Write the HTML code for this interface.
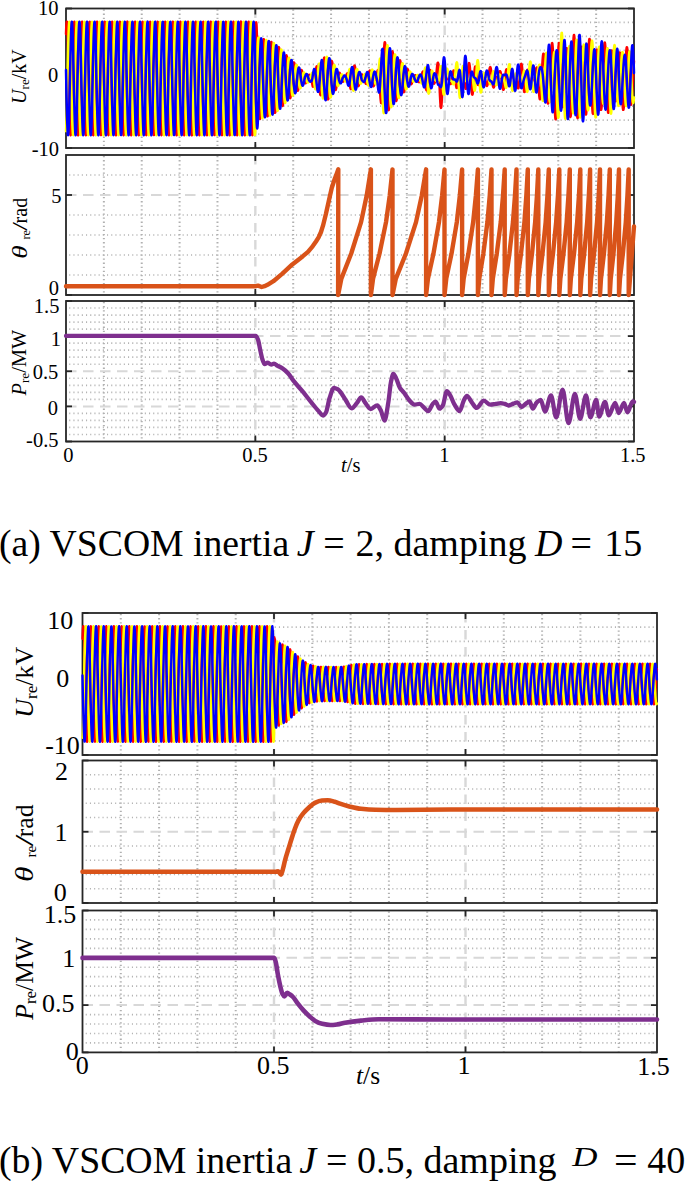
<!DOCTYPE html>
<html><head><meta charset="utf-8"><style>html,body{margin:0;padding:0;background:#fff;width:685px;height:1181px;overflow:hidden}svg{display:block}</style></head>
<body>
<svg width="685" height="1181" viewBox="0 0 685 1181">
<style>
.mn{stroke:#b4b4b4;stroke-width:1.7;stroke-dasharray:1.1 3.1;fill:none}
.mnv{stroke:#b0b0b0;stroke-width:2.0;stroke-dasharray:1.3 2.8;fill:none}
.mj{stroke:#d8d8d8;stroke-width:2;stroke-dasharray:10.5 6.5;fill:none}
.mjv{stroke:#d8d8d8;stroke-width:2.4;stroke-dasharray:9.5 7.5;fill:none}
.bx{fill:none;stroke:#262626;stroke-width:1.8}
.tk{stroke:#262626;stroke-width:1.8}
text{font-family:"Liberation Serif",serif;fill:#000}
</style>
<rect width="685" height="1181" fill="#fff"/>
<line x1="69.20" y1="134.05" x2="633.00" y2="134.05" class="mn"/>
<line x1="69.20" y1="120.10" x2="633.00" y2="120.10" class="mn"/>
<line x1="69.20" y1="106.15" x2="633.00" y2="106.15" class="mn"/>
<line x1="69.20" y1="92.20" x2="633.00" y2="92.20" class="mn"/>
<line x1="69.20" y1="64.30" x2="633.00" y2="64.30" class="mn"/>
<line x1="69.20" y1="50.35" x2="633.00" y2="50.35" class="mn"/>
<line x1="69.20" y1="36.40" x2="633.00" y2="36.40" class="mn"/>
<line x1="69.20" y1="22.45" x2="633.00" y2="22.45" class="mn"/>
<line x1="103.87" y1="9.50" x2="103.87" y2="147.00" class="mnv"/>
<line x1="141.73" y1="9.50" x2="141.73" y2="147.00" class="mnv"/>
<line x1="179.60" y1="9.50" x2="179.60" y2="147.00" class="mnv"/>
<line x1="217.47" y1="9.50" x2="217.47" y2="147.00" class="mnv"/>
<line x1="293.20" y1="9.50" x2="293.20" y2="147.00" class="mnv"/>
<line x1="331.07" y1="9.50" x2="331.07" y2="147.00" class="mnv"/>
<line x1="368.93" y1="9.50" x2="368.93" y2="147.00" class="mnv"/>
<line x1="406.80" y1="9.50" x2="406.80" y2="147.00" class="mnv"/>
<line x1="482.53" y1="9.50" x2="482.53" y2="147.00" class="mnv"/>
<line x1="520.40" y1="9.50" x2="520.40" y2="147.00" class="mnv"/>
<line x1="558.27" y1="9.50" x2="558.27" y2="147.00" class="mnv"/>
<line x1="596.13" y1="9.50" x2="596.13" y2="147.00" class="mnv"/>
<line x1="66.00" y1="78.25" x2="634.00" y2="78.25" class="mj"/>
<line x1="255.33" y1="8.50" x2="255.33" y2="148.00" class="mjv"/>
<line x1="444.67" y1="8.50" x2="444.67" y2="148.00" class="mjv"/>
<line x1="69.20" y1="275.00" x2="633.00" y2="275.00" class="mn"/>
<line x1="69.20" y1="255.00" x2="633.00" y2="255.00" class="mn"/>
<line x1="69.20" y1="235.00" x2="633.00" y2="235.00" class="mn"/>
<line x1="69.20" y1="215.00" x2="633.00" y2="215.00" class="mn"/>
<line x1="69.20" y1="175.00" x2="633.00" y2="175.00" class="mn"/>
<line x1="103.87" y1="156.00" x2="103.87" y2="294.00" class="mnv"/>
<line x1="141.73" y1="156.00" x2="141.73" y2="294.00" class="mnv"/>
<line x1="179.60" y1="156.00" x2="179.60" y2="294.00" class="mnv"/>
<line x1="217.47" y1="156.00" x2="217.47" y2="294.00" class="mnv"/>
<line x1="293.20" y1="156.00" x2="293.20" y2="294.00" class="mnv"/>
<line x1="331.07" y1="156.00" x2="331.07" y2="294.00" class="mnv"/>
<line x1="368.93" y1="156.00" x2="368.93" y2="294.00" class="mnv"/>
<line x1="406.80" y1="156.00" x2="406.80" y2="294.00" class="mnv"/>
<line x1="482.53" y1="156.00" x2="482.53" y2="294.00" class="mnv"/>
<line x1="520.40" y1="156.00" x2="520.40" y2="294.00" class="mnv"/>
<line x1="558.27" y1="156.00" x2="558.27" y2="294.00" class="mnv"/>
<line x1="596.13" y1="156.00" x2="596.13" y2="294.00" class="mnv"/>
<line x1="66.00" y1="195.00" x2="634.00" y2="195.00" class="mj"/>
<line x1="255.33" y1="155.00" x2="255.33" y2="295.00" class="mjv"/>
<line x1="444.67" y1="155.00" x2="444.67" y2="295.00" class="mjv"/>
<line x1="69.20" y1="434.48" x2="633.00" y2="434.48" class="mn"/>
<line x1="69.20" y1="427.45" x2="633.00" y2="427.45" class="mn"/>
<line x1="69.20" y1="420.43" x2="633.00" y2="420.43" class="mn"/>
<line x1="69.20" y1="413.40" x2="633.00" y2="413.40" class="mn"/>
<line x1="69.20" y1="399.35" x2="633.00" y2="399.35" class="mn"/>
<line x1="69.20" y1="392.32" x2="633.00" y2="392.32" class="mn"/>
<line x1="69.20" y1="385.30" x2="633.00" y2="385.30" class="mn"/>
<line x1="69.20" y1="378.27" x2="633.00" y2="378.27" class="mn"/>
<line x1="69.20" y1="364.23" x2="633.00" y2="364.23" class="mn"/>
<line x1="69.20" y1="357.20" x2="633.00" y2="357.20" class="mn"/>
<line x1="69.20" y1="350.18" x2="633.00" y2="350.18" class="mn"/>
<line x1="69.20" y1="343.15" x2="633.00" y2="343.15" class="mn"/>
<line x1="69.20" y1="329.10" x2="633.00" y2="329.10" class="mn"/>
<line x1="69.20" y1="322.07" x2="633.00" y2="322.07" class="mn"/>
<line x1="69.20" y1="315.05" x2="633.00" y2="315.05" class="mn"/>
<line x1="69.20" y1="308.02" x2="633.00" y2="308.02" class="mn"/>
<line x1="103.87" y1="302.00" x2="103.87" y2="440.50" class="mnv"/>
<line x1="141.73" y1="302.00" x2="141.73" y2="440.50" class="mnv"/>
<line x1="179.60" y1="302.00" x2="179.60" y2="440.50" class="mnv"/>
<line x1="217.47" y1="302.00" x2="217.47" y2="440.50" class="mnv"/>
<line x1="293.20" y1="302.00" x2="293.20" y2="440.50" class="mnv"/>
<line x1="331.07" y1="302.00" x2="331.07" y2="440.50" class="mnv"/>
<line x1="368.93" y1="302.00" x2="368.93" y2="440.50" class="mnv"/>
<line x1="406.80" y1="302.00" x2="406.80" y2="440.50" class="mnv"/>
<line x1="482.53" y1="302.00" x2="482.53" y2="440.50" class="mnv"/>
<line x1="520.40" y1="302.00" x2="520.40" y2="440.50" class="mnv"/>
<line x1="558.27" y1="302.00" x2="558.27" y2="440.50" class="mnv"/>
<line x1="596.13" y1="302.00" x2="596.13" y2="440.50" class="mnv"/>
<line x1="66.00" y1="406.38" x2="634.00" y2="406.38" class="mj"/>
<line x1="66.00" y1="371.25" x2="634.00" y2="371.25" class="mj"/>
<line x1="66.00" y1="336.12" x2="634.00" y2="336.12" class="mj"/>
<line x1="255.33" y1="301.00" x2="255.33" y2="441.50" class="mjv"/>
<line x1="444.67" y1="301.00" x2="444.67" y2="441.50" class="mjv"/>
<line x1="85.70" y1="740.80" x2="656.00" y2="740.80" class="mn"/>
<line x1="85.70" y1="726.60" x2="656.00" y2="726.60" class="mn"/>
<line x1="85.70" y1="712.40" x2="656.00" y2="712.40" class="mn"/>
<line x1="85.70" y1="698.20" x2="656.00" y2="698.20" class="mn"/>
<line x1="85.70" y1="669.80" x2="656.00" y2="669.80" class="mn"/>
<line x1="85.70" y1="655.60" x2="656.00" y2="655.60" class="mn"/>
<line x1="85.70" y1="641.40" x2="656.00" y2="641.40" class="mn"/>
<line x1="85.70" y1="627.20" x2="656.00" y2="627.20" class="mn"/>
<line x1="120.80" y1="614.00" x2="120.80" y2="754.00" class="mnv"/>
<line x1="159.10" y1="614.00" x2="159.10" y2="754.00" class="mnv"/>
<line x1="197.40" y1="614.00" x2="197.40" y2="754.00" class="mnv"/>
<line x1="235.70" y1="614.00" x2="235.70" y2="754.00" class="mnv"/>
<line x1="312.30" y1="614.00" x2="312.30" y2="754.00" class="mnv"/>
<line x1="350.60" y1="614.00" x2="350.60" y2="754.00" class="mnv"/>
<line x1="388.90" y1="614.00" x2="388.90" y2="754.00" class="mnv"/>
<line x1="427.20" y1="614.00" x2="427.20" y2="754.00" class="mnv"/>
<line x1="503.80" y1="614.00" x2="503.80" y2="754.00" class="mnv"/>
<line x1="542.10" y1="614.00" x2="542.10" y2="754.00" class="mnv"/>
<line x1="580.40" y1="614.00" x2="580.40" y2="754.00" class="mnv"/>
<line x1="618.70" y1="614.00" x2="618.70" y2="754.00" class="mnv"/>
<line x1="82.50" y1="684.00" x2="657.00" y2="684.00" class="mj"/>
<line x1="274.00" y1="613.00" x2="274.00" y2="755.00" class="mjv"/>
<line x1="465.50" y1="613.00" x2="465.50" y2="755.00" class="mjv"/>
<line x1="85.70" y1="888.75" x2="656.00" y2="888.75" class="mn"/>
<line x1="85.70" y1="874.50" x2="656.00" y2="874.50" class="mn"/>
<line x1="85.70" y1="860.25" x2="656.00" y2="860.25" class="mn"/>
<line x1="85.70" y1="846.00" x2="656.00" y2="846.00" class="mn"/>
<line x1="85.70" y1="817.50" x2="656.00" y2="817.50" class="mn"/>
<line x1="85.70" y1="803.25" x2="656.00" y2="803.25" class="mn"/>
<line x1="85.70" y1="789.00" x2="656.00" y2="789.00" class="mn"/>
<line x1="85.70" y1="774.75" x2="656.00" y2="774.75" class="mn"/>
<line x1="120.80" y1="761.50" x2="120.80" y2="902.00" class="mnv"/>
<line x1="159.10" y1="761.50" x2="159.10" y2="902.00" class="mnv"/>
<line x1="197.40" y1="761.50" x2="197.40" y2="902.00" class="mnv"/>
<line x1="235.70" y1="761.50" x2="235.70" y2="902.00" class="mnv"/>
<line x1="312.30" y1="761.50" x2="312.30" y2="902.00" class="mnv"/>
<line x1="350.60" y1="761.50" x2="350.60" y2="902.00" class="mnv"/>
<line x1="388.90" y1="761.50" x2="388.90" y2="902.00" class="mnv"/>
<line x1="427.20" y1="761.50" x2="427.20" y2="902.00" class="mnv"/>
<line x1="503.80" y1="761.50" x2="503.80" y2="902.00" class="mnv"/>
<line x1="542.10" y1="761.50" x2="542.10" y2="902.00" class="mnv"/>
<line x1="580.40" y1="761.50" x2="580.40" y2="902.00" class="mnv"/>
<line x1="618.70" y1="761.50" x2="618.70" y2="902.00" class="mnv"/>
<line x1="82.50" y1="831.75" x2="657.00" y2="831.75" class="mj"/>
<line x1="274.00" y1="760.50" x2="274.00" y2="903.00" class="mjv"/>
<line x1="465.50" y1="760.50" x2="465.50" y2="903.00" class="mjv"/>
<line x1="85.70" y1="1042.94" x2="656.00" y2="1042.94" class="mn"/>
<line x1="85.70" y1="1033.48" x2="656.00" y2="1033.48" class="mn"/>
<line x1="85.70" y1="1024.02" x2="656.00" y2="1024.02" class="mn"/>
<line x1="85.70" y1="1014.56" x2="656.00" y2="1014.56" class="mn"/>
<line x1="85.70" y1="995.64" x2="656.00" y2="995.64" class="mn"/>
<line x1="85.70" y1="986.18" x2="656.00" y2="986.18" class="mn"/>
<line x1="85.70" y1="976.72" x2="656.00" y2="976.72" class="mn"/>
<line x1="85.70" y1="967.26" x2="656.00" y2="967.26" class="mn"/>
<line x1="85.70" y1="948.34" x2="656.00" y2="948.34" class="mn"/>
<line x1="85.70" y1="938.88" x2="656.00" y2="938.88" class="mn"/>
<line x1="85.70" y1="929.42" x2="656.00" y2="929.42" class="mn"/>
<line x1="85.70" y1="919.96" x2="656.00" y2="919.96" class="mn"/>
<line x1="120.80" y1="911.50" x2="120.80" y2="1051.40" class="mnv"/>
<line x1="159.10" y1="911.50" x2="159.10" y2="1051.40" class="mnv"/>
<line x1="197.40" y1="911.50" x2="197.40" y2="1051.40" class="mnv"/>
<line x1="235.70" y1="911.50" x2="235.70" y2="1051.40" class="mnv"/>
<line x1="312.30" y1="911.50" x2="312.30" y2="1051.40" class="mnv"/>
<line x1="350.60" y1="911.50" x2="350.60" y2="1051.40" class="mnv"/>
<line x1="388.90" y1="911.50" x2="388.90" y2="1051.40" class="mnv"/>
<line x1="427.20" y1="911.50" x2="427.20" y2="1051.40" class="mnv"/>
<line x1="503.80" y1="911.50" x2="503.80" y2="1051.40" class="mnv"/>
<line x1="542.10" y1="911.50" x2="542.10" y2="1051.40" class="mnv"/>
<line x1="580.40" y1="911.50" x2="580.40" y2="1051.40" class="mnv"/>
<line x1="618.70" y1="911.50" x2="618.70" y2="1051.40" class="mnv"/>
<line x1="82.50" y1="1005.10" x2="657.00" y2="1005.10" class="mj"/>
<line x1="82.50" y1="957.80" x2="657.00" y2="957.80" class="mj"/>
<line x1="274.00" y1="910.50" x2="274.00" y2="1052.40" class="mjv"/>
<line x1="465.50" y1="910.50" x2="465.50" y2="1052.40" class="mjv"/>
<rect x="66.00" y="8.50" width="568.00" height="139.50" class="bx"/>
<line x1="66.00" y1="148.00" x2="72.00" y2="148.00" class="tk"/>
<line x1="634.00" y1="148.00" x2="628.00" y2="148.00" class="tk"/>
<line x1="66.00" y1="78.25" x2="72.00" y2="78.25" class="tk"/>
<line x1="634.00" y1="78.25" x2="628.00" y2="78.25" class="tk"/>
<line x1="66.00" y1="8.50" x2="72.00" y2="8.50" class="tk"/>
<line x1="634.00" y1="8.50" x2="628.00" y2="8.50" class="tk"/>
<line x1="255.33" y1="8.50" x2="255.33" y2="14.50" class="tk"/>
<line x1="255.33" y1="148.00" x2="255.33" y2="142.00" class="tk"/>
<line x1="444.67" y1="8.50" x2="444.67" y2="14.50" class="tk"/>
<line x1="444.67" y1="148.00" x2="444.67" y2="142.00" class="tk"/>
<rect x="66.00" y="155.00" width="568.00" height="140.00" class="bx"/>
<line x1="66.00" y1="295.00" x2="72.00" y2="295.00" class="tk"/>
<line x1="634.00" y1="295.00" x2="628.00" y2="295.00" class="tk"/>
<line x1="66.00" y1="195.00" x2="72.00" y2="195.00" class="tk"/>
<line x1="634.00" y1="195.00" x2="628.00" y2="195.00" class="tk"/>
<line x1="255.33" y1="155.00" x2="255.33" y2="161.00" class="tk"/>
<line x1="255.33" y1="295.00" x2="255.33" y2="289.00" class="tk"/>
<line x1="444.67" y1="155.00" x2="444.67" y2="161.00" class="tk"/>
<line x1="444.67" y1="295.00" x2="444.67" y2="289.00" class="tk"/>
<rect x="66.00" y="301.00" width="568.00" height="140.50" class="bx"/>
<line x1="66.00" y1="441.50" x2="72.00" y2="441.50" class="tk"/>
<line x1="634.00" y1="441.50" x2="628.00" y2="441.50" class="tk"/>
<line x1="66.00" y1="406.38" x2="72.00" y2="406.38" class="tk"/>
<line x1="634.00" y1="406.38" x2="628.00" y2="406.38" class="tk"/>
<line x1="66.00" y1="371.25" x2="72.00" y2="371.25" class="tk"/>
<line x1="634.00" y1="371.25" x2="628.00" y2="371.25" class="tk"/>
<line x1="66.00" y1="336.12" x2="72.00" y2="336.12" class="tk"/>
<line x1="634.00" y1="336.12" x2="628.00" y2="336.12" class="tk"/>
<line x1="66.00" y1="301.00" x2="72.00" y2="301.00" class="tk"/>
<line x1="634.00" y1="301.00" x2="628.00" y2="301.00" class="tk"/>
<line x1="255.33" y1="301.00" x2="255.33" y2="307.00" class="tk"/>
<line x1="255.33" y1="441.50" x2="255.33" y2="435.50" class="tk"/>
<line x1="444.67" y1="301.00" x2="444.67" y2="307.00" class="tk"/>
<line x1="444.67" y1="441.50" x2="444.67" y2="435.50" class="tk"/>
<rect x="82.50" y="613.00" width="574.50" height="142.00" class="bx"/>
<line x1="82.50" y1="755.00" x2="88.50" y2="755.00" class="tk"/>
<line x1="657.00" y1="755.00" x2="651.00" y2="755.00" class="tk"/>
<line x1="82.50" y1="684.00" x2="88.50" y2="684.00" class="tk"/>
<line x1="657.00" y1="684.00" x2="651.00" y2="684.00" class="tk"/>
<line x1="82.50" y1="613.00" x2="88.50" y2="613.00" class="tk"/>
<line x1="657.00" y1="613.00" x2="651.00" y2="613.00" class="tk"/>
<line x1="274.00" y1="613.00" x2="274.00" y2="619.00" class="tk"/>
<line x1="274.00" y1="755.00" x2="274.00" y2="749.00" class="tk"/>
<line x1="465.50" y1="613.00" x2="465.50" y2="619.00" class="tk"/>
<line x1="465.50" y1="755.00" x2="465.50" y2="749.00" class="tk"/>
<rect x="82.50" y="760.50" width="574.50" height="142.50" class="bx"/>
<line x1="82.50" y1="903.00" x2="88.50" y2="903.00" class="tk"/>
<line x1="657.00" y1="903.00" x2="651.00" y2="903.00" class="tk"/>
<line x1="82.50" y1="831.75" x2="88.50" y2="831.75" class="tk"/>
<line x1="657.00" y1="831.75" x2="651.00" y2="831.75" class="tk"/>
<line x1="82.50" y1="760.50" x2="88.50" y2="760.50" class="tk"/>
<line x1="657.00" y1="760.50" x2="651.00" y2="760.50" class="tk"/>
<line x1="274.00" y1="760.50" x2="274.00" y2="766.50" class="tk"/>
<line x1="274.00" y1="903.00" x2="274.00" y2="897.00" class="tk"/>
<line x1="465.50" y1="760.50" x2="465.50" y2="766.50" class="tk"/>
<line x1="465.50" y1="903.00" x2="465.50" y2="897.00" class="tk"/>
<rect x="82.50" y="910.50" width="574.50" height="141.90" class="bx"/>
<line x1="82.50" y1="1052.40" x2="88.50" y2="1052.40" class="tk"/>
<line x1="657.00" y1="1052.40" x2="651.00" y2="1052.40" class="tk"/>
<line x1="82.50" y1="1005.10" x2="88.50" y2="1005.10" class="tk"/>
<line x1="657.00" y1="1005.10" x2="651.00" y2="1005.10" class="tk"/>
<line x1="82.50" y1="957.80" x2="88.50" y2="957.80" class="tk"/>
<line x1="657.00" y1="957.80" x2="651.00" y2="957.80" class="tk"/>
<line x1="82.50" y1="910.50" x2="88.50" y2="910.50" class="tk"/>
<line x1="657.00" y1="910.50" x2="651.00" y2="910.50" class="tk"/>
<line x1="274.00" y1="910.50" x2="274.00" y2="916.50" class="tk"/>
<line x1="274.00" y1="1052.40" x2="274.00" y2="1046.40" class="tk"/>
<line x1="465.50" y1="910.50" x2="465.50" y2="916.50" class="tk"/>
<line x1="465.50" y1="1052.40" x2="465.50" y2="1046.40" class="tk"/>
<polyline points="66.00,33.96 66.20,28.74 66.40,24.88 66.60,22.50 66.80,21.65 67.00,22.37 67.20,24.62 67.40,28.35 67.60,33.46 67.80,39.81 68.00,47.21 68.20,55.48 68.40,64.37 68.60,73.66 68.80,83.07 69.00,92.36 69.20,101.26 69.40,109.54 69.60,116.96 69.80,123.33 70.00,128.46 70.20,132.22 70.40,134.51 70.60,135.25 70.80,134.43 71.00,132.08 71.20,128.25 71.40,123.05 71.60,116.63 71.80,109.16 72.00,100.85 72.20,91.92 72.40,82.62 72.60,73.20 72.80,63.94 73.00,55.06 73.20,46.84 73.40,39.48 73.60,33.19 73.80,28.14 74.00,24.48 74.20,22.30 74.40,21.66 74.60,22.58 74.80,25.03 75.00,28.96 75.20,34.24 75.40,40.74 75.60,48.27 75.80,56.63 76.00,65.59 76.20,74.91 76.40,84.32 76.60,93.57 76.80,102.41 77.00,110.58 77.20,117.88 77.40,124.09 77.60,129.05 77.80,132.62 78.00,134.70 78.20,135.23 78.40,134.21 78.60,131.65 78.80,127.63 79.00,122.26 79.20,115.69 79.40,108.10 79.60,99.69 79.80,90.69 80.00,81.36 80.20,71.95 80.40,62.72 80.60,53.93 80.80,45.80 81.00,38.57 81.20,32.44 81.40,27.57 81.60,24.10 81.80,22.12 82.00,21.69 82.20,22.82 82.40,25.47 82.60,29.59 82.80,35.04 83.00,41.69 83.20,49.34 83.40,57.80 83.60,66.82 83.80,76.16 84.00,85.57 84.20,94.78 84.40,103.54 84.60,111.61 84.80,118.77 85.00,124.83 85.20,129.61 85.40,132.98 85.60,134.86 85.80,135.18 86.00,133.95 86.20,131.20 86.40,126.99 86.60,121.45 86.80,114.73 87.00,107.02 87.20,98.52 87.40,89.46 87.60,80.11 87.80,70.71 88.00,61.52 88.20,52.80 88.40,44.78 88.60,37.69 88.80,31.71 89.00,27.02 89.20,23.75 89.40,21.97 89.60,21.75 89.80,23.08 90.00,25.94 90.20,30.24 90.40,35.86 90.60,42.65 90.80,50.43 91.00,58.97 91.20,68.05 91.40,77.42 91.60,86.81 91.80,95.98 92.00,104.66 92.20,112.62 92.40,119.65 92.60,125.54 92.80,130.14 93.00,133.32 93.20,134.99 93.40,135.11 93.60,133.67 93.80,130.72 94.00,126.33 94.20,120.62 94.40,113.76 94.60,105.92 94.80,97.34 95.00,88.23 95.20,78.85 95.40,69.47 95.60,60.33 95.80,51.68 96.00,43.78 96.20,36.82 96.40,31.01 96.60,26.50 96.80,23.42 97.00,21.85 97.20,21.84 97.40,23.38 97.60,26.43 97.80,30.91 98.00,36.70 98.20,43.64 98.40,51.53 98.60,60.16 98.80,69.29 99.00,78.68 99.20,88.05 99.40,97.17 99.60,105.77 99.80,113.62 100.00,120.50 100.20,126.23 100.40,130.65 100.60,133.63 100.80,135.10 101.00,135.01 101.20,133.36 101.40,130.21 101.60,125.64 101.80,119.77 102.00,112.76 102.20,104.82 102.40,96.15 102.60,86.99 102.80,77.60 103.00,68.23 103.20,59.14 103.40,50.58 103.60,42.79 103.80,35.98 104.00,30.33 104.20,26.01 104.40,23.12 104.60,21.76 104.80,21.95 105.00,23.70 105.20,26.95 105.40,31.61 105.60,37.56 105.80,44.64 106.00,52.64 106.20,61.35 106.40,70.53 106.60,79.93 106.80,89.29 107.00,98.35 107.20,106.86 107.40,114.60 107.60,121.34 107.80,126.90 108.00,131.13 108.20,133.91 108.40,135.18 108.60,134.88 108.80,133.03 109.00,129.68 109.20,124.93 109.40,118.90 109.60,111.75 109.80,103.70 110.00,94.95 110.20,85.74 110.40,76.34 110.60,66.99 110.80,57.96 111.00,49.49 111.20,41.82 111.40,35.15 111.60,29.68 111.80,25.54 112.00,22.85 112.20,21.70 112.40,22.10 112.60,24.05 112.80,27.49 113.00,32.34 113.20,38.45 113.40,45.66 113.60,53.77 113.80,62.56 114.00,71.78 114.20,81.19 114.40,90.52 114.60,99.52 114.80,107.95 115.00,115.56 115.20,122.15 115.40,127.54 115.60,131.59 115.80,134.17 116.00,135.23 116.20,134.72 116.40,132.67 116.60,129.13 116.80,124.19 117.00,118.00 117.20,110.73 117.40,102.57 117.60,93.74 117.80,84.50 118.00,75.08 118.20,65.77 118.40,56.79 118.60,48.42 118.80,40.87 119.00,34.35 119.20,29.04 119.40,25.09 119.60,22.61 119.80,21.66 120.00,22.27 120.20,24.42 120.40,28.06 120.60,33.08 120.80,39.35 121.00,46.69 121.20,54.90 121.40,63.77 121.60,73.03 121.80,82.44 122.00,91.75 122.20,100.68 122.40,109.01 122.60,116.50 122.80,122.94 123.00,128.16 123.20,132.02 123.40,134.40 123.60,135.25 123.80,134.53 124.00,132.28 124.20,128.55 124.40,123.44 124.60,117.09 124.80,109.69 125.00,101.42 125.20,92.53 125.40,83.24 125.60,73.83 125.80,64.54 126.00,55.64 126.20,47.36 126.40,39.94 126.60,33.57 126.80,28.44 127.00,24.68 127.20,22.39 127.40,21.65 127.60,22.47 127.80,24.82 128.00,28.65 128.20,33.85 128.40,40.27 128.60,47.74 128.80,56.05 129.00,64.98 129.20,74.28 129.40,83.70 129.60,92.96 129.80,101.84 130.00,110.06 130.20,117.42 130.40,123.71 130.60,128.76 130.80,132.42 131.00,134.60 131.20,135.24 131.40,134.32 131.60,131.87 131.80,127.94 132.00,122.66 132.20,116.16 132.40,108.63 132.60,100.27 132.80,91.31 133.00,81.99 133.20,72.58 133.40,63.33 133.60,54.49 133.80,46.32 134.00,39.02 134.20,32.81 134.40,27.85 134.60,24.28 134.80,22.20 135.00,21.67 135.20,22.69 135.40,25.25 135.60,29.27 135.80,34.64 136.00,41.21 136.20,48.80 136.40,57.21 136.60,66.21 136.80,75.54 137.00,84.95 137.20,94.18 137.40,102.97 137.60,111.10 137.80,118.33 138.00,124.46 138.20,129.33 138.40,132.80 138.60,134.78 138.80,135.21 139.00,134.08 139.20,131.43 139.40,127.31 139.60,121.86 139.80,115.21 140.00,107.56 140.20,99.10 140.40,90.08 140.60,80.74 140.80,71.33 141.00,62.12 141.20,53.36 141.40,45.29 141.60,38.13 141.80,32.07 142.00,27.29 142.20,23.92 142.40,22.04 142.60,21.72 142.80,22.95 143.00,25.70 143.20,29.91 143.40,35.45 143.60,42.17 143.80,49.88 144.00,58.38 144.20,67.44 144.40,76.79 144.60,86.19 144.80,95.38 145.00,104.10 145.20,112.12 145.40,119.21 145.60,125.19 145.80,129.88 146.00,133.15 146.20,134.93 146.40,135.15 146.60,133.82 146.80,130.96 147.00,126.66 147.20,121.04 147.40,114.25 147.60,106.47 147.80,97.93 148.00,88.85 148.20,79.48 148.40,70.09 148.60,60.92 148.80,52.24 149.00,44.28 149.20,37.25 149.40,31.36 149.60,26.76 149.80,23.58 150.00,21.91 150.20,21.79 150.40,23.23 150.60,26.18 150.80,30.57 151.00,36.28 151.20,43.14 151.40,50.98 151.60,59.56 151.80,68.67 152.00,78.05 152.20,87.43 152.40,96.57 152.60,105.22 152.80,113.12 153.00,120.08 153.20,125.89 153.40,130.40 153.60,133.48 153.80,135.05 154.00,135.06 154.20,133.52 154.40,130.47 154.60,125.99 154.80,120.20 155.00,113.26 155.20,105.37 155.40,96.74 155.60,87.61 155.80,78.22 156.00,68.85 156.20,59.73 156.40,51.13 156.60,43.28 156.80,36.40 157.00,30.67 157.20,26.25 157.40,23.27 157.60,21.80 157.80,21.89 158.00,23.54 158.20,26.69 158.40,31.26 158.60,37.13 158.80,44.14 159.00,52.08 159.20,60.75 159.40,69.91 159.60,79.30 159.80,88.67 160.00,97.76 160.20,106.32 160.40,114.11 160.60,120.92 160.80,126.57 161.00,130.89 161.20,133.78 161.40,135.14 161.60,134.95 161.80,133.20 162.00,129.95 162.20,125.29 162.40,119.34 162.60,112.26 162.80,104.26 163.00,95.55 163.20,86.37 163.40,76.97 163.60,67.61 163.80,58.55 164.00,50.04 164.20,42.30 164.40,35.56 164.60,30.00 164.80,25.77 165.00,22.99 165.20,21.72 165.40,22.02 165.60,23.87 165.80,27.22 166.00,31.97 166.20,38.00 166.40,45.15 166.60,53.20 166.80,61.95 167.00,71.16 167.20,80.56 167.40,89.91 167.60,98.94 167.80,107.41 168.00,115.08 168.20,121.75 168.40,127.22 168.60,131.36 168.80,134.05 169.00,135.20 169.20,134.80 169.40,132.85 169.60,129.41 169.80,124.56 170.00,118.45 170.20,111.24 170.40,103.13 170.60,94.34 170.80,85.12 171.00,75.71 171.20,66.38 171.40,57.38 171.60,48.95 171.80,41.34 172.00,34.75 172.20,29.36 172.40,25.31 172.60,22.73 172.80,21.67 173.00,22.18 173.20,24.23 173.40,27.77 173.60,32.71 173.80,38.90 174.00,46.17 174.20,54.33 174.40,63.16 174.60,72.40 174.80,81.82 175.00,91.13 175.20,100.11 175.40,108.48 175.60,116.03 175.80,122.55 176.00,127.86 176.20,131.81 176.40,134.29 176.60,135.24 176.80,134.63 177.00,132.48 177.20,128.84 177.40,123.82 177.60,117.55 177.80,110.21 178.00,102.00 178.20,93.13 178.40,83.87 178.60,74.46 178.80,65.15 179.00,56.22 179.20,47.89 179.40,40.40 179.60,33.96 179.80,28.74 180.00,24.88 180.20,22.50 180.40,21.65 180.60,22.37 180.80,24.62 181.00,28.35 181.20,33.46 181.40,39.81 181.60,47.21 181.80,55.48 182.00,64.37 182.20,73.66 182.40,83.07 182.60,92.36 182.80,101.26 183.00,109.54 183.20,116.96 183.40,123.33 183.60,128.46 183.80,132.22 184.00,134.51 184.20,135.25 184.40,134.43 184.60,132.08 184.80,128.25 185.00,123.05 185.20,116.63 185.40,109.16 185.60,100.85 185.80,91.92 186.00,82.62 186.20,73.20 186.40,63.94 186.60,55.06 186.80,46.84 187.00,39.48 187.20,33.19 187.40,28.14 187.60,24.48 187.80,22.30 188.00,21.66 188.20,22.58 188.40,25.03 188.60,28.96 188.80,34.24 189.00,40.74 189.20,48.27 189.40,56.63 189.60,65.59 189.80,74.91 190.00,84.32 190.20,93.57 190.40,102.41 190.60,110.58 190.80,117.88 191.00,124.09 191.20,129.05 191.40,132.62 191.60,134.70 191.80,135.23 192.00,134.21 192.20,131.65 192.40,127.63 192.60,122.26 192.80,115.69 193.00,108.10 193.20,99.69 193.40,90.69 193.60,81.36 193.80,71.95 194.00,62.72 194.20,53.93 194.40,45.80 194.60,38.57 194.80,32.44 195.00,27.57 195.20,24.10 195.40,22.12 195.60,21.69 195.80,22.82 196.00,25.47 196.20,29.59 196.40,35.04 196.60,41.69 196.80,49.34 197.00,57.80 197.20,66.82 197.40,76.16 197.60,85.57 197.80,94.78 198.00,103.54 198.20,111.61 198.40,118.77 198.60,124.83 198.80,129.61 199.00,132.98 199.20,134.86 199.40,135.18 199.60,133.95 199.80,131.20 200.00,126.99 200.20,121.45 200.40,114.73 200.60,107.02 200.80,98.52 201.00,89.46 201.20,80.11 201.40,70.71 201.60,61.52 201.80,52.80 202.00,44.78 202.20,37.69 202.40,31.71 202.60,27.02 202.80,23.75 203.00,21.97 203.20,21.75 203.40,23.08 203.60,25.94 203.80,30.24 204.00,35.86 204.20,42.65 204.40,50.43 204.60,58.97 204.80,68.05 205.00,77.42 205.20,86.81 205.40,95.98 205.60,104.66 205.80,112.62 206.00,119.65 206.20,125.54 206.40,130.14 206.60,133.32 206.80,134.99 207.00,135.11 207.20,133.67 207.40,130.72 207.60,126.33 207.80,120.62 208.00,113.76 208.20,105.92 208.40,97.34 208.60,88.23 208.80,78.85 209.00,69.47 209.20,60.33 209.40,51.68 209.60,43.78 209.80,36.82 210.00,31.01 210.20,26.50 210.40,23.42 210.60,21.85 210.80,21.84 211.00,23.38 211.20,26.43 211.40,30.91 211.60,36.70 211.80,43.64 212.00,51.53 212.20,60.16 212.40,69.29 212.60,78.68 212.80,88.05 213.00,97.17 213.20,105.77 213.40,113.62 213.60,120.50 213.80,126.23 214.00,130.65 214.20,133.63 214.40,135.10 214.60,135.01 214.80,133.36 215.00,130.21 215.20,125.64 215.40,119.77 215.60,112.76 215.80,104.82 216.00,96.15 216.20,86.99 216.40,77.60 216.60,68.23 216.80,59.14 217.00,50.58 217.20,42.79 217.40,35.98 217.60,30.33 217.80,26.01 218.00,23.12 218.20,21.76 218.40,21.95 218.60,23.70 218.80,26.95 219.00,31.61 219.20,37.56 219.40,44.64 219.60,52.64 219.80,61.35 220.00,70.53 220.20,79.93 220.40,89.29 220.60,98.35 220.80,106.86 221.00,114.60 221.20,121.34 221.40,126.90 221.60,131.13 221.80,133.91 222.00,135.18 222.20,134.88 222.40,133.03 222.60,129.68 222.80,124.93 223.00,118.90 223.20,111.75 223.40,103.70 223.60,94.95 223.80,85.74 224.00,76.34 224.20,66.99 224.40,57.96 224.60,49.49 224.80,41.82 225.00,35.15 225.20,29.68 225.40,25.54 225.60,22.85 225.80,21.70 226.00,22.10 226.20,24.05 226.40,27.49 226.60,32.34 226.80,38.45 227.00,45.66 227.20,53.77 227.40,62.56 227.60,71.78 227.80,81.19 228.00,90.52 228.20,99.52 228.40,107.95 228.60,115.56 228.80,122.15 229.00,127.54 229.20,131.59 229.40,134.17 229.60,135.23 229.80,134.72 230.00,132.67 230.20,129.13 230.40,124.19 230.60,118.00 230.80,110.73 231.00,102.57 231.20,93.74 231.40,84.50 231.60,75.08 231.80,65.77 232.00,56.79 232.20,48.42 232.40,40.87 232.60,34.35 232.80,29.04 233.00,25.09 233.20,22.61 233.40,21.66 233.60,22.27 233.80,24.42 234.00,28.06 234.20,33.08 234.40,39.35 234.60,46.69 234.80,54.90 235.00,63.77 235.20,73.03 235.40,82.44 235.60,91.75 235.80,100.68 236.00,109.01 236.20,116.50 236.40,122.94 236.60,128.16 236.80,132.02 237.00,134.40 237.20,135.25 237.40,134.53 237.60,132.28 237.80,128.55 238.00,123.44 238.20,117.09 238.40,109.69 238.60,101.42 238.80,92.53 239.00,83.24 239.20,73.83 239.40,64.54 239.60,55.64 239.80,47.36 240.00,39.94 240.20,33.57 240.40,28.44 240.60,24.68 240.80,22.39 241.00,21.65 241.20,22.47 241.40,24.82 241.60,28.65 241.80,33.85 242.00,40.27 242.20,47.74 242.40,56.05 242.60,64.98 242.80,74.28 243.00,83.70 243.20,92.96 243.40,101.84 243.60,110.06 243.80,117.42 244.00,123.71 244.20,128.76 244.40,132.42 244.60,134.60 244.80,135.24 245.00,134.32 245.20,131.87 245.40,127.94 245.60,122.66 245.80,116.16 246.00,108.63 246.20,100.27 246.40,91.31 246.60,81.99 246.80,72.58 247.00,63.33 247.20,54.49 247.40,46.32 247.60,39.02 247.80,32.81 248.00,27.85 248.20,24.28 248.40,22.20 248.60,21.67 248.80,22.69 249.00,25.25 249.20,29.27 249.40,34.64 249.60,41.21 249.80,48.80 250.00,57.21 250.20,66.21 250.40,75.54 250.60,84.95 250.80,94.18 251.00,102.97 251.20,111.10 251.40,118.33 251.60,124.46 251.80,129.33 252.00,132.80 252.20,134.78 252.40,135.21 252.60,134.08 252.80,131.43 253.00,127.31 253.20,121.86 253.40,115.21 253.60,107.56 253.80,99.10 254.00,90.08 254.20,80.74 254.40,71.33 254.60,62.12 254.80,53.36 255.00,45.29 255.20,38.13 255.40,32.13 255.60,27.47 255.80,24.24 256.00,22.51 256.20,22.32 256.40,23.66 256.60,27.14 256.80,32.52 257.00,38.89 257.20,46.03 257.40,53.68 257.60,61.58 257.80,69.48 258.00,77.14 258.20,84.34 258.40,90.89 258.60,96.95 258.80,102.69 259.00,107.75 259.20,111.99 259.40,115.30 259.60,117.58 259.80,118.79 260.00,118.88 260.20,117.86 260.40,115.77 260.60,112.66 260.80,108.62 261.00,103.76 261.20,98.23 261.40,92.18 261.60,85.77 261.80,79.17 262.00,72.58 262.20,66.18 262.40,60.13 262.60,54.60 262.80,49.75 263.00,45.70 263.20,42.56 263.40,40.42 263.60,39.33 263.80,39.31 264.00,40.37 264.20,42.47 264.40,45.55 264.60,49.52 264.80,54.27 265.00,59.67 265.20,65.56 265.40,71.79 265.60,78.18 265.80,84.55 266.00,90.74 266.20,96.56 266.40,101.87 266.60,106.51 266.80,110.37 267.00,113.33 267.20,115.33 267.40,116.31 267.60,116.25 267.80,115.15 268.00,113.05 268.20,110.01 268.40,106.12 268.60,101.48 268.80,96.22 269.00,90.50 269.20,84.47 269.40,78.30 269.60,72.16 269.80,66.21 270.00,60.62 270.20,55.54 270.40,51.11 270.60,47.44 270.80,44.64 271.00,42.78 271.20,41.91 271.40,42.03 271.60,43.16 271.80,45.25 272.00,48.24 272.20,52.05 272.40,56.57 272.60,61.67 272.80,67.21 273.00,73.04 273.20,78.99 273.40,84.87 273.60,90.53 273.80,95.80 274.00,100.56 274.20,104.66 274.40,108.02 274.60,110.53 274.80,112.14 275.00,112.81 275.20,112.54 275.40,111.33 275.60,109.24 275.80,106.32 276.00,102.67 276.20,98.38 276.40,93.59 276.60,88.43 276.80,83.05 277.00,77.59 277.20,72.21 277.40,67.05 277.60,62.25 277.80,57.94 278.00,54.23 278.20,51.23 278.40,49.00 278.60,47.59 278.80,47.05 279.00,47.37 279.20,48.54 279.40,50.51 279.60,53.24 279.80,56.62 280.00,60.57 280.20,65.00 280.40,69.73 280.60,74.62 280.80,79.55 281.00,84.37 281.20,88.95 281.40,93.17 281.60,96.92 281.80,100.10 282.00,102.64 282.20,104.47 282.40,105.56 282.60,105.89 282.80,105.47 283.00,104.31 283.20,102.46 283.40,99.99 283.60,96.97 283.80,93.50 284.00,89.68 284.20,85.61 284.40,81.43 284.60,77.24 284.80,73.16 285.00,69.30 285.20,65.76 285.40,62.64 285.60,60.01 285.80,57.94 286.00,56.47 286.20,55.58 286.40,55.33 286.60,55.71 286.80,56.72 287.00,58.30 287.20,60.41 287.40,62.98 287.60,65.93 287.80,69.17 288.00,72.62 288.20,76.16 288.40,79.71 288.60,83.17 288.80,86.43 289.00,89.42 289.20,92.06 289.40,94.28 289.60,96.02 289.80,97.25 290.00,97.95 290.20,98.10 290.40,97.70 290.60,96.79 290.80,95.39 291.00,93.56 291.20,91.35 291.40,88.82 291.60,86.06 291.80,83.15 292.00,80.17 292.20,77.20 292.40,74.33 292.60,71.64 292.80,69.20 293.00,67.06 293.20,65.29 293.40,63.92 293.60,62.98 293.80,62.49 294.00,62.45 294.20,62.85 294.40,63.67 294.60,64.87 294.80,66.41 295.00,68.24 295.20,70.31 295.40,72.55 295.60,74.88 295.80,77.25 296.00,79.59 296.20,81.83 296.40,83.91 296.60,85.78 296.80,87.40 297.00,88.72 297.20,89.72 297.40,90.38 297.60,90.69 297.80,90.65 298.00,90.28 298.20,89.59 298.40,88.62 298.60,87.40 298.80,85.98 299.00,84.40 299.20,82.71 299.40,80.96 299.60,79.21 299.80,77.51 300.00,75.89 300.20,74.42 300.40,73.11 300.60,72.00 300.80,71.12 301.00,70.48 301.20,70.09 301.40,69.95 301.60,70.05 301.80,70.38 302.00,70.93 302.20,71.65 302.40,72.53 302.60,73.54 302.80,74.62 303.00,75.76 303.20,76.91 303.40,78.04 303.60,79.11 303.80,80.10 304.00,80.98 304.20,81.73 304.40,82.34 304.60,82.79 304.80,83.08 305.00,83.22 305.20,83.34 305.40,83.32 305.60,83.16 305.80,82.88 306.00,82.49 306.20,82.00 306.40,81.42 306.60,80.78 306.80,80.10 307.00,79.38 307.20,78.67 307.40,77.97 307.60,77.31 307.80,76.69 308.00,76.15 308.20,75.69 308.40,75.32 308.60,75.05 308.80,74.88 309.00,74.81 309.20,74.85 309.40,74.99 309.60,75.22 309.80,75.53 310.00,75.90 310.20,76.34 310.40,76.81 310.60,77.31 310.80,77.82 311.00,78.33 311.20,78.90 311.40,79.63 311.60,80.51 311.80,81.50 312.00,82.55 312.20,83.62 312.40,84.65 312.60,85.60 312.80,86.39 313.00,86.65 313.20,86.67 313.40,86.46 313.60,85.99 313.80,85.29 314.00,84.35 314.20,83.20 314.40,81.86 314.60,80.36 314.80,78.74 315.00,77.05 315.20,75.33 315.40,73.62 315.60,71.99 315.80,70.48 316.00,69.14 316.20,68.02 316.40,67.16 316.60,66.59 316.80,66.33 317.00,66.42 317.20,66.85 317.40,67.62 317.60,68.73 317.80,70.15 318.00,71.85 318.20,73.79 318.40,75.93 318.60,78.20 318.80,80.55 319.00,82.94 319.20,85.29 319.40,87.53 319.60,89.59 319.80,91.41 320.00,92.93 320.20,94.08 320.40,94.83 320.60,95.14 320.80,94.98 321.00,94.34 321.20,93.24 321.40,91.68 321.60,89.70 321.80,87.33 322.00,84.65 322.20,81.71 322.40,78.59 322.60,75.37 322.80,72.16 323.00,69.02 323.20,66.16 323.40,63.60 323.60,61.41 323.80,59.67 324.00,58.43 324.20,57.72 324.40,57.59 324.60,58.02 324.80,59.03 325.00,60.60 325.20,62.67 325.40,65.21 325.60,68.15 325.80,71.41 326.00,74.90 326.20,78.54 326.40,82.14 326.60,85.60 326.80,88.84 327.00,91.76 327.20,94.29 327.40,96.37 327.60,97.93 327.80,98.95 328.00,99.39 328.20,99.26 328.40,98.56 328.60,97.31 328.80,95.56 329.00,93.36 329.20,90.77 329.40,87.87 329.60,84.74 329.80,81.47 330.00,78.15 330.20,74.90 330.40,71.85 330.60,69.08 330.80,66.64 331.00,64.61 331.20,63.02 331.40,61.91 331.60,61.29 331.80,61.16 332.00,61.52 332.20,62.33 332.40,63.56 332.60,65.15 332.80,67.06 333.00,69.20 333.20,71.53 333.40,73.95 333.60,76.41 333.80,78.82 334.00,81.13 334.20,83.27 334.40,85.18 334.60,86.82 334.80,88.14 335.00,89.12 335.20,89.75 335.40,90.03 335.60,89.97 335.80,89.59 336.00,88.91 336.20,87.97 336.40,86.82 336.60,85.50 336.80,84.07 337.00,82.56 337.20,81.04 337.40,79.55 337.60,78.14 337.80,76.85 338.00,75.70 338.20,74.73 338.40,73.95 338.60,73.38 338.80,73.02 339.00,72.86 339.20,72.71 339.40,72.73 339.60,72.90 339.80,73.23 340.00,73.68 340.20,74.24 340.40,74.90 340.60,75.62 340.80,76.38 341.00,77.15 341.20,77.92 341.40,78.66 341.60,79.35 341.80,79.97 342.00,80.50 342.20,80.94 342.40,81.28 342.60,81.51 342.80,81.64 343.00,81.66 343.20,81.59 343.40,81.42 343.60,81.31 343.80,81.13 344.00,80.87 344.20,80.54 344.40,80.15 344.60,79.72 344.80,79.26 345.00,78.77 345.20,78.27 345.40,77.78 345.60,77.31 345.80,76.86 346.00,76.47 346.20,75.85 346.40,75.23 346.60,74.65 346.80,74.12 347.00,73.70 347.20,73.41 347.40,73.27 347.60,73.30 347.80,73.54 348.00,73.98 348.20,74.62 348.40,75.47 348.60,76.50 348.80,77.70 349.00,79.03 349.20,80.46 349.40,81.95 349.60,83.45 349.80,84.91 350.00,86.28 350.20,87.32 350.40,88.13 350.60,88.69 350.80,88.98 351.00,88.98 351.20,88.69 351.40,88.09 351.60,87.22 351.80,86.07 352.00,84.68 352.20,83.09 352.40,81.32 352.60,79.44 352.80,77.48 353.00,75.51 353.20,73.58 353.40,71.74 353.60,70.04 353.80,68.55 354.00,67.30 354.20,66.33 354.40,65.69 354.60,65.59 354.80,66.06 355.00,66.85 355.20,67.93 355.40,69.25 355.60,70.77 355.80,72.43 356.00,74.17 356.20,75.94 356.40,77.70 356.60,79.37 356.80,80.93 357.00,82.33 357.20,83.54 357.40,84.53 357.60,85.28 357.80,85.79 358.00,86.05 358.20,86.16 358.40,86.05 358.60,85.73 358.80,85.22 359.00,84.55 359.20,83.74 359.40,82.83 359.60,81.85 359.80,80.83 360.00,79.81 360.20,78.81 360.40,77.87 360.60,77.01 360.80,76.26 361.00,75.62 361.20,75.12 361.40,74.75 361.60,74.53 361.80,74.44 362.00,74.49 362.20,74.65 362.40,74.92 362.60,75.27 362.80,75.68 363.00,76.14 363.20,76.38 363.40,76.72 363.60,77.15 363.80,77.67 364.00,78.26 364.20,78.90 364.40,79.59 364.60,80.30 364.80,81.00 365.00,81.68 365.20,82.31 365.40,82.86 365.60,83.31 365.80,83.65 366.00,83.85 366.20,83.90 366.40,83.78 366.60,83.51 366.80,83.07 367.00,82.46 367.20,81.71 367.40,80.82 367.60,79.82 367.80,78.73 368.00,77.57 368.20,76.41 368.40,75.27 368.60,74.19 368.80,73.20 369.00,72.33 369.20,71.61 369.40,71.06 369.60,70.70 369.80,70.56 370.00,70.63 370.20,70.93 370.40,71.44 370.60,72.17 370.80,73.08 371.00,74.18 371.20,75.41 371.40,76.76 371.60,78.19 371.80,79.66 372.00,81.13 372.20,82.44 372.40,83.60 372.60,84.56 372.80,85.33 373.00,85.87 373.20,86.19 373.40,86.29 373.60,86.16 373.80,85.82 374.00,85.29 374.20,84.60 374.40,83.76 374.60,82.81 374.80,81.79 375.00,80.71 375.20,79.63 375.40,78.56 375.60,77.55 375.80,76.61 376.00,75.77 376.20,75.06 376.40,74.48 376.60,74.04 376.80,73.75 377.00,73.62 377.20,72.48 377.40,71.47 377.60,70.67 377.80,70.17 378.00,70.02 378.20,70.28 378.40,70.99 378.60,72.16 378.80,73.80 379.00,75.87 379.20,78.34 379.40,81.14 379.60,84.19 379.80,87.40 380.00,90.66 380.20,93.69 380.40,96.47 380.60,98.91 380.80,100.89 381.00,102.32 381.20,103.11 381.40,103.21 381.60,102.56 381.80,101.14 382.00,98.96 382.20,96.04 382.40,92.43 382.60,88.20 382.80,83.46 383.00,78.32 383.20,72.93 383.40,67.43 383.60,61.98 383.80,56.76 384.00,51.93 384.20,47.66 384.40,44.56 384.60,42.86 384.80,42.16 385.00,42.45 385.20,43.74 385.40,45.95 385.60,49.02 385.80,52.86 386.00,57.35 386.20,62.35 386.40,67.72 386.60,73.31 386.80,78.96 387.00,84.52 387.20,89.83 387.40,94.76 387.60,99.16 387.80,102.94 388.00,105.99 388.20,108.24 388.40,109.64 388.60,110.16 388.80,109.81 389.00,108.61 389.20,106.60 389.40,103.85 389.60,100.45 389.80,96.50 390.00,92.12 390.20,87.43 390.40,82.57 390.60,77.68 390.80,72.90 391.00,68.34 391.20,64.13 391.40,60.39 391.60,57.21 391.80,54.66 392.00,52.81 392.20,51.69 392.40,51.33 392.60,51.71 392.80,52.82 393.00,54.61 393.20,57.02 393.40,59.98 393.60,63.38 393.80,67.13 394.00,71.13 394.20,75.24 394.40,79.37 394.60,83.39 394.80,87.19 395.00,90.69 395.20,93.78 395.40,96.39 395.60,98.46 395.80,99.94 396.00,100.80 396.20,101.03 396.40,100.64 396.60,99.65 396.80,98.10 397.00,96.04 397.20,93.55 397.40,90.69 397.60,87.56 397.80,84.25 398.00,80.86 398.20,77.47 398.40,74.19 398.60,71.10 398.80,68.29 399.00,65.82 399.20,63.75 399.40,62.14 399.60,61.02 399.80,60.40 400.00,60.29 400.20,60.68 400.40,61.55 400.60,62.87 400.80,64.57 401.00,66.61 401.20,68.92 401.40,71.43 401.60,74.06 401.80,76.74 402.00,79.39 402.20,81.93 402.40,84.31 402.60,86.45 402.80,88.31 403.00,89.84 403.20,91.00 403.40,91.79 403.60,92.18 403.80,92.18 404.00,91.80 404.20,91.07 404.40,90.01 404.60,88.67 404.80,87.10 405.00,85.35 405.20,83.47 405.40,81.52 405.60,79.56 405.80,77.65 406.00,75.84 406.20,74.17 406.40,72.69 406.60,71.44 406.80,70.43 407.00,69.70 407.20,69.21 407.40,68.99 407.60,69.05 407.80,69.37 408.00,69.92 408.20,70.69 408.40,71.64 408.60,72.74 408.80,73.94 409.00,75.21 409.20,76.52 409.40,77.81 409.60,79.05 409.80,80.21 410.00,81.26 410.20,82.17 410.40,82.93 410.60,83.51 410.80,83.91 411.00,84.13 411.20,84.17 411.40,84.05 411.60,83.77 411.80,83.36 412.00,82.83 412.20,82.22 412.40,81.54 412.60,80.83 412.80,80.11 413.00,79.40 413.20,78.73 413.40,78.12 413.60,77.58 413.80,77.13 414.00,76.78 414.20,76.37 414.40,76.01 414.60,75.72 414.80,75.49 415.00,75.34 415.20,75.28 415.40,75.30 415.60,75.41 415.80,75.61 416.00,75.89 416.20,76.25 416.40,76.67 416.60,77.15 416.80,77.68 417.00,78.24 417.20,78.81 417.40,79.38 417.60,79.93 417.80,80.45 418.00,80.93 418.20,81.34 418.40,81.68 418.60,81.94 418.80,82.10 419.00,82.16 419.20,82.12 419.40,81.98 419.60,81.74 419.80,81.40 420.00,80.98 420.20,80.48 420.40,79.91 420.60,79.30 420.80,78.65 421.00,77.99 421.20,77.26 421.40,76.45 421.60,75.61 421.80,74.76 422.00,73.94 422.20,73.18 422.40,72.52 422.60,71.99 422.80,71.63 423.00,71.45 423.20,71.49 423.40,71.76 423.60,72.27 423.80,73.01 424.00,73.98 424.20,75.17 424.40,76.54 424.60,78.06 424.80,79.70 425.00,81.41 425.20,83.10 425.40,84.74 425.60,86.27 425.80,87.62 426.00,88.75 426.20,89.60 426.40,90.14 426.60,90.33 426.80,90.16 427.00,89.62 427.20,88.73 427.40,87.50 427.60,85.98 427.80,84.22 428.00,82.26 428.20,80.10 428.40,78.05 428.60,76.16 428.80,74.49 429.00,73.06 429.20,71.90 429.40,71.02 429.60,70.43 429.80,70.11 430.00,70.05 430.20,70.23 430.40,70.62 430.60,71.19 430.80,71.91 431.00,72.75 431.20,73.67 431.40,74.66 431.60,75.68 431.80,76.71 432.00,77.74 432.20,78.73 432.40,79.68 432.60,80.56 432.80,81.36 433.00,82.06 433.20,82.65 433.40,83.11 433.60,83.44 433.80,83.62 434.00,83.65 434.20,83.52 434.40,83.25 434.60,82.83 434.80,82.28 435.00,81.63 435.20,81.28 435.40,80.68 435.60,79.79 435.80,78.62 436.00,77.18 436.20,75.50 436.40,73.63 436.60,71.64 436.80,69.61 437.00,67.65 437.20,65.86 437.40,64.37 437.60,63.28 437.80,62.71 438.00,62.75 438.20,63.48 438.40,64.93 438.60,67.11 438.80,70.01 439.00,73.55 439.20,77.63 439.40,82.11 439.60,86.81 439.80,91.53 440.00,96.07 440.20,100.00 440.40,103.29 440.60,105.79 440.80,107.37 441.00,107.92 441.20,107.40 441.40,105.82 441.60,103.23 441.80,99.72 442.00,95.43 442.20,90.10 442.40,84.79 442.60,79.72 442.80,75.08 443.00,71.03 443.20,67.67 443.40,65.08 443.60,63.29 443.80,62.28 444.00,62.01 444.20,62.39 444.40,63.32 444.60,64.68 444.80,66.35 445.00,68.19 445.20,70.08 445.40,71.92 445.60,73.62 445.80,75.12 446.00,76.36 446.20,77.35 446.40,78.06 446.60,78.53 446.80,78.80 447.00,78.90 447.20,78.91 447.40,78.85 447.60,78.79 447.80,78.76 448.00,78.81 448.20,78.96 448.40,79.23 448.60,79.62 448.80,80.11 449.00,80.70 449.20,81.34 449.40,82.01 449.60,82.64 449.80,83.21 450.00,83.67 450.20,83.97 450.40,84.09 450.60,84.00 450.80,83.71 451.00,83.19 451.20,82.49 451.40,81.60 451.60,80.58 451.80,79.47 452.00,78.31 452.20,77.09 452.40,75.83 452.60,74.57 452.80,73.38 453.00,72.32 453.20,71.45 453.40,70.82 453.60,70.48 453.80,70.45 454.00,70.75 454.20,71.39 454.40,72.35 454.60,73.60 454.80,75.10 455.00,76.78 455.20,78.57 455.40,80.40 455.60,82.19 455.80,83.86 456.00,85.32 456.20,86.53 456.40,87.41 456.60,87.93 456.80,88.06 457.00,87.80 457.20,87.17 457.40,86.18 457.60,84.89 457.80,83.36 458.00,81.67 458.20,79.86 458.40,78.08 458.60,76.39 458.80,74.86 459.00,73.54 459.20,72.50 459.40,71.73 459.60,71.27 459.80,71.11 460.00,71.22 460.20,71.57 460.40,72.12 460.60,72.81 460.80,73.59 461.00,74.42 461.20,75.22 461.40,75.97 461.60,76.63 461.80,77.17 462.00,77.60 462.20,77.90 462.40,78.11 462.60,78.26 462.80,78.37 463.00,78.51 463.20,78.70 463.40,79.00 463.60,79.43 463.80,80.01 464.00,80.75 464.20,81.65 464.40,82.66 464.60,83.77 464.80,84.91 465.00,86.01 465.20,87.02 465.40,87.85 465.60,88.44 465.80,88.72 466.00,88.64 466.20,88.17 466.40,87.29 466.60,86.00 466.80,84.32 467.00,82.31 467.20,80.02 467.40,77.54 467.60,74.96 467.80,72.40 468.00,69.97 468.20,67.76 468.40,65.89 468.60,64.44 468.80,63.47 469.00,63.05 469.20,63.20 469.40,63.91 469.60,65.17 469.80,66.91 470.00,69.07 470.20,71.39 470.40,74.05 470.60,76.95 470.80,79.98 471.00,83.00 471.20,85.90 471.40,88.55 471.60,90.83 471.80,92.65 472.00,93.92 472.20,94.60 472.40,94.64 472.60,94.06 472.80,92.87 473.00,91.13 473.20,88.93 473.40,86.36 473.60,83.54 473.80,80.59 474.00,77.66 474.20,74.87 474.40,72.33 474.60,70.16 474.80,68.43 475.00,67.22 475.20,66.56 475.40,66.46 475.60,66.89 475.80,67.82 476.00,69.18 476.20,70.88 476.40,72.83 476.60,74.92 476.80,77.04 477.00,79.08 477.20,80.91 477.40,82.46 477.60,83.65 477.80,84.47 478.00,84.90 478.20,84.95 478.40,84.65 478.60,84.05 478.80,83.22 479.00,82.21 479.20,81.10 479.40,79.95 479.60,78.83 479.80,77.80 480.00,76.90 480.20,76.16 480.40,75.60 480.60,75.23 480.80,75.04 481.00,75.01 481.20,75.11 481.40,75.32 481.60,75.59 481.80,75.90 482.00,76.21 482.20,76.50 482.40,76.75 482.60,76.94 482.80,77.08 483.00,77.17 483.20,77.22 483.40,77.26 483.60,77.30 483.80,77.38 484.00,77.51 484.20,77.71 484.40,78.02 484.60,78.43 484.80,78.97 485.00,79.62 485.20,80.37 485.40,81.20 485.60,82.08 485.80,82.97 486.00,83.82 486.20,84.58 486.40,85.22 486.60,85.68 486.80,85.92 487.00,85.91 487.20,85.62 487.40,85.05 487.60,84.20 487.80,83.07 488.00,81.71 488.20,80.15 488.40,78.44 488.60,76.64 488.80,74.83 489.00,73.07 489.20,71.43 489.40,69.98 489.60,68.78 489.80,67.88 490.00,67.32 490.20,67.12 490.40,67.29 490.60,67.84 490.80,68.73 491.00,69.93 491.20,71.40 491.40,73.09 491.60,74.91 491.80,76.81 492.00,78.72 492.20,80.56 492.40,82.27 492.60,83.80 492.80,85.10 493.00,86.12 493.20,86.86 493.40,87.31 493.60,87.46 493.80,87.33 494.00,86.95 494.20,86.36 494.40,85.60 494.60,84.72 494.80,83.76 495.00,82.78 495.20,81.81 495.40,80.89 495.60,80.05 495.80,79.31 496.00,78.68 496.20,78.17 496.40,77.76 496.60,77.45 496.80,77.20 497.00,77.00 497.20,76.82 497.40,76.62 497.60,76.39 497.80,76.10 498.00,75.75 498.20,75.32 498.40,74.81 498.60,74.25 498.80,73.65 499.00,73.03 499.20,72.44 499.40,71.92 499.60,71.50 499.80,71.23 500.00,71.14 500.20,71.27 500.40,71.63 500.60,72.25 500.80,73.14 501.00,74.27 501.20,75.63 501.40,77.18 501.60,78.87 501.80,80.64 502.00,82.44 502.20,84.17 502.40,85.79 502.60,87.21 502.80,88.38 503.00,89.23 503.20,89.72 503.40,89.83 503.60,89.55 503.80,88.87 504.00,87.82 504.20,86.44 504.40,84.78 504.60,82.92 504.80,80.92 505.00,78.86 505.20,76.84 505.40,74.93 505.60,73.21 505.80,71.74 506.00,70.59 506.20,69.79 506.40,69.36 506.60,69.31 506.80,69.63 507.00,70.28 507.20,71.22 507.40,72.40 507.60,73.75 507.80,75.20 508.00,76.68 508.20,78.12 508.40,79.45 508.60,80.62 508.80,81.59 509.00,82.32 509.20,82.81 509.40,83.04 509.60,83.02 509.80,82.79 510.00,82.38 510.20,81.82 510.40,81.16 510.60,80.45 510.80,79.74 511.00,79.06 511.20,78.45 511.40,77.94 511.60,77.53 511.80,77.24 512.00,77.06 512.20,76.98 512.40,76.98 512.60,77.03 512.80,77.10 513.00,77.16 513.20,77.20 513.40,77.18 513.60,77.11 513.80,76.96 514.00,76.76 514.20,76.51 514.40,76.23 514.60,75.97 514.80,75.74 515.00,75.59 515.20,75.56 515.40,75.68 515.60,75.97 515.80,76.47 516.00,77.16 516.20,78.05 516.40,79.12 516.60,80.34 516.80,81.65 517.00,83.01 517.20,84.34 517.40,85.58 517.60,86.65 517.80,87.49 518.00,88.03 518.20,88.22 518.40,88.03 518.60,87.42 518.80,86.41 519.00,85.01 519.20,83.26 519.40,81.22 519.60,78.95 519.80,76.55 520.00,74.12 520.20,71.73 520.40,69.51 520.60,67.54 520.80,65.93 521.00,64.74 521.20,64.05 521.40,63.89 521.60,64.29 521.80,65.23 522.00,66.68 522.20,68.59 522.40,70.89 522.60,73.48 522.80,76.25 523.00,79.09 523.20,81.89 523.40,84.53 523.60,86.90 523.80,88.91 524.00,90.47 524.20,91.54 524.40,92.08 524.60,92.08 524.80,91.55 525.00,90.53 525.20,89.08 525.40,87.27 525.60,85.19 525.80,82.95 526.00,80.63 526.20,78.35 526.40,76.21 526.60,74.28 526.80,72.64 527.00,71.35 527.20,70.44 527.40,69.94 527.60,69.83 527.80,70.10 528.00,70.72 528.20,71.62 528.40,72.74 528.60,74.02 528.80,75.38 529.00,76.75 529.20,78.06 529.40,79.26 529.60,80.29 529.80,81.11 530.00,81.71 530.20,82.05 530.40,82.19 530.60,82.15 530.80,81.96 531.00,81.66 531.20,81.29 531.40,80.89 531.60,80.50 531.80,80.16 532.00,79.89 532.20,79.71 532.40,79.63 532.60,79.64 532.80,79.73 533.00,79.87 533.20,80.03 533.40,80.16 533.60,80.23 533.80,80.19 534.00,80.00 534.20,79.63 534.40,79.07 534.60,78.30 534.80,77.34 535.00,76.19 535.20,74.91 535.40,73.54 535.60,72.15 535.80,70.81 536.00,69.60 536.20,68.59 536.40,67.87 536.60,67.51 536.80,67.56 537.00,68.06 537.20,69.04 537.40,70.50 537.60,72.41 537.80,74.73 538.00,77.40 538.20,80.32 538.40,83.39 538.60,86.49 538.80,89.50 539.00,92.30 539.20,94.77 539.40,96.78 539.60,98.25 539.80,99.11 540.00,99.29 540.20,98.86 540.40,97.73 540.60,95.91 540.80,93.45 541.00,90.42 541.20,86.94 541.40,83.10 541.60,79.05 541.80,74.92 542.00,70.85 542.20,66.97 542.40,63.42 542.60,60.30 542.80,57.71 543.00,55.71 543.20,54.35 543.40,53.66 543.60,53.64 543.80,54.25 544.00,55.46 544.20,57.22 544.40,59.44 544.60,62.06 544.80,65.00 545.00,68.16 545.20,71.47 545.40,74.85 545.60,78.25 545.80,81.59 546.00,84.83 546.20,87.92 546.40,90.83 546.60,93.52 546.80,95.96 547.00,98.12 547.20,99.96 547.40,101.46 547.60,102.58 547.80,103.27 548.00,103.52 548.20,103.16 548.40,102.34 548.60,101.03 548.80,99.24 549.00,96.98 549.20,94.24 549.40,91.04 549.60,87.43 549.80,83.45 550.00,79.17 550.20,74.65 550.40,70.01 550.60,65.34 550.80,60.78 551.00,56.46 551.20,52.52 551.40,49.10 551.60,46.34 551.80,44.36 552.00,43.26 552.20,43.13 552.40,44.03 552.60,45.97 552.80,48.95 553.00,52.92 553.20,57.77 553.40,63.39 553.60,69.62 553.80,76.26 554.00,83.11 554.20,89.95 554.40,96.53 554.60,102.64 554.80,108.06 555.00,112.58 555.20,116.04 555.40,118.31 555.60,119.30 555.80,118.97 556.00,117.32 556.20,114.26 556.40,110.07 556.60,104.89 556.80,98.91 557.00,92.35 557.20,85.44 557.40,78.41 557.60,71.51 557.80,64.97 558.00,59.00 558.20,53.79 558.40,49.50 558.60,46.24 558.80,44.09 559.00,43.10 559.20,43.26 559.40,44.53 559.60,46.84 559.80,50.08 560.00,54.11 560.20,58.78 560.40,63.91 560.60,69.35 560.80,74.90 561.00,80.40 561.20,85.69 561.40,90.62 561.60,95.06 561.80,98.91 562.00,102.08 562.20,104.52 562.40,106.17 562.60,107.03 562.80,107.11 563.00,106.41 563.20,104.99 563.40,102.90 563.60,100.19 563.80,96.96 564.00,93.27 564.20,89.23 564.40,84.93 564.60,80.45 564.80,75.92 565.00,71.42 565.20,67.05 565.40,62.93 565.60,59.14 565.80,55.78 566.00,52.93 566.20,50.69 566.40,49.12 566.60,48.28 566.80,48.21 567.00,48.95 567.20,50.55 567.40,52.95 567.60,56.12 567.80,60.00 568.00,64.51 568.20,69.55 568.40,74.99 568.60,80.70 568.80,86.52 569.00,92.28 569.20,97.80 569.40,102.91 569.60,107.45 569.80,111.25 570.00,114.17 570.20,116.09 570.40,116.92 570.60,116.60 570.80,115.11 571.00,112.47 571.20,108.72 571.40,103.97 571.60,98.33 571.80,91.98 572.00,85.10 572.20,77.91 572.40,70.63 572.60,63.49 572.80,56.73 573.00,50.57 573.20,45.22 573.40,40.85 573.60,37.62 573.80,35.64 574.00,34.96 574.20,35.63 574.40,37.60 574.60,40.82 574.80,45.19 575.00,50.54 575.20,56.70 575.40,63.47 575.60,70.63 575.80,77.94 576.00,85.17 576.20,92.11 576.40,98.53 576.60,104.26 576.80,109.13 577.00,113.02 577.20,115.84 577.40,117.54 577.60,118.11 577.80,117.57 578.00,115.98 578.20,113.42 578.40,110.00 578.60,105.87 578.80,101.15 579.00,96.01 579.20,90.59 579.40,85.05 579.60,79.52 579.80,74.15 580.00,69.05 580.20,64.32 580.40,60.06 580.60,56.32 580.80,53.16 581.00,50.62 581.20,48.70 581.40,47.43 581.60,46.81 581.80,46.83 582.00,47.48 582.20,48.75 582.40,50.62 582.60,53.05 582.80,56.02 583.00,59.49 583.20,63.40 583.40,67.71 583.60,72.34 583.80,77.21 584.00,82.22 584.20,87.28 584.40,92.27 584.60,97.06 584.80,101.51 585.00,105.51 585.20,108.92 585.40,111.62 585.60,113.50 585.80,114.46 586.00,114.44 586.20,113.40 586.40,111.33 586.60,108.26 586.80,104.24 587.00,99.36 587.20,93.77 587.40,87.61 587.60,81.08 587.80,74.36 588.00,67.69 588.20,61.27 588.40,55.33 588.60,50.06 588.80,45.66 589.00,42.26 589.20,40.00 589.40,38.95 589.60,39.16 589.80,40.61 590.00,43.26 590.20,47.00 590.40,51.72 590.60,57.25 590.80,63.39 591.00,69.94 591.20,76.67 591.40,83.36 591.60,89.79 591.80,95.76 592.00,101.09 592.20,105.62 592.40,109.23 592.60,111.83 592.80,113.37 593.00,113.83 593.20,113.24 593.40,111.65 593.60,109.14 593.80,105.83 594.00,101.84 594.20,97.32 594.40,92.41 594.60,87.27 594.80,82.04 595.00,76.87 595.20,71.90 595.40,67.23 595.60,62.97 595.80,59.21 596.00,56.02 596.20,53.44 596.40,51.50 596.60,50.23 596.80,49.64 597.00,49.70 597.20,50.42 597.40,51.75 597.60,53.66 597.80,56.11 598.00,59.05 598.20,62.42 598.40,66.15 598.60,70.19 598.80,74.44 599.00,78.84 599.20,83.29 599.40,87.70 599.60,91.97 599.80,95.99 600.00,99.68 600.20,102.93 600.40,105.65 600.60,107.74 600.80,109.13 601.00,109.76 601.20,109.58 601.40,108.57 601.60,106.72 601.80,104.06 602.00,100.62 602.20,96.49 602.40,91.77 602.60,86.56 602.80,81.01 603.00,75.28 603.20,69.54 603.40,63.96 603.60,58.71 603.80,53.96 604.00,49.87 604.20,46.59 604.40,44.22 604.60,42.85 604.80,42.55 605.00,43.34 605.20,45.21 605.40,48.11 605.60,51.95 605.80,56.60 606.00,61.93 606.20,67.77 606.40,73.92 606.60,80.20 606.80,86.39 607.00,92.30 607.20,97.74 607.40,102.54 607.60,106.55 607.80,109.64 608.00,111.73 608.20,112.76 608.40,112.72 608.60,111.62 608.80,109.51 609.00,106.48 609.20,102.65 609.40,98.15 609.60,93.14 609.80,87.79 610.00,82.28 610.20,76.79 610.40,71.49 610.60,66.53 610.80,62.07 611.00,58.22 611.20,55.08 611.40,52.73 611.60,51.20 611.80,50.51 612.00,50.66 612.20,51.60 612.40,53.28 612.60,55.62 612.80,58.53 613.00,61.90 613.20,65.63 613.40,69.60 613.60,73.69 613.80,77.79 614.00,81.80 614.20,85.62 614.40,89.15 614.60,92.33 614.80,95.09 615.00,97.37 615.20,99.14 615.40,100.36 615.60,101.03 615.80,101.13 616.00,100.66 616.20,99.65 616.40,98.11 616.60,96.08 616.80,93.60 617.00,90.72 617.20,87.50 617.40,84.01 617.60,80.32 617.80,76.51 618.00,72.67 618.20,68.90 618.40,65.30 618.60,61.96 618.80,58.99 619.00,56.49 619.20,54.53 619.40,53.20 619.60,52.56 619.80,52.65 620.00,53.50 620.20,55.12 620.40,57.48 620.60,60.53 620.80,64.20 621.00,68.41 621.20,73.04 621.40,77.94 621.60,82.98 621.80,88.00 622.00,92.83 622.20,97.32 622.40,101.31 622.60,104.66 622.80,107.26 623.00,109.01 623.20,109.84 623.40,109.71 623.60,108.61 623.80,106.58 624.00,103.68 624.20,99.99 624.40,95.64 624.60,90.75 624.80,85.49 625.00,80.04 625.20,74.55 625.40,69.21 625.60,64.17 625.80,59.60 626.00,55.62 626.20,52.31 626.40,49.78 626.60,48.09 626.80,47.29 627.00,47.36 627.20,48.30 627.40,50.04 627.60,52.52 627.80,55.64 628.00,59.30 628.20,63.37 628.40,67.74 628.60,72.28 628.80,76.86 629.00,81.37 629.20,85.70 629.40,89.74 629.60,93.42 629.80,96.66 630.00,99.40 630.20,101.61 630.40,103.25 630.60,104.31 630.80,104.78 631.00,104.67 631.20,104.00 631.40,102.80 631.60,101.09 631.80,98.92 632.00,96.32 632.20,93.36 632.40,90.09 632.60,86.57 632.80,82.86 633.00,79.04 633.20,75.17 633.40,71.35 633.60,67.66 633.80,64.16 634.00,60.96" fill="none" stroke="#ff0000" stroke-width="2.5" stroke-linejoin="round" stroke-linecap="round"/>
<polyline points="66.00,131.27 66.20,127.10 66.40,121.59 66.60,114.89 66.80,107.20 67.00,98.71 67.20,89.67 67.40,80.32 67.60,70.92 67.80,61.72 68.00,52.98 68.20,44.95 68.40,37.83 68.60,31.83 68.80,27.11 69.00,23.80 69.20,22.00 69.40,21.74 69.60,23.04 69.80,25.86 70.00,30.13 70.20,35.72 70.40,42.49 70.60,50.25 70.80,58.78 71.00,67.85 71.20,77.21 71.40,86.61 71.60,95.78 71.80,104.48 72.00,112.46 72.20,119.50 72.40,125.42 72.60,130.05 72.80,133.26 73.00,134.97 73.20,135.12 73.40,133.72 73.60,130.80 73.80,126.44 74.00,120.76 74.20,113.92 74.40,106.11 74.60,97.53 74.80,88.43 75.00,79.06 75.20,69.67 75.40,60.52 75.60,51.87 75.80,43.94 76.00,36.96 76.20,31.13 76.40,26.59 76.60,23.47 76.80,21.87 77.00,21.82 77.20,23.33 77.40,26.35 77.60,30.80 77.80,36.56 78.00,43.47 78.20,51.34 78.40,59.96 78.60,69.08 78.80,78.47 79.00,87.85 79.20,96.97 79.40,105.59 79.60,113.45 79.80,120.36 80.00,126.12 80.20,130.57 80.40,133.58 80.60,135.08 80.80,135.03 81.00,133.42 81.20,130.30 81.40,125.76 81.60,119.91 81.80,112.93 82.00,105.00 82.20,96.34 82.40,87.19 82.60,77.80 82.80,68.43 83.00,59.34 83.20,50.76 83.40,42.95 83.60,36.12 83.80,30.44 84.00,26.09 84.20,23.17 84.40,21.77 84.60,21.93 84.80,23.64 85.00,26.86 85.20,31.50 85.40,37.42 85.60,44.47 85.80,52.45 86.00,61.15 86.20,70.33 86.40,79.72 86.60,89.09 86.80,98.15 87.00,106.68 87.20,114.44 87.40,121.20 87.60,126.79 87.80,131.05 88.00,133.87 88.20,135.16 88.40,134.90 88.60,133.09 88.80,129.77 89.00,125.05 89.20,119.04 89.40,111.92 89.60,103.89 89.80,95.15 90.00,85.95 90.20,76.55 90.40,67.20 90.60,58.16 90.80,49.67 91.00,41.98 91.20,35.29 91.40,29.78 91.60,25.61 91.80,22.90 92.00,21.70 92.20,22.07 92.40,23.99 92.60,27.40 92.80,32.21 93.00,38.30 93.20,45.49 93.40,53.58 93.60,62.35 93.80,71.57 94.00,80.98 94.20,90.32 94.40,99.33 94.60,107.77 94.80,115.40 95.00,122.02 95.20,127.44 95.40,131.51 95.60,134.13 95.80,135.22 96.00,134.75 96.20,132.73 96.40,129.22 96.60,124.32 96.80,118.15 97.00,110.90 97.20,102.76 97.40,93.94 97.60,84.70 97.80,75.29 98.00,65.97 98.20,56.99 98.40,48.60 98.60,41.03 98.80,34.48 99.00,29.15 99.20,25.17 99.40,22.65 99.60,21.66 99.80,22.24 100.00,24.36 100.20,27.96 100.40,32.96 100.60,39.20 100.80,46.52 101.00,54.71 101.20,63.56 101.40,72.82 101.60,82.23 101.80,91.54 102.00,100.49 102.20,108.84 102.40,116.34 102.60,122.81 102.80,128.06 103.00,131.95 103.20,134.37 103.40,135.25 103.60,134.57 103.80,132.35 104.00,128.65 104.20,123.57 104.40,117.25 104.60,109.86 104.80,101.61 105.00,92.73 105.20,83.45 105.40,74.04 105.60,64.75 105.80,55.83 106.00,47.54 106.20,40.09 106.40,33.70 106.60,28.54 106.80,24.74 107.00,22.43 107.20,21.65 107.40,22.43 107.60,24.75 107.80,28.55 108.00,33.72 108.20,40.11 108.40,47.56 108.60,55.86 108.80,64.78 109.00,74.07 109.20,83.49 109.40,92.76 109.60,101.64 109.80,109.89 110.00,117.27 110.20,123.59 110.40,128.66 110.60,132.36 110.80,134.57 111.00,135.25 111.20,134.36 111.40,131.94 111.60,128.05 111.80,122.79 112.00,116.32 112.20,108.81 112.40,100.46 112.60,91.51 112.80,82.20 113.00,72.79 113.20,63.53 113.40,54.68 113.60,46.49 113.80,39.17 114.00,32.94 114.20,27.95 114.40,24.35 114.60,22.23 114.80,21.66 115.00,22.65 115.20,25.18 115.40,29.16 115.60,34.50 115.80,41.05 116.00,48.63 116.20,57.02 116.40,66.00 116.60,75.33 116.80,84.74 117.00,93.97 117.20,102.79 117.40,110.93 117.60,118.18 117.80,124.34 118.00,129.24 118.20,132.74 118.40,134.75 118.60,135.22 118.80,134.12 119.00,131.50 119.20,127.42 119.40,122.00 119.60,115.37 119.80,107.74 120.00,99.30 120.20,90.28 120.40,80.95 120.60,71.54 120.80,62.32 121.00,53.55 121.20,45.46 121.40,38.27 121.60,32.19 121.80,27.39 122.00,23.98 122.20,22.07 122.40,21.71 122.60,22.90 122.80,25.63 123.00,29.80 123.20,35.31 123.40,42.01 123.60,49.70 123.80,58.19 124.00,67.23 124.20,76.58 124.40,85.98 124.60,95.18 124.80,103.92 125.00,111.95 125.20,119.07 125.40,125.07 125.60,129.79 125.80,133.10 126.00,134.90 126.20,135.16 126.40,133.86 126.60,131.04 126.80,126.77 127.00,121.18 127.20,114.41 127.40,106.65 127.60,98.12 127.80,89.05 128.00,79.69 128.20,70.29 128.40,61.12 128.60,52.42 128.80,44.44 129.00,37.40 129.20,31.48 129.40,26.85 129.60,23.64 129.80,21.93 130.00,21.78 130.20,23.18 130.40,26.10 130.60,30.46 130.80,36.14 131.00,42.98 131.20,50.79 131.40,59.37 131.60,68.47 131.80,77.84 132.00,87.23 132.20,96.38 132.40,105.03 132.60,112.96 132.80,119.94 133.00,125.77 133.20,130.31 133.40,133.43 133.60,135.03 133.80,135.08 134.00,133.57 134.20,130.55 134.40,126.10 134.60,120.34 134.80,113.43 135.00,105.56 135.20,96.94 135.40,87.82 135.60,78.43 135.80,69.05 136.00,59.93 136.20,51.31 136.40,43.45 136.60,36.54 136.80,30.78 137.00,26.33 137.20,23.32 137.40,21.82 137.60,21.87 137.80,23.48 138.00,26.60 138.20,31.14 138.40,36.99 138.60,43.97 138.80,51.90 139.00,60.56 139.20,69.71 139.40,79.10 139.60,88.47 139.80,97.56 140.00,106.14 140.20,113.95 140.40,120.78 140.60,126.46 140.80,130.81 141.00,133.73 141.20,135.13 141.40,134.97 141.60,133.26 141.80,130.04 142.00,125.40 142.20,119.48 142.40,112.43 142.60,104.45 142.80,95.75 143.00,86.57 143.20,77.18 143.40,67.81 143.60,58.75 143.80,50.22 144.00,42.46 144.20,35.70 144.40,30.11 144.60,25.85 144.80,23.03 145.00,21.74 145.20,22.00 145.40,23.81 145.60,27.13 145.80,31.85 146.00,37.86 146.20,44.98 146.40,53.01 146.60,61.75 146.80,70.95 147.00,80.35 147.20,89.70 147.40,98.74 147.60,107.23 147.80,114.92 148.00,121.61 148.20,127.12 148.40,131.29 148.60,134.00 148.80,135.20 149.00,134.83 149.20,132.91 149.40,129.50 149.60,124.69 149.80,118.60 150.00,111.41 150.20,103.32 150.40,94.55 150.60,85.33 150.80,75.92 151.00,66.58 151.20,57.57 151.40,49.13 151.60,41.50 151.80,34.88 152.00,29.46 152.20,25.39 152.40,22.77 152.60,21.68 152.80,22.15 153.00,24.17 153.20,27.68 153.40,32.58 153.60,38.75 153.80,46.00 154.00,54.14 154.20,62.96 154.40,72.20 154.60,81.61 154.80,90.93 155.00,99.91 155.20,108.30 155.40,115.87 155.60,122.42 155.80,127.75 156.00,131.73 156.20,134.25 156.40,135.24 156.60,134.66 156.80,132.54 157.00,128.94 157.20,123.94 157.40,117.70 157.60,110.38 157.80,102.19 158.00,93.34 158.20,84.08 158.40,74.67 158.60,65.36 158.80,56.41 159.00,48.06 159.20,40.56 159.40,34.09 159.60,28.84 159.80,24.95 160.00,22.53 160.20,21.65 160.40,22.33 160.60,24.55 160.80,28.25 161.00,33.33 161.20,39.65 161.40,47.04 161.60,55.29 161.80,64.17 162.00,73.45 162.20,82.86 162.40,92.15 162.60,101.07 162.80,109.36 163.00,116.81 163.20,123.20 163.40,128.36 163.60,132.16 163.80,134.47 164.00,135.25 164.20,134.47 164.40,132.15 164.60,128.35 164.80,123.18 165.00,116.79 165.20,109.34 165.40,101.04 165.60,92.12 165.80,82.83 166.00,73.41 166.20,64.14 166.40,55.26 166.60,47.01 166.80,39.63 167.00,33.31 167.20,28.24 167.40,24.54 167.60,22.33 167.80,21.65 168.00,22.54 168.20,24.96 168.40,28.85 168.60,34.11 168.80,40.58 169.00,48.09 169.20,56.44 169.40,65.39 169.60,74.70 169.80,84.11 170.00,93.37 170.20,102.22 170.40,110.41 170.60,117.73 170.80,123.96 171.00,128.95 171.20,132.55 171.40,134.67 171.60,135.24 171.80,134.25 172.00,131.72 172.20,127.74 172.40,122.40 172.60,115.85 172.80,108.27 173.00,99.88 173.20,90.90 173.40,81.57 173.60,72.16 173.80,62.93 174.00,54.11 174.20,45.97 174.40,38.72 174.60,32.56 174.80,27.66 175.00,24.16 175.20,22.15 175.40,21.68 175.60,22.78 175.80,25.40 176.00,29.48 176.20,34.90 176.40,41.53 176.60,49.16 176.80,57.60 177.00,66.62 177.20,75.95 177.40,85.36 177.60,94.58 177.80,103.35 178.00,111.44 178.20,118.63 178.40,124.71 178.60,129.51 178.80,132.92 179.00,134.83 179.20,135.19 179.40,134.00 179.60,131.27 179.80,127.10 180.00,121.59 180.20,114.89 180.40,107.20 180.60,98.71 180.80,89.67 181.00,80.32 181.20,70.92 181.40,61.72 181.60,52.98 181.80,44.95 182.00,37.83 182.20,31.83 182.40,27.11 182.60,23.80 182.80,22.00 183.00,21.74 183.20,23.04 183.40,25.86 183.60,30.13 183.80,35.72 184.00,42.49 184.20,50.25 184.40,58.78 184.60,67.85 184.80,77.21 185.00,86.61 185.20,95.78 185.40,104.48 185.60,112.46 185.80,119.50 186.00,125.42 186.20,130.05 186.40,133.26 186.60,134.97 186.80,135.12 187.00,133.72 187.20,130.80 187.40,126.44 187.60,120.76 187.80,113.92 188.00,106.11 188.20,97.53 188.40,88.43 188.60,79.06 188.80,69.67 189.00,60.52 189.20,51.87 189.40,43.94 189.60,36.96 189.80,31.13 190.00,26.59 190.20,23.47 190.40,21.87 190.60,21.82 190.80,23.33 191.00,26.35 191.20,30.80 191.40,36.56 191.60,43.47 191.80,51.34 192.00,59.96 192.20,69.08 192.40,78.47 192.60,87.85 192.80,96.97 193.00,105.59 193.20,113.45 193.40,120.36 193.60,126.12 193.80,130.57 194.00,133.58 194.20,135.08 194.40,135.03 194.60,133.42 194.80,130.30 195.00,125.76 195.20,119.91 195.40,112.93 195.60,105.00 195.80,96.34 196.00,87.19 196.20,77.80 196.40,68.43 196.60,59.34 196.80,50.76 197.00,42.95 197.20,36.12 197.40,30.44 197.60,26.09 197.80,23.17 198.00,21.77 198.20,21.93 198.40,23.64 198.60,26.86 198.80,31.50 199.00,37.42 199.20,44.47 199.40,52.45 199.60,61.15 199.80,70.33 200.00,79.72 200.20,89.09 200.40,98.15 200.60,106.68 200.80,114.44 201.00,121.20 201.20,126.79 201.40,131.05 201.60,133.87 201.80,135.16 202.00,134.90 202.20,133.09 202.40,129.77 202.60,125.05 202.80,119.04 203.00,111.92 203.20,103.89 203.40,95.15 203.60,85.95 203.80,76.55 204.00,67.20 204.20,58.16 204.40,49.67 204.60,41.98 204.80,35.29 205.00,29.78 205.20,25.61 205.40,22.90 205.60,21.70 205.80,22.07 206.00,23.99 206.20,27.40 206.40,32.21 206.60,38.30 206.80,45.49 207.00,53.58 207.20,62.35 207.40,71.57 207.60,80.98 207.80,90.32 208.00,99.33 208.20,107.77 208.40,115.40 208.60,122.02 208.80,127.44 209.00,131.51 209.20,134.13 209.40,135.22 209.60,134.75 209.80,132.73 210.00,129.22 210.20,124.32 210.40,118.15 210.60,110.90 210.80,102.76 211.00,93.94 211.20,84.70 211.40,75.29 211.60,65.97 211.80,56.99 212.00,48.60 212.20,41.03 212.40,34.48 212.60,29.15 212.80,25.17 213.00,22.65 213.20,21.66 213.40,22.24 213.60,24.36 213.80,27.96 214.00,32.96 214.20,39.20 214.40,46.52 214.60,54.71 214.80,63.56 215.00,72.82 215.20,82.23 215.40,91.54 215.60,100.49 215.80,108.84 216.00,116.34 216.20,122.81 216.40,128.06 216.60,131.95 216.80,134.37 217.00,135.25 217.20,134.57 217.40,132.35 217.60,128.65 217.80,123.57 218.00,117.25 218.20,109.86 218.40,101.61 218.60,92.73 218.80,83.45 219.00,74.04 219.20,64.75 219.40,55.83 219.60,47.54 219.80,40.09 220.00,33.70 220.20,28.54 220.40,24.74 220.60,22.43 220.80,21.65 221.00,22.43 221.20,24.75 221.40,28.55 221.60,33.72 221.80,40.11 222.00,47.56 222.20,55.86 222.40,64.78 222.60,74.07 222.80,83.49 223.00,92.76 223.20,101.64 223.40,109.89 223.60,117.27 223.80,123.59 224.00,128.66 224.20,132.36 224.40,134.57 224.60,135.25 224.80,134.36 225.00,131.94 225.20,128.05 225.40,122.79 225.60,116.32 225.80,108.81 226.00,100.46 226.20,91.51 226.40,82.20 226.60,72.79 226.80,63.53 227.00,54.68 227.20,46.49 227.40,39.17 227.60,32.94 227.80,27.95 228.00,24.35 228.20,22.23 228.40,21.66 228.60,22.65 228.80,25.18 229.00,29.16 229.20,34.50 229.40,41.05 229.60,48.63 229.80,57.02 230.00,66.00 230.20,75.33 230.40,84.74 230.60,93.97 230.80,102.79 231.00,110.93 231.20,118.18 231.40,124.34 231.60,129.24 231.80,132.74 232.00,134.75 232.20,135.22 232.40,134.12 232.60,131.50 232.80,127.42 233.00,122.00 233.20,115.37 233.40,107.74 233.60,99.30 233.80,90.28 234.00,80.95 234.20,71.54 234.40,62.32 234.60,53.55 234.80,45.46 235.00,38.27 235.20,32.19 235.40,27.39 235.60,23.98 235.80,22.07 236.00,21.71 236.20,22.90 236.40,25.63 236.60,29.80 236.80,35.31 237.00,42.01 237.20,49.70 237.40,58.19 237.60,67.23 237.80,76.58 238.00,85.98 238.20,95.18 238.40,103.92 238.60,111.95 238.80,119.07 239.00,125.07 239.20,129.79 239.40,133.10 239.60,134.90 239.80,135.16 240.00,133.86 240.20,131.04 240.40,126.77 240.60,121.18 240.80,114.41 241.00,106.65 241.20,98.12 241.40,89.05 241.60,79.69 241.80,70.29 242.00,61.12 242.20,52.42 242.40,44.44 242.60,37.40 242.80,31.48 243.00,26.85 243.20,23.64 243.40,21.93 243.60,21.78 243.80,23.18 244.00,26.10 244.20,30.46 244.40,36.14 244.60,42.98 244.80,50.79 245.00,59.37 245.20,68.47 245.40,77.84 245.60,87.23 245.80,96.38 246.00,105.03 246.20,112.96 246.40,119.94 246.60,125.77 246.80,130.31 247.00,133.43 247.20,135.03 247.40,135.08 247.60,133.57 247.80,130.55 248.00,126.10 248.20,120.34 248.40,113.43 248.60,105.56 248.80,96.94 249.00,87.82 249.20,78.43 249.40,69.05 249.60,59.93 249.80,51.31 250.00,43.45 250.20,36.54 250.40,30.78 250.60,26.33 250.80,23.32 251.00,21.82 251.20,21.87 251.40,23.48 251.60,26.60 251.80,31.14 252.00,36.99 252.20,43.97 252.40,51.90 252.60,60.56 252.80,69.71 253.00,79.10 253.20,88.47 253.40,97.56 253.60,106.14 253.80,113.95 254.00,120.78 254.20,126.46 254.40,130.81 254.60,133.73 254.80,135.13 255.00,134.97 255.20,133.26 255.40,129.98 255.60,125.24 255.80,119.24 256.00,112.15 256.20,104.17 256.40,95.52 256.60,86.35 256.80,77.25 257.00,68.67 257.20,60.84 257.40,53.97 257.60,48.20 257.80,43.64 258.00,40.37 258.20,38.40 258.40,37.71 258.60,37.55 258.80,37.80 259.00,39.17 259.20,41.61 259.40,45.06 259.60,49.41 259.80,54.54 260.00,60.31 260.20,66.56 260.40,73.12 260.60,79.80 260.80,86.42 261.00,92.80 261.20,98.77 261.40,104.15 261.60,108.82 261.80,112.64 262.00,115.50 262.20,117.34 262.40,118.11 262.60,117.79 262.80,116.39 263.00,113.95 263.20,110.55 263.40,106.28 263.60,101.26 263.80,95.63 264.00,89.55 264.20,83.18 264.40,76.71 264.60,70.31 264.80,64.15 265.00,58.41 265.20,53.23 265.40,48.77 265.60,45.13 265.80,42.42 266.00,40.71 266.20,40.04 266.40,40.43 266.60,41.86 266.80,44.29 267.00,47.65 267.20,51.84 267.40,56.74 267.60,62.22 267.80,68.12 268.00,74.29 268.20,80.55 268.40,86.72 268.60,92.65 268.80,98.16 269.00,103.11 269.20,107.37 269.40,110.81 269.60,113.36 269.80,114.94 270.00,115.51 270.20,115.07 270.40,113.62 270.60,111.21 270.80,107.91 271.00,103.82 271.20,99.05 271.40,93.73 271.60,88.02 271.80,82.06 272.00,76.03 272.20,70.09 272.40,64.40 272.60,59.12 272.80,54.38 273.00,50.33 273.20,47.14 273.40,44.84 273.60,43.47 273.80,43.08 274.00,43.66 274.20,45.18 274.40,47.61 274.60,50.85 274.80,54.83 275.00,59.41 275.20,64.47 275.40,69.87 275.60,75.46 275.80,81.07 276.00,86.57 276.20,91.79 276.40,96.59 276.60,100.85 276.80,104.46 277.00,107.32 277.20,109.37 277.40,110.55 277.60,110.84 277.80,110.23 278.00,108.77 278.20,106.49 278.40,103.46 278.60,99.78 278.80,95.55 279.00,90.89 279.20,85.94 279.40,80.84 279.60,75.72 279.80,70.73 280.00,66.00 280.20,61.70 280.40,57.92 280.60,54.77 280.80,52.31 281.00,50.61 281.20,49.70 281.40,49.59 281.60,50.27 281.80,51.71 282.00,53.86 282.20,56.64 282.40,59.98 282.60,63.77 282.80,67.90 283.00,72.24 283.20,76.68 283.40,81.10 283.60,85.36 283.80,89.36 284.00,92.99 284.20,96.15 284.40,98.78 284.60,100.80 284.80,102.17 285.00,102.86 285.20,102.88 285.40,102.22 285.60,100.93 285.80,99.04 286.00,96.63 286.20,93.80 286.40,90.60 286.60,87.11 286.80,83.44 287.00,79.69 287.20,75.97 287.40,72.38 287.60,69.01 287.80,65.96 288.00,63.30 288.20,61.09 288.40,59.40 288.60,58.27 288.80,57.70 289.00,57.71 289.20,58.29 289.40,59.41 289.60,61.03 289.80,63.10 290.00,65.56 290.20,68.32 290.40,71.31 290.60,74.43 290.80,77.61 291.00,80.75 291.20,83.77 291.40,86.58 291.60,89.12 291.80,91.31 292.00,93.11 292.20,94.45 292.40,95.33 292.60,95.72 292.80,95.63 293.00,95.07 293.20,94.07 293.40,92.67 293.60,90.91 293.80,88.84 294.00,86.55 294.20,84.09 294.40,81.53 294.60,78.96 294.80,76.43 295.00,74.03 295.20,71.81 295.40,69.84 295.60,68.15 295.80,66.80 296.00,65.80 296.20,65.17 296.40,64.93 296.60,65.07 296.80,65.57 297.00,66.41 297.20,67.56 297.40,68.97 297.60,70.60 297.80,72.39 298.00,74.29 298.20,76.25 298.40,78.20 298.60,80.09 298.80,81.87 299.00,83.49 299.20,84.92 299.40,86.11 299.60,87.05 299.80,87.72 300.00,88.10 300.20,88.20 300.40,88.03 300.60,87.60 300.80,86.93 301.00,86.05 301.20,85.01 301.40,83.82 301.60,82.54 301.80,81.20 302.00,79.86 302.20,78.53 302.40,77.28 302.60,76.11 302.80,75.08 303.00,74.20 303.20,73.48 303.40,72.95 303.60,72.61 303.80,72.45 304.00,72.47 304.20,72.67 304.40,73.02 304.60,73.50 304.80,74.09 305.00,74.76 305.20,75.41 305.40,76.13 305.60,76.89 305.80,77.67 306.00,78.45 306.20,79.21 306.40,79.93 306.60,80.58 306.80,81.16 307.00,81.65 307.20,82.03 307.40,82.30 307.60,82.46 307.80,82.50 308.00,82.43 308.20,82.26 308.40,81.98 308.60,81.61 308.80,81.18 309.00,80.68 309.20,80.13 309.40,79.56 309.60,78.98 309.80,78.41 310.00,77.86 310.20,77.35 310.40,76.89 310.60,76.49 310.80,76.16 311.00,75.91 311.20,75.17 311.40,74.45 311.60,73.79 311.80,73.25 312.00,72.88 312.20,72.70 312.40,72.76 312.60,73.07 312.80,73.66 313.00,74.69 313.20,75.89 313.40,77.22 313.60,78.65 313.80,80.14 314.00,81.66 314.20,83.15 314.40,84.57 314.60,85.87 314.80,87.02 315.00,87.97 315.20,88.68 315.40,89.12 315.60,89.28 315.80,89.13 316.00,88.67 316.20,87.90 316.40,86.83 316.60,85.48 316.80,83.89 317.00,82.08 317.20,80.11 317.40,78.02 317.60,75.88 317.80,73.74 318.00,71.67 318.20,69.73 318.40,67.97 318.60,66.45 318.80,65.17 319.00,64.22 319.20,63.65 319.40,63.47 319.60,63.72 319.80,64.40 320.00,65.50 320.20,67.01 320.40,68.90 320.60,71.13 320.80,73.63 321.00,76.36 321.20,79.23 321.40,82.17 321.60,85.10 321.80,87.93 322.00,90.57 322.20,92.95 322.40,94.99 322.60,96.62 322.80,97.79 323.00,98.44 323.20,98.41 323.40,97.82 323.60,96.68 323.80,95.03 324.00,92.90 324.20,90.33 324.40,87.41 324.60,84.20 324.80,80.78 325.00,77.26 325.20,73.73 325.40,70.29 325.60,67.03 325.80,64.04 326.00,61.42 326.20,59.44 326.40,58.00 326.60,57.13 326.80,56.86 327.00,57.17 327.20,58.07 327.40,59.52 327.60,61.47 327.80,63.87 328.00,66.64 328.20,69.72 328.40,73.00 328.60,76.40 328.80,79.82 329.00,83.18 329.20,86.37 329.40,89.31 329.60,91.93 329.80,94.15 330.00,95.92 330.20,97.01 330.40,97.55 330.60,97.56 330.80,97.03 331.00,96.01 331.20,94.55 331.40,92.68 331.60,90.48 331.80,88.03 332.00,85.39 332.20,82.65 332.40,79.90 332.60,77.20 332.80,74.63 333.00,72.26 333.20,70.16 333.40,68.36 333.60,66.92 333.80,65.85 334.00,65.17 334.20,64.89 334.40,65.00 334.60,65.48 334.80,66.31 335.00,67.46 335.20,68.85 335.40,70.45 335.60,72.18 335.80,73.99 336.00,75.83 336.20,77.64 336.40,79.36 336.60,80.95 336.80,82.36 337.00,83.57 337.20,84.55 337.40,85.29 337.60,85.77 337.80,86.00 338.00,85.99 338.20,85.75 338.40,85.32 338.60,84.71 338.80,83.97 339.00,83.13 339.20,82.36 339.40,81.51 339.60,80.62 339.80,79.70 340.00,78.80 340.20,77.93 340.40,77.12 340.60,76.40 340.80,75.76 341.00,75.24 341.20,74.84 341.40,74.57 341.60,74.42 341.80,74.40 342.00,74.50 342.20,74.70 342.40,75.00 342.60,75.37 342.80,75.81 343.00,76.30 343.20,76.80 343.40,77.32 343.60,77.79 343.80,78.29 344.00,78.78 344.20,79.27 344.40,79.74 344.60,80.17 344.80,80.55 345.00,80.87 345.20,81.13 345.40,81.32 345.60,81.42 345.80,81.45 346.00,81.39 346.20,81.58 346.40,81.64 346.60,81.55 346.80,81.31 347.00,80.90 347.20,80.32 347.40,79.59 347.60,78.70 347.80,77.70 348.00,76.60 348.20,75.45 348.40,74.27 348.60,73.11 348.80,72.02 349.00,71.03 349.20,70.20 349.40,69.57 349.60,69.16 349.80,69.01 350.00,69.15 350.20,69.77 350.40,70.65 350.60,71.78 350.80,73.12 351.00,74.65 351.20,76.32 351.40,78.09 351.60,79.92 351.80,81.75 352.00,83.53 352.20,85.21 352.40,86.75 352.60,88.08 352.80,89.18 353.00,90.00 353.20,90.51 353.40,90.70 353.60,90.55 353.80,90.05 354.00,89.23 354.20,88.08 354.40,86.64 354.60,84.83 354.80,82.80 355.00,80.74 355.20,78.71 355.40,76.77 355.60,74.96 355.80,73.34 356.00,71.95 356.20,70.81 356.40,69.94 356.60,69.37 356.80,69.08 357.00,69.07 357.20,69.33 357.40,69.83 357.60,70.55 357.80,71.45 358.00,72.49 358.20,73.58 358.40,74.75 358.60,75.96 358.80,77.18 359.00,78.37 359.20,79.50 359.40,80.53 359.60,81.45 359.80,82.22 360.00,82.83 360.20,83.28 360.40,83.56 360.60,83.68 360.80,83.63 361.00,83.43 361.20,83.11 361.40,82.67 361.60,82.14 361.80,81.55 362.00,80.91 362.20,80.26 362.40,79.62 362.60,79.01 362.80,78.45 363.00,77.95 363.20,77.42 363.40,76.86 363.60,76.31 363.80,75.76 364.00,75.26 364.20,74.82 364.40,74.45 364.60,74.18 364.80,74.03 365.00,74.00 365.20,74.10 365.40,74.35 365.60,74.74 365.80,75.27 366.00,75.93 366.20,76.70 366.40,77.57 366.60,78.52 366.80,79.52 367.00,80.54 367.20,81.55 367.40,82.52 367.60,83.43 367.80,84.23 368.00,84.90 368.20,85.36 368.40,85.63 368.60,85.71 368.80,85.59 369.00,85.26 369.20,84.73 369.40,84.01 369.60,83.12 369.80,82.07 370.00,80.89 370.20,79.61 370.40,78.27 370.60,76.90 370.80,75.54 371.00,74.22 371.20,73.00 371.40,71.90 371.60,70.96 371.80,70.21 372.00,69.67 372.20,69.62 372.40,69.82 372.60,70.25 372.80,70.90 373.00,71.72 373.20,72.70 373.40,73.81 373.60,74.99 373.80,76.23 374.00,77.47 374.20,78.69 374.40,79.85 374.60,80.92 374.80,81.87 375.00,82.69 375.20,83.34 375.40,83.83 375.60,84.14 375.80,84.28 376.00,84.24 376.20,84.05 376.40,83.70 376.60,83.23 376.80,82.65 377.00,81.98 377.20,81.93 377.40,81.52 377.60,80.72 377.80,79.54 378.00,78.00 378.20,76.15 378.40,74.04 378.60,71.74 378.80,69.34 379.00,66.94 379.20,64.65 379.40,62.57 379.60,60.80 379.80,59.46 380.00,58.63 380.20,58.58 380.40,59.16 380.60,60.38 380.80,62.26 381.00,64.76 381.20,67.86 381.40,71.49 381.60,75.55 381.80,79.96 382.00,84.58 382.20,89.29 382.40,93.95 382.60,98.40 382.80,102.50 383.00,106.11 383.20,109.08 383.40,111.30 383.60,112.67 383.80,113.11 384.00,112.56 384.20,110.99 384.40,107.99 384.60,103.77 384.80,98.91 385.00,93.56 385.20,87.86 385.40,81.98 385.60,76.09 385.80,70.34 386.00,64.89 386.20,59.89 386.40,55.47 386.60,51.73 386.80,48.79 387.00,46.69 387.20,45.49 387.40,45.22 387.60,45.86 387.80,47.38 388.00,49.72 388.20,52.82 388.40,56.58 388.60,60.88 388.80,65.59 389.00,70.58 389.20,75.72 389.40,80.84 389.60,85.82 389.80,90.52 390.00,94.82 390.20,98.60 390.40,101.76 390.60,104.24 390.80,105.97 391.00,106.91 391.20,107.07 391.40,106.43 391.60,105.04 391.80,102.95 392.00,100.22 392.20,96.94 392.40,93.22 392.60,89.15 392.80,84.87 393.00,80.49 393.20,76.13 393.40,71.91 393.60,67.95 393.80,64.36 394.00,61.22 394.20,58.61 394.40,56.59 394.60,55.21 394.80,54.50 395.00,54.45 395.20,55.06 395.40,56.29 395.60,58.11 395.80,60.44 396.00,63.23 396.20,66.37 396.40,69.78 396.60,73.36 396.80,77.00 397.00,80.61 397.20,84.08 397.40,87.32 397.60,90.25 397.80,92.79 398.00,94.88 398.20,96.47 398.40,97.53 398.60,98.05 398.80,98.01 399.00,97.44 399.20,96.36 399.40,94.82 399.60,92.87 399.80,90.57 400.00,87.99 400.20,85.22 400.40,82.33 400.60,79.41 400.80,76.54 401.00,73.80 401.20,71.27 401.40,69.00 401.60,67.05 401.80,65.47 402.00,64.29 402.20,63.54 402.40,63.22 402.60,63.33 402.80,63.85 403.00,64.75 403.20,66.01 403.40,67.56 403.60,69.37 403.80,71.37 404.00,73.50 404.20,75.69 404.40,77.88 404.60,80.01 404.80,82.02 405.00,83.86 405.20,85.48 405.40,86.84 405.60,87.92 405.80,88.70 406.00,89.16 406.20,89.30 406.40,89.14 406.60,88.69 406.80,87.97 407.00,87.02 407.20,85.89 407.40,84.61 407.60,83.21 407.80,81.73 408.00,80.23 408.20,78.74 408.40,77.31 408.60,75.98 408.80,74.77 409.00,73.73 409.20,72.87 409.40,72.21 409.60,71.76 409.80,71.52 410.00,71.49 410.20,71.66 410.40,72.01 410.60,72.52 410.80,73.18 411.00,73.94 411.20,74.78 411.40,75.67 411.60,76.58 411.80,77.48 412.00,78.34 412.20,79.14 412.40,79.85 412.60,80.47 412.80,80.96 413.00,81.34 413.20,81.59 413.40,81.72 413.60,81.73 413.80,81.63 414.00,81.44 414.20,81.40 414.40,81.27 414.60,81.06 414.80,80.77 415.00,80.41 415.20,79.99 415.40,79.53 415.60,79.02 415.80,78.49 416.00,77.94 416.20,77.40 416.40,76.89 416.60,76.40 416.80,75.97 417.00,75.59 417.20,75.29 417.40,75.08 417.60,74.95 417.80,74.92 418.00,74.98 418.20,75.15 418.40,75.41 418.60,75.75 418.80,76.18 419.00,76.68 419.20,77.23 419.40,77.83 419.60,78.45 419.80,79.08 420.00,79.71 420.20,80.31 420.40,80.86 420.60,81.36 420.80,81.78 421.00,82.12 421.20,82.64 421.40,83.06 421.60,83.37 421.80,83.54 422.00,83.54 422.20,83.35 422.40,82.98 422.60,82.40 422.80,81.64 423.00,80.70 423.20,79.60 423.40,78.36 423.60,77.02 423.80,75.62 424.00,74.20 424.20,72.81 424.40,71.49 424.60,70.29 424.80,69.26 425.00,68.44 425.20,67.80 425.40,67.46 425.60,67.44 425.80,67.77 426.00,68.48 426.20,69.57 426.40,71.04 426.60,72.86 426.80,75.00 427.00,77.39 427.20,79.98 427.40,82.68 427.60,85.39 427.80,88.01 428.00,90.43 428.20,92.01 428.40,93.09 428.60,93.64 428.80,93.65 429.00,93.15 429.20,92.17 429.40,90.78 429.60,89.03 429.80,87.03 430.00,84.85 430.20,82.60 430.40,80.36 430.60,78.22 430.80,76.26 431.00,74.55 431.20,73.12 431.40,72.02 431.60,71.26 431.80,70.84 432.00,70.74 432.20,70.93 432.40,71.36 432.60,72.00 432.80,72.78 433.00,73.66 433.20,74.58 433.40,75.50 433.60,76.37 433.80,77.16 434.00,77.85 434.20,78.43 434.40,78.89 434.60,79.24 434.80,79.48 435.00,79.62 435.20,79.89 435.40,80.13 435.60,80.34 435.80,80.52 436.00,80.69 436.20,80.85 436.40,81.01 436.60,81.18 436.80,81.36 437.00,81.55 437.20,81.73 437.40,81.89 437.60,82.00 437.80,82.03 438.00,81.94 438.20,81.71 438.40,81.30 438.60,80.68 438.80,79.84 439.00,78.78 439.20,77.50 439.40,76.04 439.60,74.44 439.80,72.78 440.00,71.12 440.20,69.47 440.40,68.04 440.60,66.94 440.80,66.27 441.00,66.11 441.20,66.53 441.40,67.56 441.60,69.21 441.80,71.45 442.00,74.23 442.20,77.49 442.40,80.80 442.60,84.03 442.80,87.01 443.00,89.64 443.20,91.79 443.40,93.38 443.60,94.36 443.80,94.70 444.00,94.39 444.20,93.49 444.40,92.04 444.60,90.13 444.80,87.87 445.00,85.36 445.20,82.72 445.40,80.08 445.60,77.54 445.80,75.20 446.00,73.14 446.20,71.44 446.40,70.14 446.60,69.25 446.80,68.77 447.00,68.70 447.20,68.81 447.40,69.25 447.60,69.95 447.80,70.87 448.00,71.95 448.20,73.12 448.40,74.33 448.60,75.51 448.80,76.62 449.00,77.63 449.20,78.50 449.40,79.22 449.60,79.78 449.80,80.20 450.00,80.49 450.20,80.66 450.40,80.76 450.60,80.80 450.80,80.81 451.00,80.83 451.20,80.87 451.40,80.96 451.60,81.09 451.80,81.28 452.00,81.51 452.20,81.92 452.40,82.38 452.60,82.85 452.80,83.31 453.00,83.72 453.20,84.02 453.40,84.19 453.60,84.17 453.80,83.93 454.00,83.42 454.20,82.63 454.40,81.55 454.60,80.19 454.80,78.55 455.00,76.69 455.20,74.66 455.40,72.53 455.60,70.37 455.80,68.29 456.00,66.38 456.20,64.74 456.40,63.46 456.60,62.62 456.80,62.30 457.00,62.55 457.20,63.39 457.40,64.83 457.60,66.85 457.80,69.39 458.00,72.38 458.20,75.73 458.40,79.26 458.60,82.81 458.80,86.26 459.00,89.47 459.20,92.30 459.40,94.65 459.60,96.43 459.80,97.56 460.00,97.99 460.20,97.73 460.40,96.79 460.60,95.22 460.80,93.09 461.00,90.50 461.20,87.56 461.40,84.41 461.60,81.17 461.80,77.99 462.00,74.98 462.20,72.27 462.40,69.96 462.60,68.11 462.80,66.78 463.00,65.98 463.20,65.93 463.40,66.37 463.60,67.24 463.80,68.45 464.00,69.91 464.20,71.51 464.40,73.17 464.60,74.80 464.80,76.31 465.00,77.66 465.20,78.79 465.40,79.69 465.60,80.34 465.80,80.75 466.00,80.95 466.20,80.96 466.40,80.84 466.60,80.62 466.80,80.34 467.00,80.05 467.20,79.79 467.40,79.57 467.60,79.41 467.80,79.32 468.00,79.30 468.20,79.32 468.40,79.37 468.60,79.43 468.80,79.47 469.00,79.45 469.20,79.37 469.40,79.19 469.60,78.92 469.80,78.55 470.00,78.10 470.20,77.55 470.40,76.94 470.60,76.29 470.80,75.64 471.00,75.05 471.20,74.55 471.40,74.20 471.60,74.05 471.80,74.14 472.00,74.49 472.20,75.12 472.40,76.04 472.60,77.23 472.80,78.65 473.00,80.27 473.20,82.01 473.40,83.81 473.60,85.56 473.80,87.19 474.00,88.60 474.20,89.70 474.40,90.41 474.60,90.66 474.80,90.41 475.00,89.64 475.20,88.33 475.40,86.52 475.60,84.26 475.80,81.61 476.00,78.68 476.20,75.57 476.40,72.41 476.60,69.33 476.80,66.47 477.00,63.95 477.20,62.09 477.40,60.82 477.60,60.20 477.80,60.25 478.00,60.97 478.20,62.31 478.40,64.23 478.60,66.64 478.80,69.42 479.00,72.47 479.20,75.66 479.40,78.85 479.60,81.92 479.80,84.75 480.00,87.25 480.20,89.32 480.40,90.90 480.60,91.96 480.80,92.48 481.00,92.48 481.20,91.98 481.40,91.04 481.60,89.72 481.80,88.11 482.00,86.30 482.20,84.37 482.40,82.41 482.60,80.51 482.80,78.74 483.00,77.15 483.20,75.80 483.40,74.72 483.60,73.90 483.80,73.37 484.00,73.09 484.20,72.99 484.40,73.08 484.60,73.34 484.80,73.71 485.00,74.16 485.20,74.64 485.40,75.11 485.60,75.55 485.80,75.92 486.00,76.22 486.20,76.44 486.40,76.59 486.60,76.67 486.80,76.70 487.00,76.72 487.20,76.75 487.40,76.82 487.60,76.95 487.80,77.16 488.00,77.48 488.20,77.91 488.40,78.44 488.60,79.08 488.80,79.80 489.00,80.58 489.20,81.37 489.40,82.15 489.60,82.87 489.80,83.49 490.00,83.96 490.20,84.26 490.40,84.35 490.60,84.21 490.80,83.84 491.00,83.24 491.20,82.42 491.40,81.40 491.60,80.23 491.80,78.95 492.00,77.61 492.20,76.26 492.40,74.97 492.60,73.80 492.80,72.80 493.00,72.01 493.20,71.47 493.40,71.21 493.60,71.25 493.80,71.58 494.00,72.19 494.20,73.06 494.40,74.15 494.60,75.41 494.80,76.79 495.00,78.22 495.20,79.64 495.40,81.00 495.60,82.24 495.80,83.29 496.00,84.13 496.20,84.73 496.40,85.06 496.60,85.11 496.80,84.90 497.00,84.44 497.20,83.77 497.40,82.92 497.60,81.94 497.80,80.87 498.00,79.78 498.20,78.70 498.40,77.69 498.60,76.78 498.80,76.02 499.00,75.41 499.20,74.97 499.40,74.71 499.60,74.61 499.80,74.67 500.00,74.84 500.20,75.11 500.40,75.44 500.60,75.79 500.80,76.14 501.00,76.45 501.20,76.71 501.40,76.89 501.60,76.99 501.80,77.01 502.00,76.96 502.20,76.86 502.40,76.73 502.60,76.61 502.80,76.53 503.00,76.53 503.20,76.64 503.40,76.89 503.60,77.29 503.80,77.85 504.00,78.59 504.20,79.49 504.40,80.52 504.60,81.64 504.80,82.83 505.00,84.01 505.20,85.13 505.40,86.13 505.60,86.94 505.80,87.51 506.00,87.79 506.20,87.73 506.40,87.31 506.60,86.52 506.80,85.37 507.00,83.87 507.20,82.08 507.40,80.04 507.60,77.83 507.80,75.52 508.00,73.22 508.20,71.01 508.40,68.99 508.60,67.24 508.80,65.85 509.00,64.87 509.20,64.35 509.40,64.32 509.60,64.80 509.80,65.75 510.00,67.17 510.20,68.98 510.40,71.11 510.60,73.49 510.80,76.02 511.00,78.60 511.20,81.13 511.40,83.51 511.60,85.66 511.80,87.50 512.00,88.97 512.20,90.02 512.40,90.63 512.60,90.81 512.80,90.56 513.00,89.91 513.20,88.92 513.40,87.64 513.60,86.15 513.80,84.52 514.00,82.82 514.20,81.13 514.40,79.51 514.60,78.01 514.80,76.70 515.00,75.59 515.20,74.71 515.40,74.05 515.60,73.63 515.80,73.40 516.00,73.35 516.20,73.45 516.40,73.66 516.60,73.94 516.80,74.26 517.00,74.58 517.20,74.89 517.40,75.17 517.60,75.41 517.80,75.61 518.00,75.79 518.20,75.96 518.40,76.13 518.60,76.33 518.80,76.58 519.00,76.90 519.20,77.30 519.40,77.79 519.60,78.37 519.80,79.02 520.00,79.72 520.20,80.46 520.40,81.20 520.60,81.90 520.80,82.51 521.00,82.99 521.20,83.30 521.40,83.40 521.60,83.27 521.80,82.89 522.00,82.26 522.20,81.39 522.40,80.31 522.60,79.06 522.80,77.68 523.00,76.26 523.20,74.86 523.40,73.55 523.60,72.42 523.80,71.53 524.00,70.95 524.20,70.73 524.40,70.90 524.60,71.49 524.80,72.48 525.00,73.86 525.20,75.57 525.40,77.55 525.60,79.73 525.80,81.99 526.00,84.24 526.20,86.37 526.40,88.27 526.60,89.85 526.80,91.01 527.00,91.68 527.20,91.82 527.40,91.40 527.60,90.42 527.80,88.90 528.00,86.89 528.20,84.47 528.40,81.73 528.60,78.78 528.80,75.75 529.00,72.75 529.20,69.91 529.40,67.36 529.60,65.19 529.80,63.50 530.00,62.35 530.20,61.70 530.40,61.63 530.60,62.15 530.80,63.23 531.00,64.83 531.20,66.87 531.40,69.28 531.60,71.94 531.80,74.76 532.00,77.63 532.20,80.43 532.40,83.06 532.60,85.45 532.80,87.52 533.00,89.22 533.20,90.51 533.40,91.38 533.60,91.84 533.80,91.90 534.00,91.61 534.20,91.01 534.40,90.16 534.60,89.12 534.80,87.95 535.00,86.71 535.20,85.44 535.40,84.18 535.60,82.96 535.80,81.80 536.00,80.70 536.20,79.67 536.40,78.68 536.60,77.72 536.80,76.76 537.00,75.79 537.20,74.79 537.40,73.73 537.60,72.63 537.80,71.48 538.00,70.30 538.20,69.12 538.40,67.99 538.60,66.94 538.80,66.04 539.00,65.35 539.20,64.91 539.40,64.80 539.60,65.06 539.80,65.73 540.00,66.83 540.20,68.32 540.40,70.26 540.60,72.60 540.80,75.31 541.00,78.31 541.20,81.51 541.40,84.82 541.60,88.11 541.80,91.26 542.00,94.15 542.20,96.66 542.40,98.68 542.60,100.10 542.80,100.87 543.00,100.91 543.20,100.21 543.40,98.77 543.60,96.61 543.80,93.81 544.00,90.43 544.20,86.60 544.40,82.43 544.60,78.07 544.80,73.66 545.00,69.37 545.20,65.32 545.40,61.67 545.60,58.54 545.80,56.02 546.00,54.20 546.20,53.13 546.40,52.85 546.60,53.35 546.80,54.61 547.00,56.58 547.20,59.18 547.40,62.34 547.60,65.94 547.80,69.87 548.00,74.02 548.20,78.33 548.40,82.57 548.60,86.62 548.80,90.36 549.00,93.70 549.20,96.55 549.40,98.85 549.60,100.55 549.80,101.65 550.00,102.12 550.20,101.99 550.40,101.28 550.60,100.03 550.80,98.30 551.00,96.13 551.20,93.60 551.40,90.76 551.60,87.68 551.80,84.43 552.00,81.06 552.20,77.63 552.40,74.21 552.60,70.83 552.80,67.57 553.00,64.47 553.20,61.58 553.40,58.96 553.60,56.67 553.80,54.76 554.00,53.30 554.20,52.34 554.40,51.94 554.60,52.15 554.80,53.00 555.00,54.53 555.20,56.75 555.40,59.66 555.60,63.23 555.80,67.43 556.00,72.16 556.20,77.35 556.40,82.81 556.60,88.42 556.80,94.00 557.00,99.38 557.20,104.38 557.40,108.83 557.60,112.54 557.80,115.38 558.00,117.20 558.20,117.89 558.40,117.39 558.60,115.68 558.80,112.75 559.00,108.66 559.20,103.52 559.40,97.46 559.60,90.67 559.80,83.35 560.00,75.73 560.20,68.06 560.40,60.60 560.60,53.61 560.80,47.32 561.00,41.94 561.20,37.67 561.40,34.64 561.60,32.98 561.80,32.72 562.00,33.88 562.20,36.42 562.40,40.24 562.60,45.20 562.80,51.13 563.00,57.83 563.20,65.08 563.40,72.62 563.60,80.22 563.80,87.64 564.00,94.65 564.20,101.03 564.40,106.63 564.60,111.28 564.80,114.88 565.00,117.36 565.20,118.68 565.40,118.86 565.60,117.93 565.80,115.96 566.00,113.05 566.20,109.32 566.40,104.90 566.60,99.94 566.80,94.59 567.00,88.99 567.20,83.30 567.40,77.66 567.60,72.22 567.80,67.07 568.00,62.32 568.20,58.07 568.40,54.38 568.60,51.31 568.80,48.91 569.00,47.22 569.20,46.26 569.40,46.05 569.60,46.58 569.80,47.85 570.00,49.83 570.20,52.50 570.40,55.81 570.60,59.71 570.80,64.10 571.00,68.92 571.20,74.05 571.40,79.37 571.60,84.77 571.80,90.09 572.00,95.19 572.20,99.93 572.40,104.15 572.60,107.71 572.80,110.49 573.00,112.37 573.20,113.27 573.40,113.12 573.60,111.90 573.80,109.60 574.00,106.28 574.20,102.01 574.40,96.91 574.60,91.11 574.80,84.81 575.00,78.20 575.20,71.49 575.40,64.92 575.60,58.70 575.80,53.07 576.00,48.22 576.20,44.33 576.40,41.55 576.60,39.99 576.80,39.71 577.00,40.73 577.20,43.03 577.40,46.54 577.60,51.13 577.80,56.66 578.00,62.94 578.20,69.74 578.40,76.83 578.60,83.98 578.80,90.93 579.00,97.44 579.20,103.32 579.40,108.35 579.60,112.38 579.80,115.29 580.00,117.00 580.20,117.42 580.40,116.60 580.60,114.60 580.80,111.50 581.00,107.43 581.20,102.55 581.40,97.01 581.60,91.03 581.80,84.78 582.00,78.47 582.20,72.30 582.40,66.43 582.60,61.04 582.80,56.26 583.00,52.20 583.20,48.96 583.40,46.59 583.60,45.12 583.80,44.56 584.00,44.89 584.20,46.06 584.40,48.01 584.60,50.67 584.80,53.94 585.00,57.73 585.20,61.94 585.40,66.45 585.60,71.17 585.80,75.98 586.00,80.79 586.20,85.49 586.40,90.01 586.60,94.24 586.80,98.12 587.00,101.57 587.20,104.53 587.40,106.93 587.60,108.73 587.80,109.87 588.00,110.34 588.20,110.09 588.40,109.13 588.60,107.44 588.80,105.05 589.00,101.99 589.20,98.30 589.40,94.04 589.60,89.30 589.80,84.18 590.00,78.79 590.20,73.26 590.40,67.73 590.60,62.33 590.80,57.24 591.00,52.59 591.20,48.53 591.40,45.19 591.60,42.70 591.80,41.14 592.00,40.60 592.20,41.10 592.40,42.68 592.60,45.29 592.80,48.89 593.00,53.39 593.20,58.67 593.40,64.57 593.60,70.93 593.80,77.55 594.00,84.24 594.20,90.77 594.40,96.96 594.60,102.61 594.80,107.53 595.00,111.58 595.20,114.63 595.40,116.58 595.60,117.39 595.80,117.04 596.00,115.55 596.20,112.97 596.40,109.42 596.60,105.00 596.80,99.88 597.00,94.23 597.20,88.23 597.40,82.08 597.60,75.97 597.80,70.08 598.00,64.59 598.20,59.65 598.40,55.38 598.60,51.89 598.80,49.26 599.00,47.51 599.20,46.67 599.40,46.73 599.60,47.63 599.80,49.31 600.00,51.70 600.20,54.69 600.40,58.18 600.60,62.05 600.80,66.19 601.00,70.49 601.20,74.83 601.40,79.11 601.60,83.25 601.80,87.16 602.00,90.77 602.20,94.02 602.40,96.87 602.60,99.26 602.80,101.17 603.00,102.56 603.20,103.44 603.40,103.77 603.60,103.55 603.80,102.79 604.00,101.48 604.20,99.64 604.40,97.30 604.60,94.47 604.80,91.21 605.00,87.57 605.20,83.61 605.40,79.42 605.60,75.09 605.80,70.71 606.00,66.41 606.20,62.30 606.40,58.50 606.60,55.14 606.80,52.33 607.00,50.17 607.20,48.77 607.40,48.19 607.60,48.50 607.80,49.71 608.00,51.81 608.20,54.79 608.40,58.56 608.60,63.05 608.80,68.11 609.00,73.60 609.20,79.36 609.40,85.21 609.60,90.94 609.80,96.38 610.00,101.33 610.20,105.62 610.40,109.11 610.60,111.66 610.80,113.19 611.00,113.62 611.20,112.96 611.40,111.20 611.60,108.41 611.80,104.68 612.00,100.13 612.20,94.91 612.40,89.21 612.60,83.20 612.80,77.08 613.00,71.06 613.20,65.33 613.40,60.06 613.60,55.40 613.80,51.51 614.00,48.48 614.20,46.38 614.40,45.26 614.60,45.13 614.80,45.97 615.00,47.71 615.20,50.29 615.40,53.60 615.60,57.52 615.80,61.92 616.00,66.66 616.20,71.59 616.40,76.58 616.60,81.48 616.80,86.17 617.00,90.53 617.20,94.49 617.40,97.93 617.60,100.81 617.80,103.07 618.00,104.68 618.20,105.61 618.40,105.87 618.60,105.47 618.80,104.43 619.00,102.80 619.20,100.61 619.40,97.93 619.60,94.81 619.80,91.34 620.00,87.58 620.20,83.63 620.40,79.56 620.60,75.46 620.80,71.43 621.00,67.56 621.20,63.94 621.40,60.67 621.60,57.81 621.80,55.46 622.00,53.69 622.20,52.54 622.40,52.07 622.60,52.30 622.80,53.24 623.00,54.88 623.20,57.19 623.40,60.13 623.60,63.61 623.80,67.56 624.00,71.87 624.20,76.41 624.40,81.06 624.60,85.67 624.80,90.10 625.00,94.21 625.20,97.88 625.40,100.97 625.60,103.39 625.80,105.05 626.00,105.89 626.20,105.91 626.40,105.07 626.60,103.39 626.80,100.91 627.00,97.71 627.20,93.89 627.40,89.57 627.60,84.90 627.80,80.01 628.00,75.09 628.20,70.28 628.40,65.74 628.60,61.63 628.80,58.07 629.00,55.19 629.20,53.06 629.40,51.76 629.60,51.32 629.80,51.75 630.00,53.01 630.20,55.07 630.40,57.85 630.60,61.24 630.80,65.13 631.00,69.39 631.20,73.87 631.40,78.43 631.60,82.94 631.80,87.24 632.00,91.21 632.20,94.74 632.40,97.73 632.60,100.10 632.80,101.81 633.00,102.80 633.20,103.08 633.40,102.66 633.60,101.56 633.80,99.84 634.00,97.55" fill="none" stroke="#ffff00" stroke-width="2.5" stroke-linejoin="round" stroke-linecap="round"/>
<polyline points="66.00,70.12 66.20,79.51 66.40,88.88 66.60,97.96 66.80,106.50 67.00,114.27 67.20,121.06 67.40,126.68 67.60,130.97 67.80,133.82 68.00,135.15 68.20,134.92 68.40,133.14 68.60,129.86 68.80,125.17 69.00,119.19 69.20,112.09 69.40,104.07 69.60,95.35 69.80,86.16 70.00,76.76 70.20,67.40 70.40,58.35 70.60,49.85 70.80,42.14 71.00,35.43 71.20,29.89 71.40,25.69 71.60,22.94 71.80,21.71 72.00,22.05 72.20,23.93 72.40,27.31 72.60,32.09 72.80,38.15 73.00,45.32 73.20,53.39 73.40,62.15 73.60,71.36 73.80,80.77 74.00,90.11 74.20,99.13 74.40,107.59 74.60,115.24 74.80,121.88 75.00,127.33 75.20,131.44 75.40,134.09 75.60,135.21 75.80,134.78 76.00,132.79 76.20,129.32 76.40,124.44 76.60,118.30 76.80,111.07 77.00,102.94 77.20,94.14 77.40,84.91 77.60,75.50 77.80,66.17 78.00,57.18 78.20,48.78 78.40,41.18 78.60,34.62 78.80,29.25 79.00,25.24 79.20,22.69 79.40,21.67 79.60,22.21 79.80,24.29 80.00,27.87 80.20,32.83 80.40,39.05 80.60,46.34 80.80,54.52 81.00,63.36 81.20,72.61 81.40,82.02 81.60,91.34 81.80,100.30 82.00,108.66 82.20,116.19 82.40,122.68 82.60,127.96 82.80,131.88 83.00,134.33 83.20,135.24 83.40,134.60 83.60,132.41 83.80,128.74 84.00,123.69 84.20,117.40 84.40,110.04 84.60,101.80 84.80,92.93 85.00,83.66 85.20,74.25 85.40,64.95 85.60,56.02 85.80,47.71 86.00,40.24 86.20,33.83 86.40,28.64 86.60,24.81 86.80,22.46 87.00,21.65 87.20,22.40 87.40,24.69 87.60,28.45 87.80,33.59 88.00,39.96 88.20,47.39 88.40,55.67 88.60,64.58 88.80,73.86 89.00,83.28 89.20,92.56 89.40,101.45 89.60,109.71 89.80,117.12 90.00,123.46 90.20,128.56 90.40,132.29 90.60,134.54 90.80,135.25 91.00,134.40 91.20,132.01 91.40,128.15 91.60,122.92 91.80,116.48 92.00,108.98 92.20,100.65 92.40,91.71 92.60,82.41 92.80,73.00 93.00,63.73 93.20,54.87 93.40,46.66 93.60,39.32 93.80,33.06 94.00,28.04 94.20,24.41 94.40,22.26 94.60,21.66 94.80,22.62 95.00,25.11 95.20,29.06 95.40,34.37 95.60,40.89 95.80,48.45 96.00,56.83 96.20,65.80 96.40,75.12 96.60,84.53 96.80,93.77 97.00,102.60 97.20,110.76 97.40,118.03 97.60,124.21 97.80,129.14 98.00,132.68 98.20,134.72 98.40,135.22 98.60,134.17 98.80,131.58 99.00,127.53 99.20,122.13 99.40,115.53 99.60,107.92 99.80,99.49 100.00,90.49 100.20,81.15 100.40,71.75 100.60,62.52 100.80,53.74 101.00,45.63 101.20,38.42 101.40,32.32 101.60,27.48 101.80,24.04 102.00,22.09 102.20,21.70 102.40,22.86 102.60,25.55 102.80,29.69 103.00,35.17 103.20,41.85 103.40,49.52 103.60,57.99 103.80,67.03 104.00,76.37 104.20,85.78 104.40,94.98 104.60,103.73 104.80,111.78 105.00,118.92 105.20,124.95 105.40,129.70 105.60,133.04 105.80,134.88 106.00,135.17 106.20,133.91 106.40,131.12 106.60,126.88 106.80,121.32 107.00,114.57 107.20,106.84 107.40,98.32 107.60,89.26 107.80,79.90 108.00,70.50 108.20,61.32 108.40,52.61 108.60,44.61 108.80,37.54 109.00,31.59 109.20,26.94 109.40,23.69 109.60,21.95 109.80,21.76 110.00,23.13 110.20,26.02 110.40,30.35 110.60,36.00 110.80,42.82 111.00,50.61 111.20,59.17 111.40,68.26 111.60,77.63 111.80,87.02 112.00,96.18 112.20,104.85 112.40,112.79 112.60,119.79 112.80,125.66 113.00,130.23 113.20,133.37 113.40,135.01 113.60,135.09 113.80,133.62 114.00,130.63 114.20,126.21 114.40,120.48 114.60,113.59 114.80,105.74 115.00,97.14 115.20,88.02 115.40,78.64 115.60,69.26 115.80,60.13 116.00,51.50 116.20,43.61 116.40,36.68 116.60,30.90 116.80,26.42 117.00,23.37 117.20,21.84 117.40,21.86 117.60,23.43 117.80,26.52 118.00,31.03 118.20,36.84 118.40,43.80 118.60,51.71 118.80,60.36 119.00,69.50 119.20,78.89 119.40,88.26 119.60,97.37 119.80,105.95 120.00,113.78 120.20,120.64 120.40,126.34 120.60,130.73 120.80,133.68 121.00,135.11 121.20,134.99 121.40,133.31 121.60,130.13 121.80,125.52 122.00,119.63 122.20,112.60 122.40,104.63 122.60,95.95 122.80,86.78 123.00,77.39 123.20,68.02 123.40,58.94 123.60,50.40 123.80,42.63 124.00,35.84 124.20,30.22 124.40,25.93 124.60,23.08 124.80,21.75 125.00,21.98 125.20,23.76 125.40,27.04 125.60,31.73 125.80,37.71 126.00,44.81 126.20,52.83 126.40,61.55 126.60,70.74 126.80,80.14 127.00,89.50 127.20,98.55 127.40,107.05 127.60,114.76 127.80,121.47 128.00,127.01 128.20,131.21 128.40,133.96 128.60,135.19 128.80,134.85 129.00,132.97 129.20,129.59 129.40,124.81 129.60,118.75 129.80,111.58 130.00,103.51 130.20,94.75 130.40,85.54 130.60,76.13 130.80,66.79 131.00,57.77 131.20,49.31 131.40,41.66 131.60,35.02 131.80,29.57 132.00,25.46 132.20,22.81 132.40,21.69 132.60,22.12 132.80,24.11 133.00,27.58 133.20,32.46 133.40,38.60 133.60,45.83 133.80,53.96 134.00,62.76 134.20,71.99 134.40,81.40 134.60,90.73 134.80,99.72 135.00,108.12 135.20,115.72 135.40,122.28 135.60,127.65 135.80,131.66 136.00,134.21 136.20,135.23 136.40,134.69 136.60,132.61 136.80,129.03 137.00,124.07 137.20,117.85 137.40,110.56 137.60,102.38 137.80,93.54 138.00,84.29 138.20,74.88 138.40,65.56 138.60,56.60 138.80,48.24 139.00,40.71 139.20,34.22 139.40,28.94 139.60,25.02 139.80,22.57 140.00,21.66 140.20,22.30 140.40,24.49 140.60,28.16 140.80,33.21 141.00,39.50 141.20,46.86 141.40,55.10 141.60,63.97 141.80,73.24 142.00,82.65 142.20,91.95 142.40,100.88 142.60,109.19 142.80,116.66 143.00,123.07 143.20,128.26 143.40,132.09 143.60,134.44 143.80,135.25 144.00,134.50 144.20,132.21 144.40,128.45 144.60,123.31 144.80,116.94 145.00,109.51 145.20,101.23 145.40,92.32 145.60,83.04 145.80,73.62 146.00,64.34 146.20,55.45 146.40,47.19 146.60,39.78 146.80,33.44 147.00,28.34 147.20,24.61 147.40,22.36 147.60,21.65 147.80,22.50 148.00,24.89 148.20,28.75 148.40,33.98 148.60,40.42 148.80,47.92 149.00,56.25 149.20,65.19 149.40,74.49 149.60,83.90 149.80,93.17 150.00,102.03 150.20,110.24 150.40,117.58 150.60,123.84 150.80,128.86 151.00,132.49 151.20,134.64 151.40,135.24 151.60,134.28 151.80,131.79 152.00,127.84 152.20,122.53 152.40,116.01 152.60,108.45 152.80,100.07 153.00,91.10 153.20,81.78 153.40,72.37 153.60,63.13 153.80,54.30 154.00,46.14 154.20,38.87 154.40,32.69 154.60,27.76 154.80,24.22 155.00,22.18 155.20,21.68 155.40,22.73 155.60,25.32 155.80,29.37 156.00,34.77 156.20,41.37 156.40,48.98 156.60,57.41 156.80,66.41 157.00,75.75 157.20,85.15 157.40,94.38 157.60,103.16 157.80,111.27 158.00,118.48 158.20,124.58 158.40,129.42 158.60,132.86 158.80,134.81 159.00,135.20 159.20,134.04 159.40,131.35 159.60,127.21 159.80,121.73 160.00,115.05 160.20,107.38 160.40,98.91 160.60,89.87 160.80,80.53 161.00,71.12 161.20,61.92 161.40,53.17 161.60,45.12 161.80,37.98 162.00,31.95 162.20,27.20 162.40,23.86 162.60,22.02 162.80,21.73 163.00,22.99 163.20,25.78 163.40,30.02 163.60,35.58 163.80,42.33 164.00,50.06 164.20,58.58 164.40,67.64 164.60,77.00 164.80,86.40 165.00,95.58 165.20,104.29 165.40,112.29 165.60,119.36 165.80,125.31 166.00,129.96 166.20,133.21 166.40,134.95 166.60,135.14 166.80,133.77 167.00,130.88 167.20,126.55 167.40,120.90 167.60,114.08 167.80,106.29 168.00,97.73 168.20,88.64 168.40,79.27 168.60,69.88 168.80,60.72 169.00,52.05 169.20,44.11 169.40,37.11 169.60,31.24 169.80,26.67 170.00,23.53 170.20,21.89 170.40,21.81 170.60,23.28 170.80,26.27 171.00,30.69 171.20,36.42 171.40,43.31 171.60,51.16 171.80,59.76 172.00,68.88 172.20,78.26 172.40,87.64 172.60,96.77 172.80,105.40 173.00,113.29 173.20,120.22 173.40,126.00 173.60,130.48 173.80,133.53 174.00,135.06 174.20,135.04 174.40,133.47 174.60,130.38 174.80,125.87 175.00,120.06 175.20,113.10 175.40,105.19 175.60,96.54 175.80,87.40 176.00,78.01 176.20,68.64 176.40,59.53 176.60,50.95 176.80,43.12 177.00,36.26 177.20,30.56 177.40,26.17 177.60,23.22 177.80,21.79 178.00,21.91 178.20,23.59 178.40,26.77 178.60,31.38 178.80,37.27 179.00,44.30 179.20,52.27 179.40,60.95 179.60,70.12 179.80,79.51 180.00,88.88 180.20,97.96 180.40,106.50 180.60,114.27 180.80,121.06 181.00,126.68 181.20,130.97 181.40,133.82 181.60,135.15 181.80,134.92 182.00,133.14 182.20,129.86 182.40,125.17 182.60,119.19 182.80,112.09 183.00,104.07 183.20,95.35 183.40,86.16 183.60,76.76 183.80,67.40 184.00,58.35 184.20,49.85 184.40,42.14 184.60,35.43 184.80,29.89 185.00,25.69 185.20,22.94 185.40,21.71 185.60,22.05 185.80,23.93 186.00,27.31 186.20,32.09 186.40,38.15 186.60,45.32 186.80,53.39 187.00,62.15 187.20,71.36 187.40,80.77 187.60,90.11 187.80,99.13 188.00,107.59 188.20,115.24 188.40,121.88 188.60,127.33 188.80,131.44 189.00,134.09 189.20,135.21 189.40,134.78 189.60,132.79 189.80,129.32 190.00,124.44 190.20,118.30 190.40,111.07 190.60,102.94 190.80,94.14 191.00,84.91 191.20,75.50 191.40,66.17 191.60,57.18 191.80,48.78 192.00,41.18 192.20,34.62 192.40,29.25 192.60,25.24 192.80,22.69 193.00,21.67 193.20,22.21 193.40,24.29 193.60,27.87 193.80,32.83 194.00,39.05 194.20,46.34 194.40,54.52 194.60,63.36 194.80,72.61 195.00,82.02 195.20,91.34 195.40,100.30 195.60,108.66 195.80,116.19 196.00,122.68 196.20,127.96 196.40,131.88 196.60,134.33 196.80,135.24 197.00,134.60 197.20,132.41 197.40,128.74 197.60,123.69 197.80,117.40 198.00,110.04 198.20,101.80 198.40,92.93 198.60,83.66 198.80,74.25 199.00,64.95 199.20,56.02 199.40,47.71 199.60,40.24 199.80,33.83 200.00,28.64 200.20,24.81 200.40,22.46 200.60,21.65 200.80,22.40 201.00,24.69 201.20,28.45 201.40,33.59 201.60,39.96 201.80,47.39 202.00,55.67 202.20,64.58 202.40,73.86 202.60,83.28 202.80,92.56 203.00,101.45 203.20,109.71 203.40,117.12 203.60,123.46 203.80,128.56 204.00,132.29 204.20,134.54 204.40,135.25 204.60,134.40 204.80,132.01 205.00,128.15 205.20,122.92 205.40,116.48 205.60,108.98 205.80,100.65 206.00,91.71 206.20,82.41 206.40,73.00 206.60,63.73 206.80,54.87 207.00,46.66 207.20,39.32 207.40,33.06 207.60,28.04 207.80,24.41 208.00,22.26 208.20,21.66 208.40,22.62 208.60,25.11 208.80,29.06 209.00,34.37 209.20,40.89 209.40,48.45 209.60,56.83 209.80,65.80 210.00,75.12 210.20,84.53 210.40,93.77 210.60,102.60 210.80,110.76 211.00,118.03 211.20,124.21 211.40,129.14 211.60,132.68 211.80,134.72 212.00,135.22 212.20,134.17 212.40,131.58 212.60,127.53 212.80,122.13 213.00,115.53 213.20,107.92 213.40,99.49 213.60,90.49 213.80,81.15 214.00,71.75 214.20,62.52 214.40,53.74 214.60,45.63 214.80,38.42 215.00,32.32 215.20,27.48 215.40,24.04 215.60,22.09 215.80,21.70 216.00,22.86 216.20,25.55 216.40,29.69 216.60,35.17 216.80,41.85 217.00,49.52 217.20,57.99 217.40,67.03 217.60,76.37 217.80,85.78 218.00,94.98 218.20,103.73 218.40,111.78 218.60,118.92 218.80,124.95 219.00,129.70 219.20,133.04 219.40,134.88 219.60,135.17 219.80,133.91 220.00,131.12 220.20,126.88 220.40,121.32 220.60,114.57 220.80,106.84 221.00,98.32 221.20,89.26 221.40,79.90 221.60,70.50 221.80,61.32 222.00,52.61 222.20,44.61 222.40,37.54 222.60,31.59 222.80,26.94 223.00,23.69 223.20,21.95 223.40,21.76 223.60,23.13 223.80,26.02 224.00,30.35 224.20,36.00 224.40,42.82 224.60,50.61 224.80,59.17 225.00,68.26 225.20,77.63 225.40,87.02 225.60,96.18 225.80,104.85 226.00,112.79 226.20,119.79 226.40,125.66 226.60,130.23 226.80,133.37 227.00,135.01 227.20,135.09 227.40,133.62 227.60,130.63 227.80,126.21 228.00,120.48 228.20,113.59 228.40,105.74 228.60,97.14 228.80,88.02 229.00,78.64 229.20,69.26 229.40,60.13 229.60,51.50 229.80,43.61 230.00,36.68 230.20,30.90 230.40,26.42 230.60,23.37 230.80,21.84 231.00,21.86 231.20,23.43 231.40,26.52 231.60,31.03 231.80,36.84 232.00,43.80 232.20,51.71 232.40,60.36 232.60,69.50 232.80,78.89 233.00,88.26 233.20,97.37 233.40,105.95 233.60,113.78 233.80,120.64 234.00,126.34 234.20,130.73 234.40,133.68 234.60,135.11 234.80,134.99 235.00,133.31 235.20,130.13 235.40,125.52 235.60,119.63 235.80,112.60 236.00,104.63 236.20,95.95 236.40,86.78 236.60,77.39 236.80,68.02 237.00,58.94 237.20,50.40 237.40,42.63 237.60,35.84 237.80,30.22 238.00,25.93 238.20,23.08 238.40,21.75 238.60,21.98 238.80,23.76 239.00,27.04 239.20,31.73 239.40,37.71 239.60,44.81 239.80,52.83 240.00,61.55 240.20,70.74 240.40,80.14 240.60,89.50 240.80,98.55 241.00,107.05 241.20,114.76 241.40,121.47 241.60,127.01 241.80,131.21 242.00,133.96 242.20,135.19 242.40,134.85 242.60,132.97 242.80,129.59 243.00,124.81 243.20,118.75 243.40,111.58 243.60,103.51 243.80,94.75 244.00,85.54 244.20,76.13 244.40,66.79 244.60,57.77 244.80,49.31 245.00,41.66 245.20,35.02 245.40,29.57 245.60,25.46 245.80,22.81 246.00,21.69 246.20,22.12 246.40,24.11 246.60,27.58 246.80,32.46 247.00,38.60 247.20,45.83 247.40,53.96 247.60,62.76 247.80,71.99 248.00,81.40 248.20,90.73 248.40,99.72 248.60,108.12 248.80,115.72 249.00,122.28 249.20,127.65 249.40,131.66 249.60,134.21 249.80,135.23 250.00,134.69 250.20,132.61 250.40,129.03 250.60,124.07 250.80,117.85 251.00,110.56 251.20,102.38 251.40,93.54 251.60,84.29 251.80,74.88 252.00,65.56 252.20,56.60 252.40,48.24 252.60,40.71 252.80,34.22 253.00,28.94 253.20,25.02 253.40,22.57 253.60,21.66 253.80,22.30 254.00,24.49 254.20,28.16 254.40,33.21 254.60,39.50 254.80,46.86 255.00,55.10 255.20,63.97 255.40,73.24 255.60,82.64 255.80,91.87 256.00,100.69 256.20,108.86 256.40,116.16 256.60,121.86 256.80,125.59 257.00,127.79 257.20,128.47 257.40,127.70 257.60,125.57 257.80,122.23 258.00,117.84 258.20,112.61 258.40,106.74 258.60,100.85 258.80,94.85 259.00,88.42 259.20,81.74 259.40,74.99 259.60,68.36 259.80,62.02 260.00,56.16 260.20,50.92 260.40,46.46 260.60,42.89 260.80,40.31 261.00,38.79 261.20,38.35 261.40,39.02 261.60,40.76 261.80,43.54 262.00,47.26 262.20,51.83 262.40,57.11 262.60,62.96 262.80,69.21 263.00,75.70 263.20,82.24 263.40,88.65 263.60,94.76 263.80,100.41 264.00,105.43 264.20,109.70 264.40,113.09 264.60,115.52 264.80,116.93 265.00,117.28 265.20,116.56 265.40,114.80 265.60,112.04 265.80,108.38 266.00,103.91 266.20,98.75 266.40,93.05 266.60,86.98 266.80,80.69 267.00,74.37 267.20,68.18 267.40,62.30 267.60,56.88 267.80,52.07 268.00,48.01 268.20,44.79 268.40,42.51 268.60,41.23 268.80,40.97 269.00,41.74 269.20,43.51 269.40,46.23 269.60,49.83 269.80,54.20 270.00,59.22 270.20,64.74 270.40,70.62 270.60,76.69 270.80,82.79 271.00,88.74 271.20,94.39 271.40,99.58 271.60,104.17 271.80,108.04 272.00,111.08 272.20,113.21 272.40,114.38 272.60,114.56 272.80,113.75 273.00,111.98 273.20,109.22 273.40,105.64 273.60,101.35 273.80,96.46 274.00,91.13 274.20,85.50 274.40,79.73 274.60,73.97 274.80,68.39 275.00,63.13 275.20,58.34 275.40,54.14 275.60,50.65 275.80,47.95 276.00,46.12 276.20,45.18 276.40,45.17 276.60,46.06 276.80,47.84 277.00,50.43 277.20,53.77 277.40,57.75 277.60,62.27 277.80,67.18 278.00,72.35 278.20,77.64 278.40,82.89 278.60,87.98 278.80,92.75 279.00,97.09 279.20,100.87 279.40,104.00 279.60,106.40 279.80,108.01 280.00,108.79 280.20,108.66 280.40,107.70 280.60,105.96 280.80,103.49 281.00,100.37 281.20,96.71 281.40,92.60 281.60,88.17 281.80,83.55 282.00,78.86 282.20,74.23 282.40,69.80 282.60,65.69 282.80,61.98 283.00,58.80 283.20,56.20 283.40,54.26 283.60,53.02 283.80,52.49 284.00,52.69 284.20,53.58 284.40,55.14 284.60,57.32 284.80,60.02 285.00,63.19 285.20,66.71 285.40,70.49 285.60,74.41 285.80,78.37 286.00,82.25 286.20,85.97 286.40,89.43 286.60,92.53 286.80,95.19 287.00,97.36 287.20,98.97 287.40,99.99 287.60,100.41 287.80,100.22 288.00,99.44 288.20,98.09 288.40,96.23 288.60,93.92 288.80,91.22 289.00,88.22 289.20,85.00 289.40,81.66 289.60,78.30 289.80,74.99 290.00,71.84 290.20,68.94 290.40,66.34 290.60,64.13 290.80,62.34 291.00,61.04 291.20,60.23 291.40,59.95 291.60,60.17 291.80,60.89 292.00,62.07 292.20,63.70 292.40,65.69 292.60,67.99 292.80,70.52 293.00,73.21 293.20,75.99 293.40,78.76 293.60,81.46 293.80,84.01 294.00,86.35 294.20,88.41 294.40,90.15 294.60,91.53 294.80,92.51 295.00,93.07 295.20,93.22 295.40,92.97 295.60,92.32 295.80,91.30 296.00,89.96 296.20,88.35 296.40,86.51 296.60,84.49 296.80,82.38 297.00,80.21 297.20,78.07 297.40,76.00 297.60,74.06 297.80,72.31 298.00,70.78 298.20,69.51 298.40,68.53 298.60,67.86 298.80,67.50 299.00,67.46 299.20,67.73 299.40,68.28 299.60,69.09 299.80,70.13 300.00,71.35 300.20,72.73 300.40,74.21 300.60,75.75 300.80,77.30 301.00,78.82 301.20,80.26 301.40,81.58 301.60,82.76 301.80,83.76 302.00,84.57 302.20,85.16 302.40,85.54 302.60,85.70 302.80,85.65 303.00,85.39 303.20,84.96 303.40,84.36 303.60,83.63 303.80,82.80 304.00,81.90 304.20,80.95 304.40,80.00 304.60,79.06 304.80,78.18 305.00,77.37 305.20,76.60 305.40,75.91 305.60,75.30 305.80,74.80 306.00,74.41 306.20,74.14 306.40,74.00 306.60,73.98 306.80,74.09 307.00,74.32 307.20,74.65 307.40,75.08 307.60,75.58 307.80,76.15 308.00,76.77 308.20,77.41 308.40,78.05 308.60,78.69 308.80,79.30 309.00,79.86 309.20,80.36 309.40,80.80 309.60,81.15 309.80,81.41 310.00,81.59 310.20,81.66 310.40,81.65 310.60,81.55 310.80,81.36 311.00,81.11 311.20,81.28 311.40,81.27 311.60,81.05 311.80,80.60 312.00,79.92 312.20,79.03 312.40,77.94 312.60,76.68 312.80,75.29 313.00,74.01 313.20,72.79 313.40,71.68 313.60,70.71 313.80,69.92 314.00,69.34 314.20,69.00 314.40,68.92 314.60,69.12 314.80,69.59 315.00,70.33 315.20,71.35 315.40,72.60 315.60,74.08 315.80,75.74 316.00,77.54 316.20,79.43 316.40,81.36 316.60,83.28 316.80,85.13 317.00,86.85 317.20,88.40 317.40,89.71 317.60,90.74 317.80,91.46 318.00,91.83 318.20,91.83 318.40,91.46 318.60,90.70 318.80,89.62 319.00,88.19 319.20,86.42 319.40,84.35 319.60,82.04 319.80,79.54 320.00,76.92 320.20,74.26 320.40,71.62 320.60,69.09 320.80,66.74 321.00,64.65 321.20,62.88 321.40,61.50 321.60,60.55 321.80,60.09 322.00,60.13 322.20,60.69 322.40,61.77 322.60,63.35 322.80,65.41 323.00,67.89 323.20,70.79 323.40,73.94 323.60,77.25 323.80,80.65 324.00,84.03 324.20,87.29 324.40,90.36 324.60,93.13 324.80,95.53 325.00,97.49 325.20,98.94 325.40,99.85 325.60,100.17 325.80,99.90 326.00,99.03 326.20,97.37 326.40,95.21 326.60,92.62 326.80,89.66 327.00,86.41 327.20,82.99 327.40,79.46 327.60,75.95 327.80,72.53 328.00,69.31 328.20,66.37 328.40,63.79 328.60,61.64 328.80,59.96 329.00,58.81 329.20,58.21 329.40,58.17 329.60,58.68 329.80,59.73 330.00,61.28 330.20,63.44 330.40,65.95 330.60,68.72 330.80,71.68 331.00,74.73 331.20,77.78 331.40,80.76 331.60,83.58 331.80,86.16 332.00,88.44 332.20,90.37 332.40,91.90 332.60,93.00 332.80,93.66 333.00,93.88 333.20,93.66 333.40,93.03 333.60,92.02 333.80,90.68 334.00,89.05 334.20,87.19 334.40,85.17 334.60,83.05 334.80,80.89 335.00,78.77 335.20,76.74 335.40,74.87 335.60,73.20 335.80,71.77 336.00,70.61 336.20,69.74 336.40,69.17 336.60,68.90 336.80,68.92 337.00,69.21 337.20,69.75 337.40,70.51 337.60,71.44 337.80,72.51 338.00,73.66 338.20,74.87 338.40,76.08 338.60,77.26 338.80,78.36 339.00,79.36 339.20,80.28 339.40,81.11 339.60,81.83 339.80,82.42 340.00,82.87 340.20,83.17 340.40,83.33 340.60,83.34 340.80,83.21 341.00,82.95 341.20,82.58 341.40,82.12 341.60,81.58 341.80,80.98 342.00,80.35 342.20,79.71 342.40,79.07 342.60,78.46 342.80,77.90 343.00,77.39 343.20,76.96 343.40,76.61 343.60,76.24 343.80,75.94 344.00,75.70 344.20,75.54 344.40,75.46 344.60,75.46 344.80,75.54 345.00,75.71 345.20,75.95 345.40,76.25 345.60,76.62 345.80,77.04 346.00,77.49 346.20,77.92 346.40,78.48 346.60,79.15 346.80,79.92 347.00,80.75 347.20,81.62 347.40,82.50 347.60,83.34 347.80,84.11 348.00,84.77 348.20,85.28 348.40,85.62 348.60,85.74 348.80,85.64 349.00,85.29 349.20,84.68 349.40,83.83 349.60,82.74 349.80,81.42 350.00,79.92 350.20,78.26 350.40,76.56 350.60,74.88 350.80,73.25 351.00,71.72 351.20,70.35 351.40,69.17 351.60,68.22 351.80,67.53 352.00,67.14 352.20,67.05 352.40,67.28 352.60,67.83 352.80,68.69 353.00,69.84 353.20,71.26 353.40,72.92 353.60,74.76 353.80,76.75 354.00,78.83 354.20,80.94 354.40,83.03 354.60,84.92 354.80,86.49 355.00,87.76 355.20,88.71 355.40,89.33 355.60,89.62 355.80,89.58 356.00,89.23 356.20,88.60 356.40,87.71 356.60,86.61 356.80,85.34 357.00,83.95 357.20,82.48 357.40,80.99 357.60,79.52 357.80,78.11 358.00,76.81 358.20,75.61 358.40,74.55 358.60,73.66 358.80,72.94 359.00,72.43 359.20,72.11 359.40,71.98 359.60,72.05 359.80,72.30 360.00,72.71 360.20,73.26 360.40,73.92 360.60,74.66 360.80,75.46 361.00,76.29 361.20,77.12 361.40,77.93 361.60,78.68 361.80,79.36 362.00,79.95 362.20,80.44 362.40,80.81 362.60,81.07 362.80,81.22 363.00,81.26 363.20,81.55 363.40,81.77 363.60,81.90 363.80,81.92 364.00,81.83 364.20,81.63 364.40,81.31 364.60,80.87 364.80,80.32 365.00,79.67 365.20,78.94 365.40,78.14 365.60,77.30 365.80,76.43 366.00,75.58 366.20,74.76 366.40,74.00 366.60,73.32 366.80,72.77 367.00,72.35 367.20,72.09 367.40,72.00 367.60,72.10 367.80,72.39 368.00,72.87 368.20,73.58 368.40,74.45 368.60,75.45 368.80,76.56 369.00,77.76 369.20,79.01 369.40,80.28 369.60,81.53 369.80,82.73 370.00,83.83 370.20,84.81 370.40,85.64 370.60,86.29 370.80,86.73 371.00,86.95 371.20,86.94 371.40,86.68 371.60,86.20 371.80,85.48 372.00,84.55 372.20,83.28 372.40,81.93 372.60,80.53 372.80,79.12 373.00,77.75 373.20,76.45 373.40,75.26 373.60,74.20 373.80,73.30 374.00,72.59 374.20,72.06 374.40,71.74 374.60,71.62 374.80,71.69 375.00,71.95 375.20,72.38 375.40,72.96 375.60,73.66 375.80,74.46 376.00,75.33 376.20,76.25 376.40,77.17 376.60,78.08 376.80,78.95 377.00,79.75 377.20,80.94 377.40,82.37 377.60,83.96 377.80,85.64 378.00,87.32 378.20,88.92 378.40,90.32 378.60,91.45 378.80,92.21 379.00,92.54 379.20,92.36 379.40,91.64 379.60,90.35 379.80,88.49 380.00,86.06 380.20,83.08 380.40,79.72 380.60,76.06 380.80,72.20 381.00,68.27 381.20,64.38 381.40,60.66 381.60,57.24 381.80,54.25 382.00,51.81 382.20,50.02 382.40,48.97 382.60,48.75 382.80,49.39 383.00,50.92 383.20,53.34 383.40,56.62 383.60,60.69 383.80,65.48 384.00,70.86 384.20,76.71 384.40,82.80 384.60,88.72 384.80,94.28 385.00,99.34 385.20,103.75 385.40,107.42 385.60,110.24 385.80,112.15 386.00,113.11 386.20,113.11 386.40,112.16 386.60,110.31 386.80,107.60 387.00,104.14 387.20,100.02 387.40,95.38 387.60,90.33 387.80,85.04 388.00,79.64 388.20,74.29 388.40,69.13 388.60,64.31 388.80,59.95 389.00,56.16 389.20,53.03 389.40,50.66 389.60,49.08 389.80,48.33 390.00,48.42 390.20,49.32 390.40,51.01 390.60,53.43 390.80,56.49 391.00,60.10 391.20,64.15 391.40,68.52 391.60,73.10 391.80,77.74 392.00,82.32 392.20,86.71 392.40,90.80 392.60,94.49 392.80,97.66 393.00,100.25 393.20,102.20 393.40,103.46 393.60,104.01 393.80,103.86 394.00,103.01 394.20,101.50 394.40,99.39 394.60,96.75 394.80,93.66 395.00,90.21 395.20,86.52 395.40,82.67 395.60,78.79 395.80,74.97 396.00,71.32 396.20,67.95 396.40,64.93 396.60,62.34 396.80,60.25 397.00,58.70 397.20,57.73 397.40,57.34 397.60,57.54 397.80,58.31 398.00,59.62 398.20,61.41 398.40,63.63 398.60,66.20 398.80,69.05 399.00,72.09 399.20,75.23 399.40,78.39 399.60,81.47 399.80,84.39 400.00,87.07 400.20,89.45 400.40,91.47 400.60,93.07 400.80,94.24 401.00,94.94 401.20,95.16 401.40,94.92 401.60,94.24 401.80,93.14 402.00,91.67 402.20,89.88 402.40,87.82 402.60,85.57 402.80,83.20 403.00,80.76 403.20,78.34 403.40,76.00 403.60,73.80 403.80,71.80 404.00,70.05 404.20,68.59 404.40,67.46 404.60,66.67 404.80,66.23 405.00,66.15 405.20,66.41 405.40,66.99 405.60,67.87 405.80,69.00 406.00,70.36 406.20,71.88 406.40,73.52 406.60,75.23 406.80,76.95 407.00,78.64 407.20,80.25 407.40,81.75 407.60,83.09 407.80,84.25 408.00,85.20 408.20,85.92 408.40,86.40 408.60,86.64 408.80,86.64 409.00,86.40 409.20,85.96 409.40,85.33 409.60,84.54 409.80,83.61 410.00,82.60 410.20,81.52 410.40,80.41 410.60,79.32 410.80,78.27 411.00,77.28 411.20,76.40 411.40,75.63 411.60,75.00 411.80,74.51 412.00,74.18 412.20,73.99 412.40,73.95 412.60,74.05 412.80,74.28 413.00,74.61 413.20,75.03 413.40,75.51 413.60,76.04 413.80,76.58 414.00,77.13 414.20,77.58 414.40,78.07 414.60,78.58 414.80,79.09 415.00,79.59 415.20,80.08 415.40,80.52 415.60,80.92 415.80,81.25 416.00,81.52 416.20,81.70 416.40,81.79 416.60,81.79 416.80,81.70 417.00,81.52 417.20,81.25 417.40,80.90 417.60,80.47 417.80,79.98 418.00,79.44 418.20,78.86 418.40,78.26 418.60,77.66 418.80,77.07 419.00,76.51 419.20,75.99 419.40,75.54 419.60,75.16 419.80,74.86 420.00,74.66 420.20,74.57 420.40,74.57 420.60,74.69 420.80,74.91 421.00,75.24 421.20,75.46 421.40,75.83 421.60,76.37 421.80,77.05 422.00,77.88 422.20,78.82 422.40,79.86 422.60,80.96 422.80,82.08 423.00,83.20 423.20,84.26 423.40,85.22 423.60,86.06 423.80,86.71 424.00,87.16 424.20,87.38 424.40,87.33 424.60,87.00 424.80,86.39 425.00,85.50 425.20,84.28 425.40,82.84 425.60,81.24 425.80,79.51 426.00,77.69 426.20,75.82 426.40,73.97 426.60,72.18 426.80,70.49 427.00,68.95 427.20,67.62 427.40,66.54 427.60,65.74 427.80,65.26 428.00,65.14 428.20,65.91 428.40,67.01 428.60,68.39 428.80,70.01 429.00,71.83 429.20,73.78 429.40,75.82 429.60,77.87 429.80,79.88 430.00,81.78 430.20,83.52 430.40,85.04 430.60,86.29 430.80,87.25 431.00,87.88 431.20,88.17 431.40,88.12 431.60,87.76 431.80,87.09 432.00,86.16 432.20,85.01 432.40,83.70 432.60,82.28 432.80,80.81 433.00,79.36 433.20,77.99 433.40,76.73 433.60,75.63 433.80,74.73 434.00,74.05 434.20,73.60 434.40,73.37 434.60,73.36 434.80,73.54 435.00,73.89 435.20,73.72 435.40,73.75 435.60,73.99 435.80,74.45 436.00,75.10 436.20,75.92 436.40,76.88 436.60,77.94 436.80,79.04 437.00,80.14 437.20,81.19 437.40,82.15 437.60,82.99 437.80,83.69 438.00,84.24 438.20,84.63 438.40,84.89 438.60,85.05 438.80,85.12 439.00,85.17 439.20,85.22 439.40,85.30 439.60,85.45 439.80,85.69 440.00,86.00 440.20,86.42 440.40,86.81 440.60,87.09 440.80,87.19 441.00,87.05 441.20,86.57 441.40,85.70 441.60,84.37 441.80,82.55 442.00,80.22 442.20,77.45 442.40,74.48 442.60,71.41 442.80,68.37 443.00,65.49 443.20,62.88 443.40,60.66 443.60,58.95 443.80,57.82 444.00,57.34 444.20,57.55 444.40,58.44 444.60,59.99 444.80,62.14 445.00,64.81 445.20,67.88 445.40,71.24 445.60,74.75 445.80,78.26 446.00,81.64 446.20,84.77 446.40,87.52 446.60,89.81 446.80,91.56 447.00,92.74 447.20,93.59 447.40,93.88 447.60,93.62 447.80,92.84 448.00,91.61 448.20,90.00 448.40,88.08 448.60,85.95 448.80,83.72 449.00,81.48 449.20,79.31 449.40,77.31 449.60,75.54 449.80,74.05 450.00,72.89 450.20,72.06 450.40,71.57 450.60,71.40 450.80,71.53 451.00,71.90 451.20,72.48 451.40,73.21 451.60,74.03 451.80,74.90 452.00,75.75 452.20,76.46 452.40,77.16 452.60,77.80 452.80,78.35 453.00,78.81 453.20,79.15 453.40,79.38 453.60,79.51 453.80,79.54 454.00,79.52 454.20,79.47 454.40,79.40 454.60,79.37 454.80,79.38 455.00,79.46 455.20,79.62 455.40,79.86 455.60,80.16 455.80,80.50 456.00,80.86 456.20,81.19 456.40,81.46 456.60,81.60 456.80,81.60 457.00,81.39 457.20,80.97 457.40,80.32 457.60,79.43 457.80,78.33 458.00,77.06 458.20,75.69 458.40,74.29 458.60,72.96 458.80,71.77 459.00,70.82 459.20,70.18 459.40,69.94 459.60,70.14 459.80,70.83 460.00,72.02 460.20,73.69 460.40,75.80 460.60,78.28 460.80,81.03 461.00,83.95 461.20,86.88 461.40,89.70 461.60,92.25 461.80,94.38 462.00,95.96 462.20,96.89 462.40,97.06 462.60,96.43 462.80,94.98 463.00,92.73 463.20,89.55 463.40,85.84 463.60,81.76 463.80,77.46 464.00,73.15 464.20,68.99 464.40,65.18 464.60,61.86 464.80,59.18 465.00,57.25 465.20,56.14 465.40,55.89 465.60,56.49 465.80,57.90 466.00,60.04 466.20,62.82 466.40,66.09 466.60,69.71 466.80,73.52 467.00,77.35 467.20,81.05 467.40,84.48 467.60,87.51 467.80,90.03 468.00,91.98 468.20,93.30 468.40,93.99 468.60,94.06 468.80,93.55 469.00,92.52 469.20,91.06 469.40,89.27 469.60,87.25 469.80,85.10 470.00,82.94 470.20,80.89 470.40,78.92 470.60,77.08 470.80,75.46 471.00,74.09 471.20,73.01 471.40,72.24 471.60,71.78 471.80,71.62 472.00,71.72 472.20,72.05 472.40,72.55 472.60,73.18 472.80,73.87 473.00,74.59 473.20,75.29 473.40,75.92 473.60,76.46 473.80,76.91 474.00,77.24 474.20,77.48 474.40,77.64 474.60,77.74 474.80,77.81 475.00,77.89 475.20,78.00 475.40,78.18 475.60,78.45 475.80,78.81 476.00,79.28 476.20,79.84 476.40,80.48 476.60,81.16 476.80,81.85 477.00,82.50 477.20,83.02 477.40,83.39 477.60,83.58 477.80,83.57 478.00,83.32 478.20,82.83 478.40,82.11 478.60,81.18 478.80,80.06 479.00,78.81 479.20,77.47 479.40,76.12 479.60,74.81 479.80,73.61 480.00,72.58 480.20,71.78 480.40,71.26 480.60,71.05 480.80,71.16 481.00,71.61 481.20,72.38 481.40,73.44 481.60,74.74 481.80,76.24 482.00,77.87 482.20,79.56 482.40,81.22 482.60,82.80 482.80,84.22 483.00,85.41 483.20,86.33 483.40,86.94 483.60,87.21 483.80,87.15 484.00,86.74 484.20,86.09 484.40,85.15 484.60,83.95 484.80,82.55 485.00,81.00 485.20,79.37 485.40,77.72 485.60,76.13 485.80,74.65 486.00,73.34 486.20,72.24 486.40,71.39 486.60,70.81 486.80,70.51 487.00,70.49 487.20,70.73 487.40,71.20 487.60,71.87 487.80,72.69 488.00,73.62 488.20,74.62 488.40,75.63 488.60,76.61 488.80,77.53 489.00,78.36 489.20,79.08 489.40,79.67 489.60,80.14 489.80,80.50 490.00,80.75 490.20,80.92 490.40,81.04 490.60,81.13 490.80,81.22 491.00,81.32 491.20,81.48 491.40,81.68 491.60,81.95 491.80,82.27 492.00,82.64 492.20,83.04 492.40,83.44 492.60,83.81 492.80,84.11 493.00,84.30 493.20,84.36 493.40,84.24 493.60,83.93 493.80,83.40 494.00,82.64 494.20,81.66 494.40,80.48 494.60,79.11 494.80,77.60 495.00,76.00 495.20,74.37 495.40,72.76 495.60,71.23 495.80,69.86 496.00,68.71 496.20,67.82 496.40,67.25 496.60,67.03 496.80,67.18 497.00,67.69 497.20,68.57 497.40,69.78 497.60,71.29 497.80,73.04 498.00,74.96 498.20,76.99 498.40,79.05 498.60,81.07 498.80,82.97 499.00,84.68 499.20,86.14 499.40,87.32 499.60,88.16 499.80,88.66 500.00,88.82 500.20,88.64 500.40,88.16 500.60,87.40 500.80,86.40 501.00,85.23 501.20,83.94 501.40,82.59 501.60,81.24 501.80,79.94 502.00,78.74 502.20,77.67 502.40,76.76 502.60,76.02 502.80,75.46 503.00,75.07 503.20,74.83 503.40,74.72 503.60,74.71 503.80,74.76 504.00,74.84 504.20,74.93 504.40,75.00 504.60,75.03 504.80,75.02 505.00,74.95 505.20,74.84 505.40,74.71 505.60,74.57 505.80,74.46 506.00,74.40 506.20,74.44 506.40,74.60 506.60,74.90 506.80,75.36 507.00,76.00 507.20,76.80 507.40,77.76 507.60,78.85 507.80,80.03 508.00,81.25 508.20,82.45 508.40,83.59 508.60,84.60 508.80,85.41 509.00,85.97 509.20,86.25 509.40,86.20 509.60,85.81 509.80,85.08 510.00,84.03 510.20,82.68 510.40,81.09 510.60,79.33 510.80,77.47 511.00,75.60 511.20,73.80 511.40,72.18 511.60,70.82 511.80,69.78 512.00,69.14 512.20,68.93 512.40,69.18 512.60,69.90 512.80,71.06 513.00,72.62 513.20,74.52 513.40,76.67 513.60,78.98 513.80,81.35 514.00,83.65 514.20,85.79 514.40,87.66 514.60,89.16 514.80,90.22 515.00,90.79 515.20,90.82 515.40,90.31 515.60,89.27 515.80,87.75 516.00,85.80 516.20,83.52 516.40,80.98 516.60,78.32 516.80,75.63 517.00,73.04 517.20,70.64 517.40,68.55 517.60,66.85 517.80,65.59 518.00,64.84 518.20,64.60 518.40,64.87 518.60,65.64 518.80,66.85 519.00,68.45 519.20,70.35 519.40,72.47 519.60,74.72 519.80,77.00 520.00,79.22 520.20,81.32 520.40,83.21 520.60,84.85 520.80,86.19 521.00,87.19 521.20,87.86 521.40,88.20 521.60,88.22 521.80,87.96 522.00,87.46 522.20,86.77 522.40,85.95 522.60,85.03 522.80,84.07 523.00,83.11 523.20,82.17 523.40,81.29 523.60,80.48 523.80,79.73 524.00,79.05 524.20,78.42 524.40,77.83 524.60,77.26 524.80,76.68 525.00,76.09 525.20,75.46 525.40,74.81 525.60,74.12 525.80,73.42 526.00,72.72 526.20,72.06 526.40,71.47 526.60,70.99 526.80,70.66 527.00,70.52 527.20,70.60 527.40,70.94 527.60,71.55 527.80,72.44 528.00,73.59 528.20,74.98 528.40,76.58 528.60,78.32 528.80,80.16 529.00,82.00 529.20,83.78 529.40,85.41 529.60,86.82 529.80,87.93 530.00,88.67 530.20,89.13 530.40,89.14 530.60,88.69 530.80,87.77 531.00,86.42 531.20,84.67 531.40,82.60 531.60,80.29 531.80,77.83 532.00,75.34 532.20,72.92 532.40,70.69 532.60,68.75 532.80,67.20 533.00,66.10 533.20,65.52 533.40,65.48 533.60,66.00 533.80,67.05 534.00,68.59 534.20,70.56 534.40,72.88 534.60,75.44 534.80,78.14 535.00,80.87 535.20,83.51 535.40,85.96 535.60,88.12 535.80,89.91 536.00,91.26 536.20,92.15 536.40,92.54 536.60,92.44 536.80,91.86 537.00,90.86 537.20,89.48 537.40,87.79 537.60,85.87 537.80,83.80 538.00,81.66 538.20,79.52 538.40,77.46 538.60,75.52 538.80,73.75 539.00,72.19 539.20,70.85 539.40,69.74 539.60,68.86 539.80,68.20 540.00,67.73 540.20,67.38 540.40,67.18 540.60,67.11 540.80,67.16 541.00,67.31 541.20,67.57 541.40,67.93 541.60,68.42 541.80,69.05 542.00,69.85 542.20,70.83 542.40,72.03 542.60,73.46 542.80,75.15 543.00,77.08 543.20,79.26 543.40,81.66 543.60,84.24 543.80,86.94 544.00,89.69 544.20,92.41 544.40,95.00 544.60,97.36 544.80,99.39 545.00,100.99 545.20,102.05 545.40,102.50 545.60,102.27 545.80,101.33 546.00,99.64 546.20,97.21 546.40,94.09 546.60,90.34 546.80,86.06 547.00,81.35 547.20,76.36 547.40,71.24 547.60,66.16 547.80,61.29 548.00,56.78 548.20,52.82 548.40,49.51 548.60,46.99 548.80,45.35 549.00,44.66 549.20,44.96 549.40,46.25 549.60,48.52 549.80,51.69 550.00,55.67 550.20,60.35 550.40,65.58 550.60,71.20 550.80,77.04 551.00,82.90 551.20,88.62 551.40,94.02 551.60,98.94 551.80,103.24 552.00,106.79 552.20,109.51 552.40,111.33 552.60,112.22 552.80,112.18 553.00,111.24 553.20,109.44 553.40,106.87 553.60,103.62 553.80,99.81 554.00,95.55 554.20,90.97 554.40,86.21 554.60,81.39 554.80,76.63 555.00,72.03 555.20,67.70 555.40,63.71 555.60,60.15 555.80,57.05 556.00,54.47 556.20,52.54 556.40,51.19 556.60,50.41 556.80,50.22 557.00,50.59 557.20,51.52 557.40,52.99 557.60,54.97 557.80,57.43 558.00,60.35 558.20,63.69 558.40,67.39 558.60,71.40 558.80,75.65 559.00,80.08 559.20,84.58 559.40,89.06 559.60,93.41 559.80,97.52 560.00,101.27 560.20,104.54 560.40,107.21 560.60,109.18 560.80,110.34 561.00,110.63 561.20,109.98 561.40,108.37 561.60,105.82 561.80,102.34 562.00,98.02 562.20,92.96 562.40,87.29 562.60,81.19 562.80,74.83 563.00,68.44 563.20,62.22 563.40,56.40 563.60,51.18 563.80,46.76 564.00,43.33 564.20,41.02 564.40,39.93 564.60,40.14 564.80,41.65 565.00,44.44 565.20,48.42 565.40,53.48 565.60,59.43 565.80,66.10 566.00,73.23 566.20,80.60 566.40,87.93 566.60,94.97 566.80,101.49 567.00,107.24 567.20,112.00 567.40,115.62 567.60,118.01 567.80,119.09 568.00,118.85 568.20,117.30 568.40,114.51 568.60,110.62 568.80,105.75 569.00,100.09 569.20,93.85 569.40,87.22 569.60,80.43 569.80,73.70 570.00,67.23 570.20,61.20 570.40,55.78 570.60,51.11 570.80,47.29 571.00,44.41 571.20,42.50 571.40,41.59 571.60,41.66 571.80,42.67 572.00,44.57 572.20,47.26 572.40,50.67 572.60,54.69 572.80,59.21 573.00,64.12 573.20,69.30 573.40,74.64 573.60,80.03 573.80,85.37 574.00,90.54 574.20,95.44 574.40,100.00 574.60,104.10 574.80,107.67 575.00,110.63 575.20,112.90 575.40,114.43 575.60,115.14 575.80,115.01 576.00,114.00 576.20,112.11 576.40,109.34 576.60,105.72 576.80,101.32 577.00,96.20 577.20,90.49 577.40,84.30 577.60,77.79 577.80,71.12 578.00,64.49 578.20,58.09 578.40,52.12 578.60,46.76 578.80,42.21 579.00,38.63 579.20,36.16 579.40,34.90 579.60,34.93 579.80,36.29 580.00,38.94 580.20,42.88 580.40,47.95 580.60,54.00 580.80,60.84 581.00,68.26 581.20,76.00 581.40,83.83 581.60,91.48 581.80,98.69 582.00,105.22 582.20,110.85 582.40,115.40 582.60,118.73 582.80,120.72 583.00,121.33 583.20,120.54 583.40,118.41 583.60,115.02 583.80,110.51 584.00,105.05 584.20,98.84 584.40,92.11 584.60,85.09 584.80,78.03 585.00,71.16 585.20,64.70 585.40,58.85 585.60,53.78 585.80,49.65 586.00,46.54 586.20,44.52 586.40,43.61 586.60,43.81 586.80,45.06 587.00,47.27 587.20,50.35 587.40,54.15 587.60,58.54 587.80,63.35 588.00,68.43 588.20,73.61 588.40,78.75 588.60,83.70 588.80,88.34 589.00,92.56 589.20,96.28 589.40,99.42 589.60,101.92 589.80,103.77 590.00,104.93 590.20,105.43 590.40,105.25 590.60,104.45 590.80,103.04 591.00,101.08 591.20,98.61 591.40,95.69 591.60,92.39 591.80,88.78 592.00,84.91 592.20,80.88 592.40,76.75 592.60,72.61 592.80,68.54 593.00,64.64 593.20,61.00 593.40,57.70 593.60,54.82 593.80,52.47 594.00,50.70 594.20,49.60 594.40,49.21 594.60,49.57 594.80,50.71 595.00,52.63 595.20,55.31 595.40,58.70 595.60,62.74 595.80,67.34 596.00,72.38 596.20,77.74 596.40,83.26 596.60,88.79 596.80,94.16 597.00,99.21 597.20,103.76 597.40,107.68 597.60,110.82 597.80,113.07 598.00,114.35 598.20,114.58 598.40,113.75 598.60,111.86 598.80,108.96 599.00,105.13 599.20,100.47 599.40,95.12 599.60,89.25 599.80,83.03 600.00,76.66 600.20,70.33 600.40,64.24 600.60,58.57 600.80,53.49 601.00,49.16 601.20,45.71 601.40,43.22 601.60,41.77 601.80,41.38 602.00,42.04 602.20,43.73 602.40,46.36 602.60,49.85 602.80,54.07 603.00,58.88 603.20,64.13 603.40,69.66 603.60,75.31 603.80,80.91 604.00,86.32 604.20,91.38 604.40,95.99 604.60,100.04 604.80,103.44 605.00,106.12 605.20,108.04 605.40,109.19 605.60,109.57 605.80,109.21 606.00,108.13 606.20,106.40 606.40,104.07 606.60,101.22 606.80,97.93 607.00,94.27 607.20,90.33 607.40,86.20 607.60,81.96 607.80,77.70 608.00,73.50 608.20,69.43 608.40,65.58 608.60,62.02 608.80,58.82 609.00,56.04 609.20,53.75 609.40,51.99 609.60,50.82 609.80,50.28 610.00,50.39 610.20,51.16 610.40,52.60 610.60,54.69 610.80,57.41 611.00,60.70 611.20,64.50 611.40,68.72 611.60,73.27 611.80,78.04 612.00,82.89 612.20,87.69 612.40,92.31 612.60,96.61 612.80,100.44 613.00,103.69 613.20,106.25 613.40,108.01 613.60,108.92 613.80,108.93 614.00,108.01 614.20,106.19 614.40,103.52 614.60,100.06 614.80,95.92 615.00,91.23 615.20,86.14 615.40,80.80 615.60,75.40 615.80,70.11 616.00,65.10 616.20,60.54 616.40,56.57 616.60,53.33 616.80,50.92 617.00,49.40 617.20,48.80 617.40,49.15 617.60,50.43 617.80,52.58 618.00,55.52 618.20,59.13 618.40,63.30 618.60,67.88 618.80,72.70 619.00,77.62 619.20,82.47 619.40,87.10 619.60,91.37 619.80,95.17 620.00,98.38 620.20,100.94 620.40,102.78 620.60,103.88 620.80,104.22 621.00,103.83 621.20,102.74 621.40,101.00 621.60,98.70 621.80,95.91 622.00,92.72 622.20,89.22 622.40,85.52 622.60,81.72 622.80,77.90 623.00,74.15 623.20,70.57 623.40,67.21 623.60,64.16 623.80,61.47 624.00,59.18 624.20,57.34 624.40,55.99 624.60,55.15 624.80,54.84 625.00,55.06 625.20,55.83 625.40,57.14 625.60,58.96 625.80,61.28 626.00,64.06 626.20,67.23 626.40,70.75 626.60,74.58 626.80,78.61 627.00,82.76 627.20,86.93 627.40,91.00 627.60,94.88 627.80,98.43 628.00,101.56 628.20,104.14 628.40,106.10 628.60,107.33 628.80,107.77 629.00,107.40 629.20,106.17 629.40,104.10 629.60,101.23 629.80,97.62 630.00,93.36 630.20,88.56 630.40,83.36 630.60,77.92 630.80,72.41 631.00,66.99 631.20,61.86 631.40,57.17 631.60,53.08 631.80,49.74 632.00,47.26 632.20,45.74 632.40,45.22 632.60,45.73 632.80,47.25 633.00,49.74 633.20,53.12 633.40,57.28 633.60,62.06 633.80,67.32 634.00,72.89" fill="none" stroke="#0000ff" stroke-width="2.5" stroke-linejoin="round" stroke-linecap="round"/>
<polyline points="66.00,286.30 255.00,286.30 258.00,285.60 261.70,287.00 264.50,286.20 267.50,284.80 273.40,281.20 282.10,273.90 292.30,264.40 302.60,256.40 308.00,251.80 312.80,246.10 316.00,241.50 318.60,237.40 321.00,232.00 323.00,225.70 325.90,214.00 328.80,200.90 331.80,187.70 334.70,179.00 336.80,173.50 338.30,169.34 338.11,295.00 341.39,278.66 351.23,253.53 361.06,222.12 366.64,195.73 370.90,169.34 370.91,295.00 373.07,278.66 379.55,253.53 386.02,222.12 389.69,195.73 392.50,169.34 392.51,295.00 395.87,278.66 405.95,253.53 416.02,222.12 421.73,195.73 426.10,169.34 426.11,295.00 427.95,278.66 433.47,253.53 438.98,222.12 442.11,195.73 444.50,169.34 444.51,295.00 446.27,278.66 451.55,253.53 456.82,222.12 459.81,195.73 462.10,169.34 462.11,295.00 463.69,278.66 468.43,253.53 473.16,222.12 475.85,195.73 477.90,169.34 477.91,295.00 479.27,278.66 483.35,253.53 487.42,222.12 489.73,195.73 491.50,169.34 491.51,295.00 492.83,278.66 496.79,253.53 500.74,222.12 502.99,195.73 504.70,169.34 504.71,295.00 505.89,278.66 509.43,253.53 512.96,222.12 514.97,195.73 516.50,169.34 516.51,295.00 517.64,278.66 521.03,253.53 524.41,222.12 526.33,195.73 527.80,169.34 527.81,295.00 528.86,278.66 532.01,253.53 535.15,222.12 536.94,195.73 538.30,169.34 538.31,295.00 539.36,278.66 542.51,253.53 545.65,222.12 547.44,195.73 548.80,169.34 548.81,295.00 549.86,278.66 553.01,253.53 556.15,222.12 557.94,195.73 559.30,169.34 559.31,295.00 560.36,278.66 563.51,253.53 566.65,222.12 568.44,195.73 569.80,169.34 569.81,295.00 570.86,278.66 574.01,253.53 577.15,222.12 578.94,195.73 580.30,169.34 580.31,295.00 581.29,278.66 584.23,253.53 587.16,222.12 588.83,195.73 590.10,169.34 590.11,295.00 591.10,278.66 594.07,253.53 597.03,222.12 598.71,195.73 600.00,169.34 600.01,295.00 600.99,278.66 603.93,253.53 606.86,222.12 608.53,195.73 609.80,169.34 609.81,295.00 610.73,278.66 613.49,253.53 616.24,222.12 617.81,195.73 619.00,169.34 619.01,295.00 619.98,278.66 622.89,253.53 625.79,222.12 627.44,195.73 628.70,169.34 628.71,295.00 634.00,226.34" fill="none" stroke="#d95319" stroke-width="4.4" stroke-linejoin="round" stroke-linecap="round"/>
<path d="M66.00,335.95 C127.33,335.95 188.67,335.95 250.00,335.95 C251.93,335.95 253.87,335.95 255.80,335.95 C256.53,335.95 257.27,337.81 258.00,339.60 C258.73,341.39 259.47,346.52 260.20,349.80 C260.93,353.08 261.67,357.17 262.40,359.30 C263.13,361.43 263.87,364.10 264.60,364.10 C265.57,364.10 266.53,362.70 267.50,362.70 C268.73,362.70 269.97,364.70 271.20,364.70 C272.13,364.70 273.07,363.70 274.00,363.70 C275.23,363.70 276.47,365.23 277.70,365.90 C279.17,366.70 280.63,367.18 282.10,368.10 C284.07,369.33 286.03,371.11 288.00,373.20 C289.93,375.26 291.87,378.75 293.80,381.20 C296.73,384.92 299.67,387.85 302.60,391.40 C305.50,394.91 308.40,398.84 311.30,402.40 C313.73,405.38 316.17,408.47 318.60,411.10 C320.07,412.68 321.53,415.50 323.00,415.50 C323.97,415.50 324.93,414.11 325.90,412.60 C327.13,410.68 328.37,401.63 329.60,398.00 C331.07,393.68 332.53,387.80 334.00,387.80 C335.20,387.80 336.40,388.52 337.60,389.20 C338.40,389.66 339.20,390.59 340.00,391.50 C341.93,393.70 343.87,397.53 345.80,400.30 C347.77,403.12 349.73,408.30 351.70,408.30 C353.40,408.30 355.10,405.15 356.80,403.20 C358.27,401.51 359.73,397.30 361.20,397.30 C362.63,397.30 364.07,401.43 365.50,403.20 C367.23,405.34 368.97,409.00 370.70,409.00 C372.87,409.00 375.03,405.40 377.20,405.40 C378.43,405.40 379.67,408.21 380.90,410.50 C382.10,412.73 383.30,420.70 384.50,420.70 C385.73,420.70 386.97,410.44 388.20,403.20 C389.17,397.52 390.13,385.68 391.10,381.30 C391.83,377.98 392.57,374.00 393.30,374.00 C394.27,374.00 395.23,376.58 396.20,378.40 C397.43,380.72 398.67,385.76 399.90,387.80 C401.33,390.17 402.77,391.13 404.20,393.00 C405.90,395.22 407.60,398.52 409.30,400.30 C411.03,402.12 412.77,404.60 414.50,404.60 C416.20,404.60 417.90,403.90 419.60,403.90 C421.07,403.90 422.53,406.37 424.00,407.60 C425.43,408.80 426.87,411.20 428.30,411.20 C429.77,411.20 431.23,405.39 432.70,403.90 C433.67,402.92 434.63,401.70 435.60,401.70 C436.93,401.70 438.27,408.70 439.60,408.70 C440.67,408.70 441.73,407.12 442.80,405.50 C444.17,403.42 445.53,391.10 446.90,391.10 C447.97,391.10 449.03,393.42 450.10,395.10 C451.43,397.20 452.77,401.70 454.10,403.90 C455.97,406.97 457.83,411.10 459.70,411.10 C461.03,411.10 462.37,403.21 463.70,400.70 C464.77,398.69 465.83,395.90 466.90,395.90 C468.53,395.90 470.17,400.29 471.80,402.30 C473.40,404.27 475.00,407.90 476.60,407.90 C479.00,407.90 481.40,400.70 483.80,400.70 C485.93,400.70 488.07,404.70 490.20,404.70 C492.07,404.70 493.93,404.18 495.80,403.90 C497.43,403.65 499.07,403.10 500.70,403.10 C502.03,403.10 503.37,403.54 504.70,403.90 C506.03,404.26 507.37,405.50 508.70,405.50 C510.30,405.50 511.90,404.17 513.50,403.60 C514.83,403.13 516.17,402.30 517.50,402.30 C518.83,402.30 520.17,407.10 521.50,407.10 C522.87,407.10 524.23,404.83 525.60,403.90 C526.93,403.00 528.27,401.50 529.60,401.50 C530.67,401.50 531.73,408.70 532.80,408.70 C534.13,408.70 535.47,403.48 536.80,402.30 C538.10,401.15 539.40,399.90 540.70,399.90 C542.13,399.90 543.57,411.50 545.00,411.50 C547.00,411.50 549.00,395.50 551.00,395.50 C552.73,395.50 554.47,417.40 556.20,417.40 C558.33,417.40 560.47,389.60 562.60,389.60 C564.57,389.60 566.53,423.20 568.50,423.20 C570.63,423.20 572.77,394.00 574.90,394.00 C576.63,394.00 578.37,418.80 580.10,418.80 C582.07,418.80 584.03,395.50 586.00,395.50 C587.47,395.50 588.93,417.40 590.40,417.40 C592.33,417.40 594.27,399.90 596.20,399.90 C597.17,399.90 598.13,416.50 599.10,416.50 C601.07,416.50 603.03,402.00 605.00,402.00 C606.27,402.00 607.53,415.30 608.80,415.30 C610.93,415.30 613.07,402.80 615.20,402.80 C616.37,402.80 617.53,413.00 618.70,413.00 C620.47,413.00 622.23,402.80 624.00,402.80 C625.13,402.80 626.27,412.40 627.40,412.40 C629.17,412.40 630.93,401.30 632.70,401.30 C633.13,401.30 633.57,401.77 634.00,402.00" fill="none" stroke="#7e2f8e" stroke-width="4.3" stroke-linejoin="round" stroke-linecap="round"/>
<polyline points="82.50,638.72 82.70,633.46 82.90,629.56 83.10,627.12 83.30,626.21 83.50,626.84 83.70,629.02 83.90,632.67 84.10,637.69 84.30,643.97 84.50,651.31 84.70,659.54 84.90,668.42 85.10,677.72 85.30,687.19 85.50,696.57 85.70,705.61 85.90,714.08 86.10,721.73 86.30,728.38 86.50,733.83 86.70,737.94 86.90,740.61 87.10,741.76 87.30,741.35 87.50,739.40 87.70,735.97 87.90,731.14 88.10,725.05 88.30,717.85 88.50,709.74 88.70,700.95 88.90,691.69 89.10,682.24 89.30,672.82 89.50,663.71 89.70,655.15 89.90,647.35 90.10,640.55 90.30,634.91 90.50,630.58 90.70,627.69 90.90,626.32 91.10,626.49 91.30,628.21 91.50,631.42 91.70,636.05 91.90,641.96 92.10,649.01 92.30,656.99 92.50,665.70 92.70,674.90 92.90,684.34 93.10,693.78 93.30,702.95 93.50,711.61 93.70,719.54 93.90,726.50 94.10,732.33 94.30,736.86 94.50,739.97 94.70,741.57 94.90,741.63 95.10,740.15 95.30,737.15 95.50,732.73 95.70,727.00 95.90,720.11 96.10,712.26 96.30,703.65 96.50,694.50 96.70,685.08 96.90,675.63 97.10,666.40 97.30,657.64 97.50,649.60 97.70,642.47 97.90,636.47 98.10,631.73 98.30,628.40 98.50,626.57 98.70,626.28 98.90,627.53 99.10,630.30 99.30,634.52 99.50,640.06 99.70,646.79 99.90,654.51 100.10,663.02 100.30,672.10 100.50,681.50 100.70,690.96 100.90,700.24 101.10,709.08 101.30,717.25 101.50,724.52 101.70,730.71 101.90,735.64 102.10,739.19 102.30,741.25 102.50,741.78 102.70,740.75 102.90,738.21 103.10,734.20 103.30,728.85 103.50,722.29 103.70,714.71 103.90,706.30 104.10,697.29 104.30,687.92 104.50,678.45 104.70,669.13 104.90,660.21 105.10,651.92 105.30,644.50 105.50,638.14 105.70,633.01 105.90,629.25 106.10,626.96 106.30,626.20 106.50,626.99 106.70,629.32 106.90,633.11 107.10,638.27 107.30,644.66 107.50,652.10 107.70,660.40 107.90,669.33 108.10,678.66 108.30,688.13 108.50,697.49 108.70,706.49 108.90,714.88 109.10,722.45 109.30,728.98 109.50,734.30 109.70,738.28 109.90,740.79 110.10,741.78 110.30,741.22 110.50,739.13 110.70,735.55 110.90,730.59 111.10,724.37 111.30,717.08 111.50,708.89 111.70,700.04 111.90,690.75 112.10,681.29 112.30,671.90 112.50,662.83 112.70,654.33 112.90,646.63 113.10,639.93 113.30,634.41 113.50,630.23 113.70,627.49 113.90,626.26 114.10,626.59 114.30,628.46 114.50,631.82 114.70,636.58 114.90,642.62 115.10,649.77 115.30,657.83 115.50,666.60 115.70,675.84 115.90,685.29 116.10,694.71 116.30,703.84 116.50,712.44 116.70,720.28 116.90,727.14 117.10,732.84 117.30,737.23 117.50,740.20 117.70,741.65 117.90,741.56 118.10,739.91 118.30,736.77 118.50,732.21 118.70,726.36 118.90,719.37 119.10,711.43 119.30,702.75 119.50,693.57 119.70,684.13 119.90,674.69 120.10,665.50 120.30,656.80 120.50,648.84 120.70,641.82 120.90,635.93 121.10,631.34 121.30,628.15 121.50,626.47 121.70,626.33 121.90,627.74 122.10,630.66 122.30,635.02 122.50,640.68 122.70,647.52 122.90,655.33 123.10,663.91 123.30,673.03 123.50,682.45 123.70,691.90 123.90,701.15 124.10,709.93 124.30,718.02 124.50,725.20 124.70,731.26 124.90,736.06 125.10,739.46 125.30,741.38 125.50,741.75 125.70,740.57 125.90,737.87 126.10,733.72 126.30,728.24 126.50,721.58 126.70,713.90 126.90,705.42 127.10,696.36 127.30,686.98 127.50,677.51 127.70,668.22 127.90,659.35 128.10,651.14 128.30,643.81 128.50,637.57 128.70,632.57 128.90,628.95 129.10,626.81 129.30,626.21 129.50,627.16 129.70,629.63 129.90,633.57 130.10,638.85 130.30,645.36 130.50,652.89 130.70,661.27 130.90,670.25 131.10,679.61 131.30,689.08 131.50,698.41 131.70,707.36 131.90,715.68 132.10,723.15 132.30,729.57 132.50,734.76 132.70,738.60 132.90,740.96 133.10,741.80 133.30,741.08 133.50,738.83 133.70,735.11 133.90,730.02 134.10,723.69 134.30,716.30 134.50,708.03 134.70,699.13 134.90,689.81 135.10,680.34 135.30,670.97 135.50,661.95 135.70,653.52 135.90,645.91 136.10,639.32 136.30,633.93 136.50,629.89 136.70,627.30 136.90,626.23 137.10,626.71 137.30,628.73 137.50,632.24 137.70,637.13 137.90,643.29 138.10,650.53 138.30,658.68 138.50,667.51 138.70,676.78 138.90,686.24 139.10,695.64 139.30,704.73 139.50,713.26 139.70,721.01 139.90,727.77 140.10,733.34 140.30,737.60 140.50,740.41 140.70,741.71 140.90,741.46 141.10,739.67 141.30,736.38 141.50,731.68 141.70,725.71 141.90,718.61 142.10,710.59 142.30,701.85 142.50,692.63 142.70,683.18 142.90,673.76 143.10,664.60 143.30,655.97 143.50,648.09 143.70,641.18 143.90,635.41 144.10,630.95 144.30,627.92 144.50,626.39 144.70,626.40 144.90,627.97 145.10,631.04 145.30,635.53 145.50,641.32 145.70,648.26 145.90,656.16 146.10,664.80 146.30,673.96 146.50,683.39 146.70,692.84 146.90,702.05 147.10,710.78 147.30,718.78 147.50,725.85 147.70,731.80 147.90,736.47 148.10,739.72 148.30,741.48 148.50,741.70 148.70,740.37 148.90,737.52 149.10,733.23 149.30,727.63 149.50,720.85 149.70,713.08 149.90,704.53 150.10,695.43 150.30,686.03 150.50,676.57 150.70,667.31 150.90,658.49 151.10,650.36 151.30,643.14 151.50,637.01 151.70,632.14 151.90,628.67 152.10,626.68 152.30,626.23 152.50,627.34 152.70,629.96 152.90,634.04 153.10,639.45 153.30,646.07 153.50,653.70 153.70,662.14 153.90,671.17 154.10,680.55 154.30,690.02 154.50,699.33 154.70,708.22 154.90,716.47 155.10,723.84 155.30,730.15 155.50,735.21 155.70,738.90 155.90,741.12 156.10,741.80 156.30,740.93 156.50,738.53 156.70,734.66 156.90,729.44 157.10,723.00 157.30,715.50 157.50,707.17 157.70,698.21 157.90,688.87 158.10,679.40 158.30,670.05 158.50,661.07 158.70,652.72 158.90,645.20 159.10,638.72 159.30,633.46 159.50,629.56 159.70,627.12 159.90,626.21 160.10,626.84 160.30,629.02 160.50,632.67 160.70,637.69 160.90,643.97 161.10,651.31 161.30,659.54 161.50,668.42 161.70,677.72 161.90,687.19 162.10,696.57 162.30,705.61 162.50,714.08 162.70,721.73 162.90,728.38 163.10,733.83 163.30,737.94 163.50,740.61 163.70,741.76 163.90,741.35 164.10,739.40 164.30,735.97 164.50,731.14 164.70,725.05 164.90,717.85 165.10,709.74 165.30,700.95 165.50,691.69 165.70,682.24 165.90,672.82 166.10,663.71 166.30,655.15 166.50,647.35 166.70,640.55 166.90,634.91 167.10,630.58 167.30,627.69 167.50,626.32 167.70,626.49 167.90,628.21 168.10,631.42 168.30,636.05 168.50,641.96 168.70,649.01 168.90,656.99 169.10,665.70 169.30,674.90 169.50,684.34 169.70,693.78 169.90,702.95 170.10,711.61 170.30,719.54 170.50,726.50 170.70,732.33 170.90,736.86 171.10,739.97 171.30,741.57 171.50,741.63 171.70,740.15 171.90,737.15 172.10,732.73 172.30,727.00 172.50,720.11 172.70,712.26 172.90,703.65 173.10,694.50 173.30,685.08 173.50,675.63 173.70,666.40 173.90,657.64 174.10,649.60 174.30,642.47 174.50,636.47 174.70,631.73 174.90,628.40 175.10,626.57 175.30,626.28 175.50,627.53 175.70,630.30 175.90,634.52 176.10,640.06 176.30,646.79 176.50,654.51 176.70,663.02 176.90,672.10 177.10,681.50 177.30,690.96 177.50,700.24 177.70,709.08 177.90,717.25 178.10,724.52 178.30,730.71 178.50,735.64 178.70,739.19 178.90,741.25 179.10,741.78 179.30,740.75 179.50,738.21 179.70,734.20 179.90,728.85 180.10,722.29 180.30,714.71 180.50,706.30 180.70,697.29 180.90,687.92 181.10,678.45 181.30,669.13 181.50,660.21 181.70,651.92 181.90,644.50 182.10,638.14 182.30,633.01 182.50,629.25 182.70,626.96 182.90,626.20 183.10,626.99 183.30,629.32 183.50,633.11 183.70,638.27 183.90,644.66 184.10,652.10 184.30,660.40 184.50,669.33 184.70,678.66 184.90,688.13 185.10,697.49 185.30,706.49 185.50,714.88 185.70,722.45 185.90,728.98 186.10,734.30 186.30,738.28 186.50,740.79 186.70,741.78 186.90,741.22 187.10,739.13 187.30,735.55 187.50,730.59 187.70,724.37 187.90,717.08 188.10,708.89 188.30,700.04 188.50,690.75 188.70,681.29 188.90,671.90 189.10,662.83 189.30,654.33 189.50,646.63 189.70,639.93 189.90,634.41 190.10,630.23 190.30,627.49 190.50,626.26 190.70,626.59 190.90,628.46 191.10,631.82 191.30,636.58 191.50,642.62 191.70,649.77 191.90,657.83 192.10,666.60 192.30,675.84 192.50,685.29 192.70,694.71 192.90,703.84 193.10,712.44 193.30,720.28 193.50,727.14 193.70,732.84 193.90,737.23 194.10,740.20 194.30,741.65 194.50,741.56 194.70,739.91 194.90,736.77 195.10,732.21 195.30,726.36 195.50,719.37 195.70,711.43 195.90,702.75 196.10,693.57 196.30,684.13 196.50,674.69 196.70,665.50 196.90,656.80 197.10,648.84 197.30,641.82 197.50,635.93 197.70,631.34 197.90,628.15 198.10,626.47 198.30,626.33 198.50,627.74 198.70,630.66 198.90,635.02 199.10,640.68 199.30,647.52 199.50,655.33 199.70,663.91 199.90,673.03 200.10,682.45 200.30,691.90 200.50,701.15 200.70,709.93 200.90,718.02 201.10,725.20 201.30,731.26 201.50,736.06 201.70,739.46 201.90,741.38 202.10,741.75 202.30,740.57 202.50,737.87 202.70,733.72 202.90,728.24 203.10,721.58 203.30,713.90 203.50,705.42 203.70,696.36 203.90,686.98 204.10,677.51 204.30,668.22 204.50,659.35 204.70,651.14 204.90,643.81 205.10,637.57 205.30,632.57 205.50,628.95 205.70,626.81 205.90,626.21 206.10,627.16 206.30,629.63 206.50,633.57 206.70,638.85 206.90,645.36 207.10,652.89 207.30,661.27 207.50,670.25 207.70,679.61 207.90,689.08 208.10,698.41 208.30,707.36 208.50,715.68 208.70,723.15 208.90,729.57 209.10,734.76 209.30,738.60 209.50,740.96 209.70,741.80 209.90,741.08 210.10,738.83 210.30,735.11 210.50,730.02 210.70,723.69 210.90,716.30 211.10,708.03 211.30,699.13 211.50,689.81 211.70,680.34 211.90,670.97 212.10,661.95 212.30,653.52 212.50,645.91 212.70,639.32 212.90,633.93 213.10,629.89 213.30,627.30 213.50,626.23 213.70,626.71 213.90,628.73 214.10,632.24 214.30,637.13 214.50,643.29 214.70,650.53 214.90,658.68 215.10,667.51 215.30,676.78 215.50,686.24 215.70,695.64 215.90,704.73 216.10,713.26 216.30,721.01 216.50,727.77 216.70,733.34 216.90,737.60 217.10,740.41 217.30,741.71 217.50,741.46 217.70,739.67 217.90,736.38 218.10,731.68 218.30,725.71 218.50,718.61 218.70,710.59 218.90,701.85 219.10,692.63 219.30,683.18 219.50,673.76 219.70,664.60 219.90,655.97 220.10,648.09 220.30,641.18 220.50,635.41 220.70,630.95 220.90,627.92 221.10,626.39 221.30,626.40 221.50,627.97 221.70,631.04 221.90,635.53 222.10,641.32 222.30,648.26 222.50,656.16 222.70,664.80 222.90,673.96 223.10,683.39 223.30,692.84 223.50,702.05 223.70,710.78 223.90,718.78 224.10,725.85 224.30,731.80 224.50,736.47 224.70,739.72 224.90,741.48 225.10,741.70 225.30,740.37 225.50,737.52 225.70,733.23 225.90,727.63 226.10,720.85 226.30,713.08 226.50,704.53 226.70,695.43 226.90,686.03 227.10,676.57 227.30,667.31 227.50,658.49 227.70,650.36 227.90,643.14 228.10,637.01 228.30,632.14 228.50,628.67 228.70,626.68 228.90,626.23 229.10,627.34 229.30,629.96 229.50,634.04 229.70,639.45 229.90,646.07 230.10,653.70 230.30,662.14 230.50,671.17 230.70,680.55 230.90,690.02 231.10,699.33 231.30,708.22 231.50,716.47 231.70,723.84 231.90,730.15 232.10,735.21 232.30,738.90 232.50,741.12 232.70,741.80 232.90,740.93 233.10,738.53 233.30,734.66 233.50,729.44 233.70,723.00 233.90,715.50 234.10,707.17 234.30,698.21 234.50,688.87 234.70,679.40 234.90,670.05 235.10,661.07 235.30,652.72 235.50,645.20 235.70,638.72 235.90,633.46 236.10,629.56 236.30,627.12 236.50,626.21 236.70,626.84 236.90,629.02 237.10,632.67 237.30,637.69 237.50,643.97 237.70,651.31 237.90,659.54 238.10,668.42 238.30,677.72 238.50,687.19 238.70,696.57 238.90,705.61 239.10,714.08 239.30,721.73 239.50,728.38 239.70,733.83 239.90,737.94 240.10,740.61 240.30,741.76 240.50,741.35 240.70,739.40 240.90,735.97 241.10,731.14 241.30,725.05 241.50,717.85 241.70,709.74 241.90,700.95 242.10,691.69 242.30,682.24 242.50,672.82 242.70,663.71 242.90,655.15 243.10,647.35 243.30,640.55 243.50,634.91 243.70,630.58 243.90,627.69 244.10,626.32 244.30,626.49 244.50,628.21 244.70,631.42 244.90,636.05 245.10,641.96 245.30,649.01 245.50,656.99 245.70,665.70 245.90,674.90 246.10,684.34 246.30,693.78 246.50,702.95 246.70,711.61 246.90,719.54 247.10,726.50 247.30,732.33 247.50,736.86 247.70,739.97 247.90,741.57 248.10,741.63 248.30,740.15 248.50,737.15 248.70,732.73 248.90,727.00 249.10,720.11 249.30,712.26 249.50,703.65 249.70,694.50 249.90,685.08 250.10,675.63 250.30,666.40 250.50,657.64 250.70,649.60 250.90,642.47 251.10,636.47 251.30,631.73 251.50,628.40 251.70,626.57 251.90,626.28 252.10,627.53 252.30,630.30 252.50,634.52 252.70,640.06 252.90,646.79 253.10,654.51 253.30,663.02 253.50,672.10 253.70,681.50 253.90,690.96 254.10,700.24 254.30,709.08 254.50,717.25 254.70,724.52 254.90,730.71 255.10,735.64 255.30,739.19 255.50,741.25 255.70,741.78 255.90,740.75 256.10,738.21 256.30,734.20 256.50,728.85 256.70,722.29 256.90,714.71 257.10,706.30 257.30,697.29 257.50,687.92 257.70,678.45 257.90,669.13 258.10,660.21 258.30,651.92 258.50,644.50 258.70,638.14 258.90,633.01 259.10,629.25 259.30,626.96 259.50,626.20 259.70,626.99 259.90,629.32 260.10,633.11 260.30,638.27 260.50,644.66 260.70,652.10 260.90,660.40 261.10,669.33 261.30,678.66 261.50,688.13 261.70,697.49 261.90,706.49 262.10,714.88 262.30,722.45 262.50,728.98 262.70,734.30 262.90,738.28 263.10,740.79 263.30,741.78 263.50,741.22 263.70,739.13 263.90,735.55 264.10,730.59 264.30,724.37 264.50,717.08 264.70,708.89 264.90,700.04 265.10,690.75 265.30,681.29 265.50,671.90 265.70,662.83 265.90,654.33 266.10,646.63 266.30,639.93 266.50,634.41 266.70,630.23 266.90,627.49 267.10,626.26 267.30,626.59 267.50,628.46 267.70,631.82 267.90,636.58 268.10,642.62 268.30,649.77 268.50,657.83 268.70,666.60 268.90,675.84 269.10,685.29 269.30,694.71 269.50,703.84 269.70,712.44 269.90,720.28 270.10,727.14 270.30,732.84 270.50,737.23 270.70,740.20 270.90,741.65 271.10,741.56 271.30,739.91 271.50,736.77 271.70,732.21 271.90,726.36 272.10,719.37 272.30,711.43 272.50,702.75 272.70,693.57 272.90,684.13 273.10,674.69 273.30,665.50 273.50,656.80 273.70,648.84 273.90,641.82 274.10,637.73 274.30,637.26 274.50,638.62 274.70,639.49 274.90,639.54 275.10,640.78 275.30,643.18 275.50,646.64 275.70,651.09 275.90,656.38 276.10,662.37 276.30,668.90 276.50,675.79 276.70,682.84 276.90,689.87 277.10,696.70 277.30,703.13 277.50,709.00 277.70,714.16 277.90,718.47 278.10,721.83 278.30,724.15 278.50,725.37 278.70,725.48 278.90,724.48 279.10,722.40 279.30,719.31 279.50,715.29 279.70,710.50 279.90,705.04 280.10,699.04 280.30,692.66 280.50,686.08 280.70,679.47 280.90,673.01 281.10,666.88 281.30,661.22 281.50,656.21 281.70,651.96 281.90,648.59 282.10,646.18 282.30,644.79 282.50,644.47 282.70,645.20 282.90,646.97 283.10,649.73 283.30,653.39 283.50,657.85 283.70,663.00 283.90,668.69 284.10,674.76 284.30,681.05 284.50,687.40 284.70,693.62 284.90,699.56 285.10,705.05 285.30,709.96 285.50,714.15 285.70,717.51 285.90,719.95 286.10,721.43 286.30,721.89 286.50,721.34 286.70,719.78 286.90,717.28 287.10,713.89 287.30,709.68 287.50,704.79 287.70,699.39 287.90,693.63 288.10,687.68 288.30,681.70 288.50,675.83 288.70,670.26 288.90,665.11 289.10,660.52 289.30,656.61 289.50,653.48 289.70,651.20 289.90,649.82 290.10,649.37 290.30,649.86 290.50,651.25 290.70,653.50 290.90,656.55 291.10,660.29 291.30,664.63 291.50,669.43 291.70,674.56 291.90,679.89 292.10,685.27 292.30,690.54 292.50,695.58 292.70,700.24 292.90,704.42 293.10,707.99 293.30,710.88 293.50,713.02 293.70,714.35 293.90,714.87 294.10,714.56 294.30,713.44 294.50,711.55 294.70,708.94 294.90,705.69 295.10,701.90 295.30,697.67 295.50,693.12 295.70,688.39 295.90,683.59 296.10,678.86 296.30,674.32 296.50,670.09 296.70,666.29 296.90,663.00 297.10,660.32 297.30,658.30 297.50,657.00 297.70,656.43 297.90,656.61 298.10,657.52 298.30,659.13 298.50,661.38 298.70,664.21 298.90,667.53 299.10,671.25 299.30,675.27 299.50,679.47 299.70,683.73 299.90,687.94 300.10,691.99 300.30,695.78 300.50,699.20 300.70,702.17 300.90,704.61 301.10,706.46 301.30,707.69 301.50,708.27 301.70,708.22 301.90,707.53 302.10,706.21 302.30,704.32 302.50,701.90 302.70,699.04 302.90,695.80 303.10,692.28 303.30,688.58 303.50,684.81 303.70,681.05 303.90,677.42 304.10,674.01 304.30,670.91 304.50,668.19 304.70,665.93 304.90,664.18 305.10,662.99 305.30,662.37 305.50,662.33 305.70,662.88 305.90,663.98 306.10,665.61 306.30,667.71 306.50,670.22 306.70,673.06 306.90,676.16 307.10,679.43 307.30,682.78 307.50,686.12 307.70,689.35 307.90,692.40 308.10,695.19 308.30,697.63 308.50,699.68 308.70,701.28 308.90,702.40 309.10,703.05 309.30,703.23 309.50,702.89 309.70,702.05 309.90,700.73 310.10,698.97 310.30,696.82 310.50,694.33 310.70,691.58 310.90,688.64 311.10,685.58 311.30,682.51 311.50,679.48 311.70,676.59 311.90,673.92 312.10,671.53 312.30,669.48 312.50,667.84 312.70,666.64 312.90,665.90 313.10,665.66 313.30,665.91 313.50,666.64 313.70,667.83 313.90,669.45 314.10,671.46 314.30,673.78 314.50,676.37 314.70,679.16 314.90,682.05 315.10,684.99 315.30,687.88 315.50,690.65 315.70,693.23 315.90,695.55 316.10,697.55 316.30,699.17 316.50,700.38 316.70,701.14 316.90,701.44 317.10,701.27 317.30,700.64 317.50,699.57 317.70,698.09 317.90,696.23 318.10,694.07 318.30,691.66 318.50,689.04 318.70,686.29 318.90,683.48 319.10,680.68 319.30,677.97 319.50,675.42 319.70,673.10 319.90,671.08 320.10,669.41 320.30,668.12 320.50,667.26 320.70,666.86 320.90,666.91 321.10,667.42 321.30,668.38 321.50,669.76 321.70,671.51 321.90,673.61 322.10,675.98 322.30,678.57 322.50,681.30 322.70,684.10 322.90,686.90 323.10,689.62 323.30,692.20 323.50,694.55 323.70,696.61 323.90,698.34 324.10,699.68 324.30,700.60 324.50,701.08 324.70,701.10 324.90,700.65 325.10,699.76 325.30,698.45 325.50,696.75 325.70,694.71 325.90,692.38 326.10,689.82 326.30,687.11 326.50,684.32 326.70,681.52 326.90,678.79 327.10,676.19 327.30,673.81 327.50,671.70 327.70,669.92 327.90,668.52 328.10,667.54 328.30,667.00 328.50,666.91 328.70,667.28 328.90,668.11 329.10,669.35 329.30,671.00 329.50,672.99 329.70,675.27 329.90,677.79 330.10,680.48 330.30,683.26 330.50,686.06 330.70,688.80 330.90,691.42 331.10,693.83 331.30,695.98 331.50,697.81 331.70,699.27 331.90,700.31 332.10,700.92 332.30,701.07 332.50,700.77 332.70,700.02 332.90,698.83 333.10,697.25 333.30,695.31 333.50,693.07 333.70,690.58 333.90,687.92 334.10,685.16 334.30,682.36 334.50,679.61 334.70,676.98 334.90,674.53 335.10,672.34 335.30,670.47 335.50,668.96 335.70,667.85 335.90,667.17 336.10,666.95 336.30,667.19 336.50,667.87 336.70,668.99 336.90,670.52 337.10,672.40 337.30,674.60 337.50,677.04 337.70,679.68 337.90,682.43 338.10,685.22 338.30,687.98 338.50,690.63 338.70,693.10 338.90,695.33 339.10,697.25 339.30,698.82 339.50,699.98 339.70,700.72 339.90,701.01 340.10,700.85 340.30,700.23 340.50,699.17 340.70,697.71 340.90,695.88 341.10,693.73 341.30,691.32 341.50,688.72 341.70,685.99 341.90,683.20 342.10,680.44 342.30,677.75 342.50,675.22 342.70,672.91 342.90,670.89 343.10,669.21 343.30,667.92 343.50,667.06 343.70,666.65 343.90,666.71 344.10,667.23 344.30,668.21 344.50,669.61 344.70,671.41 344.90,673.56 345.10,676.00 345.30,678.67 345.50,681.49 345.70,684.40 345.90,687.31 346.10,690.14 346.30,692.82 346.50,695.28 346.70,697.44 346.90,699.26 347.10,700.67 347.30,701.64 347.50,702.14 347.70,702.15 347.90,701.67 348.10,700.72 348.30,699.31 348.50,697.48 348.70,695.29 348.90,692.77 349.10,690.01 349.30,687.08 349.50,684.04 349.70,680.99 349.90,678.01 350.10,675.18 350.30,672.57 350.50,670.26 350.70,668.30 350.90,666.76 351.10,665.68 351.30,665.09 351.50,665.00 351.70,665.42 351.90,666.34 352.10,667.75 352.30,669.60 352.50,671.84 352.70,674.42 352.90,677.27 353.10,680.32 353.30,683.48 353.50,686.66 353.70,689.79 353.90,692.78 354.10,695.54 354.30,698.00 354.50,700.10 354.70,701.78 354.90,702.98 355.10,703.66 355.30,703.79 355.50,703.38 355.70,702.46 355.90,701.04 356.10,699.17 356.30,696.88 356.50,694.25 356.70,691.34 356.90,688.24 357.10,685.02 357.30,681.77 357.50,678.59 357.70,675.54 357.90,672.72 358.10,670.21 358.30,668.07 358.50,666.35 358.70,665.10 358.90,664.37 359.10,664.16 359.30,664.48 359.50,665.33 359.70,666.68 359.90,668.49 360.10,670.72 360.30,673.31 360.50,676.19 360.70,679.28 360.90,682.49 361.10,685.74 361.30,688.95 361.50,692.03 361.70,694.89 361.90,697.46 362.10,699.67 362.30,701.46 362.50,702.78 362.70,703.60 362.90,703.89 363.10,703.64 363.30,702.87 363.50,701.59 363.70,699.84 363.90,697.66 364.10,695.12 364.30,692.28 364.50,689.21 364.70,686.00 364.90,682.74 365.10,679.51 365.30,676.40 365.50,673.50 365.70,670.87 365.90,668.60 366.10,666.74 366.30,665.35 366.50,664.45 366.70,664.08 366.90,664.24 367.10,664.94 367.30,666.15 367.50,667.83 367.70,669.95 367.90,672.45 368.10,675.26 368.30,678.31 368.50,681.51 368.70,684.77 368.90,688.02 369.10,691.16 369.30,694.11 369.50,696.78 369.70,699.12 369.90,701.04 370.10,702.52 370.30,703.49 370.50,703.94 370.70,703.86 370.90,703.24 371.10,702.11 371.30,700.48 371.50,698.42 371.70,695.97 371.90,693.20 372.10,690.17 372.30,686.99 372.50,683.72 372.70,680.46 372.90,677.29 373.10,674.30 373.30,671.57 373.50,669.18 373.70,667.18 373.90,665.63 374.10,664.58 374.30,664.05 374.50,664.05 374.70,664.59 374.90,665.65 375.10,667.21 375.30,669.21 375.50,671.61 375.70,674.35 375.90,677.35 376.10,680.52 376.30,683.79 376.50,687.07 376.70,690.26 376.90,693.29 377.10,696.06 377.30,698.52 377.50,700.58 377.70,702.20 377.90,703.33 378.10,703.95 378.30,704.02 378.50,703.56 378.70,702.58 378.90,701.09 379.10,699.15 379.30,696.80 379.50,694.10 379.70,691.13 379.90,687.97 380.10,684.70 380.30,681.42 380.50,678.20 380.70,675.14 380.90,672.31 381.10,669.80 381.30,667.67 381.50,665.97 381.70,664.76 381.90,664.07 382.10,663.91 382.30,664.29 382.50,665.20 382.70,666.62 382.90,668.50 383.10,670.80 383.30,673.45 383.50,676.39 383.70,679.54 383.90,682.80 384.10,686.10 384.30,689.34 384.50,692.44 384.70,695.31 384.90,697.88 385.10,700.08 385.30,701.84 385.50,703.13 385.70,703.90 385.90,704.14 386.10,703.84 386.30,703.01 386.50,701.66 386.70,699.84 386.90,697.60 387.10,694.99 387.30,692.08 387.50,688.96 387.70,685.70 387.90,682.39 388.10,679.13 388.30,676.00 388.50,673.08 388.70,670.46 388.90,668.20 389.10,666.36 389.30,664.99 389.50,664.14 389.70,663.82 389.90,664.04 390.10,664.79 390.30,666.07 390.50,667.82 390.70,670.01 390.90,672.58 391.10,675.45 391.30,678.55 391.50,681.80 391.70,685.11 391.90,688.39 392.10,691.56 392.30,694.52 392.50,697.20 392.70,699.52 392.90,701.43 393.10,702.87 393.30,703.81 393.50,704.21 393.70,704.07 393.90,703.39 394.10,702.19 394.30,700.51 394.50,698.37 394.70,695.85 394.90,693.02 395.10,689.94 395.30,686.70 395.50,683.38 395.70,680.08 395.90,676.89 396.10,673.89 396.30,671.16 396.50,668.77 396.70,666.79 396.90,665.27 397.10,664.26 397.30,663.77 397.50,663.83 397.70,664.43 397.90,665.56 398.10,667.18 398.30,669.25 398.50,671.72 398.70,674.52 398.90,677.58 399.10,680.80 399.30,684.12 399.50,687.43 399.70,690.65 399.90,693.70 400.10,696.48 400.30,698.93 400.50,700.97 400.70,702.56 400.90,703.66 401.10,704.22 401.30,704.24 401.50,703.72 401.70,702.67 401.90,701.11 402.10,699.10 402.30,696.68 402.50,693.92 402.70,690.90 402.90,687.69 403.10,684.38 403.30,681.06 403.50,677.82 403.70,674.74 403.90,671.92 404.10,669.42 404.30,667.31 404.50,665.64 404.70,664.47 404.90,663.83 405.10,663.73 405.30,664.17 405.50,665.14 405.70,666.62 405.90,668.57 406.10,670.93 406.30,673.64 406.50,676.63 406.70,679.82 406.90,683.12 407.10,686.45 407.30,689.70 407.50,692.81 407.70,695.68 407.90,698.23 408.10,700.41 408.30,702.14 408.50,703.38 408.70,704.11 408.90,704.29 409.10,703.93 409.30,703.04 409.50,701.63 409.70,699.75 409.90,697.45 410.10,694.78 410.30,691.83 410.50,688.67 410.70,685.38 410.90,682.05 411.10,678.78 411.30,675.64 411.50,672.73 411.70,670.13 411.90,667.89 412.10,666.09 412.30,664.77 412.50,663.97 412.70,663.70 412.90,663.98 413.10,664.79 413.30,666.13 413.50,667.94 413.70,670.18 413.90,672.80 414.10,675.71 414.30,678.85 414.50,682.12 414.70,685.45 414.90,688.74 415.10,691.90 415.30,694.85 415.50,697.50 415.70,699.80 415.90,701.67 416.10,703.06 416.30,703.95 416.50,704.29 416.70,704.10 416.90,703.36 417.10,702.10 417.30,700.36 417.50,698.18 417.70,695.62 417.90,692.74 418.10,689.63 418.30,686.37 418.50,683.05 418.70,679.75 418.90,676.56 419.10,673.58 419.30,670.87 419.50,668.52 419.70,666.58 419.90,665.11 420.10,664.15 420.30,663.72 420.50,663.84 420.70,664.49 420.90,665.67 421.10,667.35 421.30,669.47 421.50,671.98 421.70,674.81 421.90,677.89 422.10,681.13 422.30,684.45 422.50,687.76 422.70,690.97 422.90,693.99 423.10,696.74 423.30,699.15 423.50,701.15 423.70,702.70 423.90,703.74 424.10,704.25 424.30,704.21 424.50,703.64 424.70,702.53 424.90,700.93 425.10,698.88 425.30,696.42 425.50,693.63 425.70,690.59 425.90,687.36 426.10,684.05 426.30,680.73 426.50,677.50 426.70,674.45 426.90,671.65 427.10,669.19 427.30,667.12 427.50,665.50 427.70,664.39 427.90,663.79 428.10,663.75 428.30,664.24 428.50,665.27 428.70,666.80 428.90,668.79 429.10,671.19 429.30,673.93 429.50,676.94 429.70,680.15 429.90,683.45 430.10,686.78 430.30,690.02 430.50,693.11 430.70,695.95 430.90,698.47 431.10,700.60 431.30,702.29 431.50,703.48 431.70,704.15 431.90,704.28 432.10,703.87 432.30,702.92 432.50,701.46 432.70,699.54 432.90,697.20 433.10,694.50 433.30,691.52 433.50,688.34 433.70,685.05 433.90,681.72 434.10,678.46 434.30,675.34 434.50,672.46 434.70,669.89 434.90,667.69 435.10,665.94 435.30,664.67 435.50,663.92 435.70,663.70 435.90,664.04 436.10,664.91 436.30,666.29 436.50,668.14 436.70,670.43 436.90,673.08 437.10,676.02 437.30,679.17 437.50,682.46 437.70,685.78 437.90,689.06 438.10,692.20 438.30,695.13 438.50,697.75 438.70,700.00 438.90,701.83 439.10,703.17 439.30,704.01 439.50,704.30 439.70,704.05 439.90,703.26 440.10,701.95 440.30,700.16 440.50,697.94 440.70,695.34 440.90,692.44 441.10,689.31 441.30,686.04 441.50,682.72 441.70,679.42 441.90,676.26 442.10,673.29 442.30,670.62 442.50,668.31 442.70,666.42 442.90,664.99 443.10,664.08 443.30,663.71 443.50,663.88 443.70,664.59 443.90,665.82 444.10,667.54 444.30,669.70 444.50,672.25 444.70,675.11 444.90,678.21 445.10,681.46 445.30,684.79 445.50,688.09 445.70,691.28 445.90,694.28 446.10,697.00 446.30,699.37 446.50,701.33 446.70,702.82 446.90,703.81 447.10,704.27 447.30,704.18 447.50,703.55 447.70,702.40 447.90,700.75 448.10,698.65 448.30,696.16 448.50,693.34 448.70,690.27 448.90,687.03 449.10,683.71 449.30,680.40 449.50,677.19 449.70,674.16 449.90,671.39 450.10,668.96 450.30,666.94 450.50,665.37 450.70,664.30 450.90,663.77 451.10,663.77 451.30,664.32 451.50,665.40 451.70,666.98 451.90,669.01 452.10,671.45 452.30,674.22 452.50,677.26 452.70,680.47 452.90,683.79 453.10,687.11 453.30,690.34 453.50,693.40 453.70,696.22 453.90,698.70 454.10,700.79 454.30,702.43 454.50,703.57 454.70,704.19 454.90,704.26 455.10,703.80 455.30,702.80 455.50,701.29 455.70,699.32 455.90,696.94 456.10,694.21 456.30,691.21 456.50,688.02 456.70,684.71 456.90,681.39 457.10,678.14 457.30,675.04 457.50,672.19 457.70,669.65 457.90,667.50 458.10,665.79 458.30,664.57 458.50,663.87 458.70,663.71 458.90,664.10 459.10,665.02 459.30,666.45 459.50,668.35 459.70,670.68 459.90,673.36 460.10,676.32 460.30,679.50 460.50,682.79 460.70,686.11 460.90,689.38 461.10,692.51 461.30,695.40 461.50,697.99 461.70,700.21 461.90,701.99 462.10,703.28 462.30,704.06 462.50,704.30 462.70,703.99 462.90,703.15 463.10,701.79 463.30,699.96 463.50,697.70 463.70,695.06 463.90,692.14 464.10,688.99 464.30,685.71 464.50,682.38 464.70,679.10 464.90,675.95 465.10,673.01 465.30,670.37 465.50,668.10 465.70,666.25 465.90,664.88 466.10,664.02 466.30,663.70 466.50,663.93 466.70,664.69 466.90,665.97 467.10,667.74 467.30,669.94 467.50,672.52 467.70,675.41 467.90,678.53 468.10,681.79 468.30,685.12 468.50,688.41 468.70,691.59 468.90,694.56 469.10,697.25 469.30,699.59 469.50,701.50 469.70,702.95 469.90,703.88 470.10,704.28 470.30,704.14 470.50,703.46 470.70,702.25 470.90,700.56 471.10,698.42 471.30,695.89 471.50,693.04 471.70,689.95 471.90,686.70 472.10,683.38 472.30,680.07 472.50,676.87 472.70,673.87 472.90,671.13 473.10,668.74 473.30,666.76 473.50,665.24 473.70,664.22 473.90,663.74 474.10,663.80 474.30,664.40 474.50,665.53 474.70,667.16 474.90,669.24 475.10,671.71 475.30,674.51 475.50,677.57 475.70,680.80 475.90,684.12 476.10,687.43 476.30,690.66 476.50,693.70 476.70,696.48 476.90,698.93 477.10,700.97 477.30,702.56 477.50,703.66 477.70,704.22 477.90,704.24 478.10,703.72 478.30,702.67 478.50,701.11 478.70,699.10 478.90,696.68 479.10,693.92 479.30,690.90 479.50,687.69 479.70,684.38 479.90,681.06 480.10,677.82 480.30,674.74 480.50,671.92 480.70,669.42 480.90,667.31 481.10,665.64 481.30,664.47 481.50,663.83 481.70,663.73 481.90,664.17 482.10,665.14 482.30,666.62 482.50,668.57 482.70,670.93 482.90,673.64 483.10,676.63 483.30,679.82 483.50,683.12 483.70,686.45 483.90,689.70 484.10,692.81 484.30,695.68 484.50,698.23 484.70,700.41 484.90,702.14 485.10,703.38 485.30,704.11 485.50,704.29 485.70,703.93 485.90,703.04 486.10,701.63 486.30,699.75 486.50,697.45 486.70,694.78 486.90,691.83 487.10,688.67 487.30,685.38 487.50,682.05 487.70,678.78 487.90,675.64 488.10,672.73 488.30,670.13 488.50,667.89 488.70,666.09 488.90,664.77 489.10,663.97 489.30,663.70 489.50,663.98 489.70,664.79 489.90,666.13 490.10,667.94 490.30,670.18 490.50,672.80 490.70,675.71 490.90,678.85 491.10,682.12 491.30,685.45 491.50,688.74 491.70,691.90 491.90,694.85 492.10,697.50 492.30,699.80 492.50,701.67 492.70,703.06 492.90,703.95 493.10,704.29 493.30,704.10 493.50,703.36 493.70,702.10 493.90,700.36 494.10,698.18 494.30,695.62 494.50,692.74 494.70,689.63 494.90,686.37 495.10,683.05 495.30,679.75 495.50,676.56 495.70,673.58 495.90,670.87 496.10,668.52 496.30,666.58 496.50,665.11 496.70,664.15 496.90,663.72 497.10,663.84 497.30,664.49 497.50,665.67 497.70,667.35 497.90,669.47 498.10,671.98 498.30,674.81 498.50,677.89 498.70,681.13 498.90,684.45 499.10,687.76 499.30,690.97 499.50,693.99 499.70,696.74 499.90,699.15 500.10,701.15 500.30,702.70 500.50,703.74 500.70,704.25 500.90,704.21 501.10,703.64 501.30,702.53 501.50,700.93 501.70,698.88 501.90,696.42 502.10,693.63 502.30,690.59 502.50,687.36 502.70,684.05 502.90,680.73 503.10,677.50 503.30,674.45 503.50,671.65 503.70,669.19 503.90,667.12 504.10,665.50 504.30,664.39 504.50,663.79 504.70,663.75 504.90,664.24 505.10,665.27 505.30,666.80 505.50,668.79 505.70,671.19 505.90,673.93 506.10,676.94 506.30,680.15 506.50,683.45 506.70,686.78 506.90,690.02 507.10,693.11 507.30,695.95 507.50,698.47 507.70,700.60 507.90,702.29 508.10,703.48 508.30,704.15 508.50,704.28 508.70,703.87 508.90,702.92 509.10,701.46 509.30,699.54 509.50,697.20 509.70,694.50 509.90,691.52 510.10,688.34 510.30,685.05 510.50,681.72 510.70,678.46 510.90,675.34 511.10,672.46 511.30,669.89 511.50,667.69 511.70,665.94 511.90,664.67 512.10,663.92 512.30,663.70 512.50,664.04 512.70,664.91 512.90,666.29 513.10,668.14 513.30,670.43 513.50,673.08 513.70,676.02 513.90,679.17 514.10,682.46 514.30,685.78 514.50,689.06 514.70,692.20 514.90,695.13 515.10,697.75 515.30,700.00 515.50,701.83 515.70,703.17 515.90,704.01 516.10,704.30 516.30,704.05 516.50,703.26 516.70,701.95 516.90,700.16 517.10,697.94 517.30,695.34 517.50,692.44 517.70,689.31 517.90,686.04 518.10,682.72 518.30,679.42 518.50,676.26 518.70,673.29 518.90,670.62 519.10,668.31 519.30,666.42 519.50,664.99 519.70,664.08 519.90,663.71 520.10,663.88 520.30,664.59 520.50,665.82 520.70,667.54 520.90,669.70 521.10,672.25 521.30,675.11 521.50,678.21 521.70,681.46 521.90,684.79 522.10,688.09 522.30,691.28 522.50,694.28 522.70,697.00 522.90,699.37 523.10,701.33 523.30,702.82 523.50,703.81 523.70,704.27 523.90,704.18 524.10,703.55 524.30,702.40 524.50,700.75 524.70,698.65 524.90,696.16 525.10,693.34 525.30,690.27 525.50,687.03 525.70,683.71 525.90,680.40 526.10,677.19 526.30,674.16 526.50,671.39 526.70,668.96 526.90,666.94 527.10,665.37 527.30,664.30 527.50,663.77 527.70,663.77 527.90,664.32 528.10,665.40 528.30,666.98 528.50,669.01 528.70,671.45 528.90,674.22 529.10,677.26 529.30,680.47 529.50,683.79 529.70,687.11 529.90,690.34 530.10,693.40 530.30,696.22 530.50,698.70 530.70,700.79 530.90,702.43 531.10,703.57 531.30,704.19 531.50,704.26 531.70,703.80 531.90,702.80 532.10,701.29 532.30,699.32 532.50,696.94 532.70,694.21 532.90,691.21 533.10,688.02 533.30,684.71 533.50,681.39 533.70,678.14 533.90,675.04 534.10,672.19 534.30,669.65 534.50,667.50 534.70,665.79 534.90,664.57 535.10,663.87 535.30,663.71 535.50,664.10 535.70,665.02 535.90,666.45 536.10,668.35 536.30,670.68 536.50,673.36 536.70,676.32 536.90,679.50 537.10,682.79 537.30,686.11 537.50,689.38 537.70,692.51 537.90,695.40 538.10,697.99 538.30,700.21 538.50,701.99 538.70,703.28 538.90,704.06 539.10,704.30 539.30,703.99 539.50,703.15 539.70,701.79 539.90,699.96 540.10,697.70 540.30,695.06 540.50,692.14 540.70,688.99 540.90,685.71 541.10,682.38 541.30,679.10 541.50,675.95 541.70,673.01 541.90,670.37 542.10,668.10 542.30,666.25 542.50,664.88 542.70,664.02 542.90,663.70 543.10,663.93 543.30,664.69 543.50,665.97 543.70,667.74 543.90,669.94 544.10,672.52 544.30,675.41 544.50,678.53 544.70,681.79 544.90,685.12 545.10,688.41 545.30,691.59 545.50,694.56 545.70,697.25 545.90,699.59 546.10,701.50 546.30,702.95 546.50,703.88 546.70,704.28 546.90,704.14 547.10,703.46 547.30,702.25 547.50,700.56 547.70,698.42 547.90,695.89 548.10,693.04 548.30,689.95 548.50,686.70 548.70,683.38 548.90,680.07 549.10,676.87 549.30,673.87 549.50,671.13 549.70,668.74 549.90,666.76 550.10,665.24 550.30,664.22 550.50,663.74 550.70,663.80 550.90,664.40 551.10,665.53 551.30,667.16 551.50,669.24 551.70,671.71 551.90,674.51 552.10,677.57 552.30,680.80 552.50,684.12 552.70,687.43 552.90,690.66 553.10,693.70 553.30,696.48 553.50,698.93 553.70,700.97 553.90,702.56 554.10,703.66 554.30,704.22 554.50,704.24 554.70,703.72 554.90,702.67 555.10,701.11 555.30,699.10 555.50,696.68 555.70,693.92 555.90,690.90 556.10,687.69 556.30,684.38 556.50,681.06 556.70,677.82 556.90,674.74 557.10,671.92 557.30,669.42 557.50,667.31 557.70,665.64 557.90,664.47 558.10,663.83 558.30,663.73 558.50,664.17 558.70,665.14 558.90,666.62 559.10,668.57 559.30,670.93 559.50,673.64 559.70,676.63 559.90,679.82 560.10,683.12 560.30,686.45 560.50,689.70 560.70,692.81 560.90,695.68 561.10,698.23 561.30,700.41 561.50,702.14 561.70,703.38 561.90,704.11 562.10,704.29 562.30,703.93 562.50,703.04 562.70,701.63 562.90,699.75 563.10,697.45 563.30,694.78 563.50,691.83 563.70,688.67 563.90,685.38 564.10,682.05 564.30,678.78 564.50,675.64 564.70,672.73 564.90,670.13 565.10,667.89 565.30,666.09 565.50,664.77 565.70,663.97 565.90,663.70 566.10,663.98 566.30,664.79 566.50,666.13 566.70,667.94 566.90,670.18 567.10,672.80 567.30,675.71 567.50,678.85 567.70,682.12 567.90,685.45 568.10,688.74 568.30,691.90 568.50,694.85 568.70,697.50 568.90,699.80 569.10,701.67 569.30,703.06 569.50,703.95 569.70,704.29 569.90,704.10 570.10,703.36 570.30,702.10 570.50,700.36 570.70,698.18 570.90,695.62 571.10,692.74 571.30,689.63 571.50,686.37 571.70,683.05 571.90,679.75 572.10,676.56 572.30,673.58 572.50,670.87 572.70,668.52 572.90,666.58 573.10,665.11 573.30,664.15 573.50,663.72 573.70,663.84 573.90,664.49 574.10,665.67 574.30,667.35 574.50,669.47 574.70,671.98 574.90,674.81 575.10,677.89 575.30,681.13 575.50,684.45 575.70,687.76 575.90,690.97 576.10,693.99 576.30,696.74 576.50,699.15 576.70,701.15 576.90,702.70 577.10,703.74 577.30,704.25 577.50,704.21 577.70,703.64 577.90,702.53 578.10,700.93 578.30,698.88 578.50,696.42 578.70,693.63 578.90,690.59 579.10,687.36 579.30,684.05 579.50,680.73 579.70,677.50 579.90,674.45 580.10,671.65 580.30,669.19 580.50,667.12 580.70,665.50 580.90,664.39 581.10,663.79 581.30,663.75 581.50,664.24 581.70,665.27 581.90,666.80 582.10,668.79 582.30,671.19 582.50,673.93 582.70,676.94 582.90,680.15 583.10,683.45 583.30,686.78 583.50,690.02 583.70,693.11 583.90,695.95 584.10,698.47 584.30,700.60 584.50,702.29 584.70,703.48 584.90,704.15 585.10,704.28 585.30,703.87 585.50,702.92 585.70,701.46 585.90,699.54 586.10,697.20 586.30,694.50 586.50,691.52 586.70,688.34 586.90,685.05 587.10,681.72 587.30,678.46 587.50,675.34 587.70,672.46 587.90,669.89 588.10,667.69 588.30,665.94 588.50,664.67 588.70,663.92 588.90,663.70 589.10,664.04 589.30,664.91 589.50,666.29 589.70,668.14 589.90,670.43 590.10,673.08 590.30,676.02 590.50,679.17 590.70,682.46 590.90,685.78 591.10,689.06 591.30,692.20 591.50,695.13 591.70,697.75 591.90,700.00 592.10,701.83 592.30,703.17 592.50,704.01 592.70,704.30 592.90,704.05 593.10,703.26 593.30,701.95 593.50,700.16 593.70,697.94 593.90,695.34 594.10,692.44 594.30,689.31 594.50,686.04 594.70,682.72 594.90,679.42 595.10,676.26 595.30,673.29 595.50,670.62 595.70,668.31 595.90,666.42 596.10,664.99 596.30,664.08 596.50,663.71 596.70,663.88 596.90,664.59 597.10,665.82 597.30,667.54 597.50,669.70 597.70,672.25 597.90,675.11 598.10,678.21 598.30,681.46 598.50,684.79 598.70,688.09 598.90,691.28 599.10,694.28 599.30,697.00 599.50,699.37 599.70,701.33 599.90,702.82 600.10,703.81 600.30,704.27 600.50,704.18 600.70,703.55 600.90,702.40 601.10,700.75 601.30,698.65 601.50,696.16 601.70,693.34 601.90,690.27 602.10,687.03 602.30,683.71 602.50,680.40 602.70,677.19 602.90,674.16 603.10,671.39 603.30,668.96 603.50,666.94 603.70,665.37 603.90,664.30 604.10,663.77 604.30,663.77 604.50,664.32 604.70,665.40 604.90,666.98 605.10,669.01 605.30,671.45 605.50,674.22 605.70,677.26 605.90,680.47 606.10,683.79 606.30,687.11 606.50,690.34 606.70,693.40 606.90,696.22 607.10,698.70 607.30,700.79 607.50,702.43 607.70,703.57 607.90,704.19 608.10,704.26 608.30,703.80 608.50,702.80 608.70,701.29 608.90,699.32 609.10,696.94 609.30,694.21 609.50,691.21 609.70,688.02 609.90,684.71 610.10,681.39 610.30,678.14 610.50,675.04 610.70,672.19 610.90,669.65 611.10,667.50 611.30,665.79 611.50,664.57 611.70,663.87 611.90,663.71 612.10,664.10 612.30,665.02 612.50,666.45 612.70,668.35 612.90,670.68 613.10,673.36 613.30,676.32 613.50,679.50 613.70,682.79 613.90,686.11 614.10,689.38 614.30,692.51 614.50,695.40 614.70,697.99 614.90,700.21 615.10,701.99 615.30,703.28 615.50,704.06 615.70,704.30 615.90,703.99 616.10,703.15 616.30,701.79 616.50,699.96 616.70,697.70 616.90,695.06 617.10,692.14 617.30,688.99 617.50,685.71 617.70,682.38 617.90,679.10 618.10,675.95 618.30,673.01 618.50,670.37 618.70,668.10 618.90,666.25 619.10,664.88 619.30,664.02 619.50,663.70 619.70,663.93 619.90,664.69 620.10,665.97 620.30,667.74 620.50,669.94 620.70,672.52 620.90,675.41 621.10,678.53 621.30,681.79 621.50,685.12 621.70,688.41 621.90,691.59 622.10,694.56 622.30,697.25 622.50,699.59 622.70,701.50 622.90,702.95 623.10,703.88 623.30,704.28 623.50,704.14 623.70,703.46 623.90,702.25 624.10,700.56 624.30,698.42 624.50,695.89 624.70,693.04 624.90,689.95 625.10,686.70 625.30,683.38 625.50,680.07 625.70,676.87 625.90,673.87 626.10,671.13 626.30,668.74 626.50,666.76 626.70,665.24 626.90,664.22 627.10,663.74 627.30,663.80 627.50,664.40 627.70,665.53 627.90,667.16 628.10,669.24 628.30,671.71 628.50,674.51 628.70,677.57 628.90,680.80 629.10,684.12 629.30,687.43 629.50,690.66 629.70,693.70 629.90,696.48 630.10,698.93 630.30,700.97 630.50,702.56 630.70,703.66 630.90,704.22 631.10,704.24 631.30,703.72 631.50,702.67 631.70,701.11 631.90,699.10 632.10,696.68 632.30,693.92 632.50,690.90 632.70,687.69 632.90,684.38 633.10,681.06 633.30,677.82 633.50,674.74 633.70,671.92 633.90,669.42 634.10,667.31 634.30,665.64 634.50,664.47 634.70,663.83 634.90,663.73 635.10,664.17 635.30,665.14 635.50,666.62 635.70,668.57 635.90,670.93 636.10,673.64 636.30,676.63 636.50,679.82 636.70,683.12 636.90,686.45 637.10,689.70 637.30,692.81 637.50,695.68 637.70,698.23 637.90,700.41 638.10,702.14 638.30,703.38 638.50,704.11 638.70,704.29 638.90,703.93 639.10,703.04 639.30,701.63 639.50,699.75 639.70,697.45 639.90,694.78 640.10,691.83 640.30,688.67 640.50,685.38 640.70,682.05 640.90,678.78 641.10,675.64 641.30,672.73 641.50,670.13 641.70,667.89 641.90,666.09 642.10,664.77 642.30,663.97 642.50,663.70 642.70,663.98 642.90,664.79 643.10,666.13 643.30,667.94 643.50,670.18 643.70,672.80 643.90,675.71 644.10,678.85 644.30,682.12 644.50,685.45 644.70,688.74 644.90,691.90 645.10,694.85 645.30,697.50 645.50,699.80 645.70,701.67 645.90,703.06 646.10,703.95 646.30,704.29 646.50,704.10 646.70,703.36 646.90,702.10 647.10,700.36 647.30,698.18 647.50,695.62 647.70,692.74 647.90,689.63 648.10,686.37 648.30,683.05 648.50,679.75 648.70,676.56 648.90,673.58 649.10,670.87 649.30,668.52 649.50,666.58 649.70,665.11 649.90,664.15 650.10,663.72 650.30,663.84 650.50,664.49 650.70,665.67 650.90,667.35 651.10,669.47 651.30,671.98 651.50,674.81 651.70,677.89 651.90,681.13 652.10,684.45 652.30,687.76 652.50,690.97 652.70,693.99 652.90,696.74 653.10,699.15 653.30,701.15 653.50,702.70 653.70,703.74 653.90,704.25 654.10,704.21 654.30,703.64 654.50,702.53 654.70,700.93 654.90,698.88 655.10,696.42 655.30,693.63 655.50,690.59 655.70,687.36 655.90,684.05 656.10,680.73 656.30,677.50 656.50,674.45 656.70,671.65 656.90,669.19" fill="none" stroke="#ff0000" stroke-width="2.4" stroke-linejoin="round" stroke-linecap="round"/>
<polyline points="82.50,737.75 82.70,733.56 82.90,728.04 83.10,721.33 83.30,713.63 83.50,705.12 83.70,696.05 83.90,686.66 84.10,677.19 84.30,667.91 84.50,659.06 84.70,650.88 84.90,643.59 85.10,637.38 85.30,632.43 85.50,628.86 85.70,626.77 85.90,626.22 86.10,627.22 86.30,629.74 86.50,633.72 86.70,639.05 86.90,645.59 87.10,653.16 87.30,661.56 87.50,670.56 87.70,679.92 87.90,689.39 88.10,698.72 88.30,707.65 88.50,715.94 88.70,723.38 88.90,729.76 89.10,734.91 89.30,738.70 89.50,741.02 89.70,741.80 89.90,741.03 90.10,738.73 90.30,734.97 90.50,729.83 90.70,723.46 90.90,716.03 91.10,707.75 91.30,698.82 91.50,689.50 91.70,680.03 91.90,670.66 92.10,661.66 92.30,653.25 92.50,645.67 92.70,639.12 92.90,633.77 93.10,629.78 93.30,627.24 93.50,626.22 93.70,626.75 93.90,628.83 94.10,632.38 94.30,637.32 94.50,643.51 94.70,650.79 94.90,658.97 95.10,667.81 95.30,677.09 95.50,686.55 95.70,695.95 95.90,705.03 96.10,713.54 96.30,721.25 96.50,727.97 96.70,733.51 96.90,737.71 97.10,740.48 97.30,741.73 97.50,741.43 97.70,739.58 97.90,736.24 98.10,731.51 98.30,725.49 98.50,718.36 98.70,710.31 98.90,701.55 99.10,692.32 99.30,682.87 99.50,673.45 99.70,664.31 99.90,655.70 100.10,647.85 100.30,640.97 100.50,635.24 100.70,630.83 100.90,627.84 101.10,626.36 101.30,626.43 101.50,628.05 101.70,631.16 101.90,635.70 102.10,641.53 102.30,648.51 102.50,656.43 102.70,665.10 102.90,674.27 103.10,683.71 103.30,693.15 103.50,702.35 103.70,711.06 103.90,719.03 104.10,726.07 104.30,731.98 104.50,736.60 104.70,739.81 104.90,741.51 105.10,741.68 105.30,740.29 105.50,737.40 105.70,733.07 105.90,727.42 106.10,720.61 106.30,712.81 106.50,704.24 106.70,695.12 106.90,685.71 107.10,676.25 107.30,667.00 107.50,658.21 107.70,650.11 107.90,642.92 108.10,636.83 108.30,632.01 108.50,628.58 108.70,626.64 108.90,626.25 109.10,627.40 109.30,630.07 109.50,634.20 109.70,639.65 109.90,646.30 110.10,653.97 110.30,662.44 110.50,671.48 110.70,680.87 110.90,690.33 111.10,699.63 111.30,708.51 111.50,716.73 111.70,724.07 111.90,730.34 112.10,735.36 112.30,739.00 112.50,741.16 112.70,741.79 112.90,740.87 113.10,738.42 113.30,734.51 113.50,729.24 113.70,722.76 113.90,715.24 114.10,706.88 114.30,697.90 114.50,688.55 114.70,679.08 114.90,669.74 115.10,660.78 115.30,652.45 115.50,644.97 115.70,638.53 115.90,633.31 116.10,629.46 116.30,627.06 116.50,626.20 116.70,626.89 116.90,629.12 117.10,632.81 117.30,637.88 117.50,644.19 117.70,651.57 117.90,659.82 118.10,668.72 118.30,678.03 118.50,687.50 118.70,696.88 118.90,705.91 119.10,714.35 119.30,721.97 119.50,728.58 119.70,733.99 119.90,738.06 120.10,740.67 120.30,741.77 120.50,741.31 120.70,739.31 120.90,735.83 121.10,730.96 121.30,724.82 121.50,717.59 121.70,709.46 121.90,700.64 122.10,691.38 122.30,681.92 122.50,672.51 122.70,663.42 122.90,654.87 123.10,647.11 123.30,640.34 123.50,634.74 123.70,630.46 123.90,627.62 124.10,626.30 124.30,626.52 124.50,628.29 124.70,631.55 124.90,636.23 125.10,642.18 125.30,649.26 125.50,657.27 125.70,666.00 125.90,675.21 126.10,684.66 126.30,694.09 126.50,703.25 126.70,711.89 126.90,719.78 127.10,726.72 127.30,732.50 127.50,736.99 127.70,740.05 127.90,741.60 128.10,741.61 128.30,740.07 128.50,737.03 128.70,732.56 128.90,726.79 129.10,719.87 129.30,711.98 129.50,703.35 129.70,694.19 129.90,684.76 130.10,675.32 130.30,666.10 130.50,657.36 130.70,649.34 130.90,642.25 131.10,636.29 131.30,631.60 131.50,628.32 131.70,626.53 131.90,626.29 132.10,627.60 132.30,630.42 132.50,634.68 132.70,640.27 132.90,647.03 133.10,654.78 133.30,663.32 133.50,672.41 133.70,681.81 133.90,691.28 134.10,700.54 134.30,709.37 134.50,717.51 134.70,724.75 134.90,730.90 135.10,735.79 135.30,739.28 135.50,741.30 135.70,741.77 135.90,740.69 136.10,738.09 136.30,734.04 136.50,728.65 136.70,722.05 136.90,714.44 137.10,706.00 137.30,696.98 137.50,687.61 137.70,678.14 137.90,668.82 138.10,659.92 138.30,651.66 138.50,644.27 138.70,637.95 138.90,632.86 139.10,629.15 139.30,626.91 139.50,626.20 139.70,627.05 139.90,629.42 140.10,633.26 140.30,638.46 140.50,644.89 140.70,652.36 140.90,660.69 141.10,669.64 141.30,678.98 141.50,688.45 141.70,697.80 141.90,706.78 142.10,715.15 142.30,722.68 142.50,729.18 142.70,734.46 142.90,738.39 143.10,740.85 143.30,741.79 143.50,741.18 143.70,739.03 143.90,735.41 144.10,730.40 144.30,724.15 144.50,716.82 144.70,708.61 144.90,699.73 145.10,690.44 145.30,680.97 145.50,671.59 145.70,662.53 145.90,654.06 146.10,646.39 146.30,639.72 146.50,634.25 146.70,630.11 146.90,627.42 147.10,626.25 147.30,626.63 147.50,628.55 147.70,631.96 147.90,636.77 148.10,642.84 148.30,650.02 148.50,658.11 148.70,666.90 148.90,676.15 149.10,685.61 149.30,695.02 149.50,704.14 149.70,712.72 149.90,720.52 150.10,727.35 150.30,733.01 150.50,737.36 150.70,740.27 150.90,741.67 151.10,741.53 151.30,739.83 151.50,736.64 151.70,732.04 151.90,726.14 152.10,719.12 152.30,711.15 152.50,702.45 152.70,693.26 152.90,683.82 153.10,674.38 153.30,665.20 153.50,656.53 153.70,648.59 153.90,641.60 154.10,635.76 154.30,631.21 154.50,628.07 154.70,626.44 154.90,626.35 155.10,627.82 155.30,630.79 155.50,635.18 155.70,640.89 155.90,647.76 156.10,655.60 156.30,664.21 156.50,673.34 156.70,682.76 156.90,692.22 157.10,701.45 157.30,710.21 157.50,718.28 157.70,725.42 157.90,731.44 158.10,736.20 158.30,739.55 158.50,741.41 158.70,741.73 158.90,740.50 159.10,737.75 159.30,733.56 159.50,728.04 159.70,721.33 159.90,713.63 160.10,705.12 160.30,696.05 160.50,686.66 160.70,677.19 160.90,667.91 161.10,659.06 161.30,650.88 161.50,643.59 161.70,637.38 161.90,632.43 162.10,628.86 162.30,626.77 162.50,626.22 162.70,627.22 162.90,629.74 163.10,633.72 163.30,639.05 163.50,645.59 163.70,653.16 163.90,661.56 164.10,670.56 164.30,679.92 164.50,689.39 164.70,698.72 164.90,707.65 165.10,715.94 165.30,723.38 165.50,729.76 165.70,734.91 165.90,738.70 166.10,741.02 166.30,741.80 166.50,741.03 166.70,738.73 166.90,734.97 167.10,729.83 167.30,723.46 167.50,716.03 167.70,707.75 167.90,698.82 168.10,689.50 168.30,680.03 168.50,670.66 168.70,661.66 168.90,653.25 169.10,645.67 169.30,639.12 169.50,633.77 169.70,629.78 169.90,627.24 170.10,626.22 170.30,626.75 170.50,628.83 170.70,632.38 170.90,637.32 171.10,643.51 171.30,650.79 171.50,658.97 171.70,667.81 171.90,677.09 172.10,686.55 172.30,695.95 172.50,705.03 172.70,713.54 172.90,721.25 173.10,727.97 173.30,733.51 173.50,737.71 173.70,740.48 173.90,741.73 174.10,741.43 174.30,739.58 174.50,736.24 174.70,731.51 174.90,725.49 175.10,718.36 175.30,710.31 175.50,701.55 175.70,692.32 175.90,682.87 176.10,673.45 176.30,664.31 176.50,655.70 176.70,647.85 176.90,640.97 177.10,635.24 177.30,630.83 177.50,627.84 177.70,626.36 177.90,626.43 178.10,628.05 178.30,631.16 178.50,635.70 178.70,641.53 178.90,648.51 179.10,656.43 179.30,665.10 179.50,674.27 179.70,683.71 179.90,693.15 180.10,702.35 180.30,711.06 180.50,719.03 180.70,726.07 180.90,731.98 181.10,736.60 181.30,739.81 181.50,741.51 181.70,741.68 181.90,740.29 182.10,737.40 182.30,733.07 182.50,727.42 182.70,720.61 182.90,712.81 183.10,704.24 183.30,695.12 183.50,685.71 183.70,676.25 183.90,667.00 184.10,658.21 184.30,650.11 184.50,642.92 184.70,636.83 184.90,632.01 185.10,628.58 185.30,626.64 185.50,626.25 185.70,627.40 185.90,630.07 186.10,634.20 186.30,639.65 186.50,646.30 186.70,653.97 186.90,662.44 187.10,671.48 187.30,680.87 187.50,690.33 187.70,699.63 187.90,708.51 188.10,716.73 188.30,724.07 188.50,730.34 188.70,735.36 188.90,739.00 189.10,741.16 189.30,741.79 189.50,740.87 189.70,738.42 189.90,734.51 190.10,729.24 190.30,722.76 190.50,715.24 190.70,706.88 190.90,697.90 191.10,688.55 191.30,679.08 191.50,669.74 191.70,660.78 191.90,652.45 192.10,644.97 192.30,638.53 192.50,633.31 192.70,629.46 192.90,627.06 193.10,626.20 193.30,626.89 193.50,629.12 193.70,632.81 193.90,637.88 194.10,644.19 194.30,651.57 194.50,659.82 194.70,668.72 194.90,678.03 195.10,687.50 195.30,696.88 195.50,705.91 195.70,714.35 195.90,721.97 196.10,728.58 196.30,733.99 196.50,738.06 196.70,740.67 196.90,741.77 197.10,741.31 197.30,739.31 197.50,735.83 197.70,730.96 197.90,724.82 198.10,717.59 198.30,709.46 198.50,700.64 198.70,691.38 198.90,681.92 199.10,672.51 199.30,663.42 199.50,654.87 199.70,647.11 199.90,640.34 200.10,634.74 200.30,630.46 200.50,627.62 200.70,626.30 200.90,626.52 201.10,628.29 201.30,631.55 201.50,636.23 201.70,642.18 201.90,649.26 202.10,657.27 202.30,666.00 202.50,675.21 202.70,684.66 202.90,694.09 203.10,703.25 203.30,711.89 203.50,719.78 203.70,726.72 203.90,732.50 204.10,736.99 204.30,740.05 204.50,741.60 204.70,741.61 204.90,740.07 205.10,737.03 205.30,732.56 205.50,726.79 205.70,719.87 205.90,711.98 206.10,703.35 206.30,694.19 206.50,684.76 206.70,675.32 206.90,666.10 207.10,657.36 207.30,649.34 207.50,642.25 207.70,636.29 207.90,631.60 208.10,628.32 208.30,626.53 208.50,626.29 208.70,627.60 208.90,630.42 209.10,634.68 209.30,640.27 209.50,647.03 209.70,654.78 209.90,663.32 210.10,672.41 210.30,681.81 210.50,691.28 210.70,700.54 210.90,709.37 211.10,717.51 211.30,724.75 211.50,730.90 211.70,735.79 211.90,739.28 212.10,741.30 212.30,741.77 212.50,740.69 212.70,738.09 212.90,734.04 213.10,728.65 213.30,722.05 213.50,714.44 213.70,706.00 213.90,696.98 214.10,687.61 214.30,678.14 214.50,668.82 214.70,659.92 214.90,651.66 215.10,644.27 215.30,637.95 215.50,632.86 215.70,629.15 215.90,626.91 216.10,626.20 216.30,627.05 216.50,629.42 216.70,633.26 216.90,638.46 217.10,644.89 217.30,652.36 217.50,660.69 217.70,669.64 217.90,678.98 218.10,688.45 218.30,697.80 218.50,706.78 218.70,715.15 218.90,722.68 219.10,729.18 219.30,734.46 219.50,738.39 219.70,740.85 219.90,741.79 220.10,741.18 220.30,739.03 220.50,735.41 220.70,730.40 220.90,724.15 221.10,716.82 221.30,708.61 221.50,699.73 221.70,690.44 221.90,680.97 222.10,671.59 222.30,662.53 222.50,654.06 222.70,646.39 222.90,639.72 223.10,634.25 223.30,630.11 223.50,627.42 223.70,626.25 223.90,626.63 224.10,628.55 224.30,631.96 224.50,636.77 224.70,642.84 224.90,650.02 225.10,658.11 225.30,666.90 225.50,676.15 225.70,685.61 225.90,695.02 226.10,704.14 226.30,712.72 226.50,720.52 226.70,727.35 226.90,733.01 227.10,737.36 227.30,740.27 227.50,741.67 227.70,741.53 227.90,739.83 228.10,736.64 228.30,732.04 228.50,726.14 228.70,719.12 228.90,711.15 229.10,702.45 229.30,693.26 229.50,683.82 229.70,674.38 229.90,665.20 230.10,656.53 230.30,648.59 230.50,641.60 230.70,635.76 230.90,631.21 231.10,628.07 231.30,626.44 231.50,626.35 231.70,627.82 231.90,630.79 232.10,635.18 232.30,640.89 232.50,647.76 232.70,655.60 232.90,664.21 233.10,673.34 233.30,682.76 233.50,692.22 233.70,701.45 233.90,710.21 234.10,718.28 234.30,725.42 234.50,731.44 234.70,736.20 234.90,739.55 235.10,741.41 235.30,741.73 235.50,740.50 235.70,737.75 235.90,733.56 236.10,728.04 236.30,721.33 236.50,713.63 236.70,705.12 236.90,696.05 237.10,686.66 237.30,677.19 237.50,667.91 237.70,659.06 237.90,650.88 238.10,643.59 238.30,637.38 238.50,632.43 238.70,628.86 238.90,626.77 239.10,626.22 239.30,627.22 239.50,629.74 239.70,633.72 239.90,639.05 240.10,645.59 240.30,653.16 240.50,661.56 240.70,670.56 240.90,679.92 241.10,689.39 241.30,698.72 241.50,707.65 241.70,715.94 241.90,723.38 242.10,729.76 242.30,734.91 242.50,738.70 242.70,741.02 242.90,741.80 243.10,741.03 243.30,738.73 243.50,734.97 243.70,729.83 243.90,723.46 244.10,716.03 244.30,707.75 244.50,698.82 244.70,689.50 244.90,680.03 245.10,670.66 245.30,661.66 245.50,653.25 245.70,645.67 245.90,639.12 246.10,633.77 246.30,629.78 246.50,627.24 246.70,626.22 246.90,626.75 247.10,628.83 247.30,632.38 247.50,637.32 247.70,643.51 247.90,650.79 248.10,658.97 248.30,667.81 248.50,677.09 248.70,686.55 248.90,695.95 249.10,705.03 249.30,713.54 249.50,721.25 249.70,727.97 249.90,733.51 250.10,737.71 250.30,740.48 250.50,741.73 250.70,741.43 250.90,739.58 251.10,736.24 251.30,731.51 251.50,725.49 251.70,718.36 251.90,710.31 252.10,701.55 252.30,692.32 252.50,682.87 252.70,673.45 252.90,664.31 253.10,655.70 253.30,647.85 253.50,640.97 253.70,635.24 253.90,630.83 254.10,627.84 254.30,626.36 254.50,626.43 254.70,628.05 254.90,631.16 255.10,635.70 255.30,641.53 255.50,648.51 255.70,656.43 255.90,665.10 256.10,674.27 256.30,683.71 256.50,693.15 256.70,702.35 256.90,711.06 257.10,719.03 257.30,726.07 257.50,731.98 257.70,736.60 257.90,739.81 258.10,741.51 258.30,741.68 258.50,740.29 258.70,737.40 258.90,733.07 259.10,727.42 259.30,720.61 259.50,712.81 259.70,704.24 259.90,695.12 260.10,685.71 260.30,676.25 260.50,667.00 260.70,658.21 260.90,650.11 261.10,642.92 261.30,636.83 261.50,632.01 261.70,628.58 261.90,626.64 262.10,626.25 262.30,627.40 262.50,630.07 262.70,634.20 262.90,639.65 263.10,646.30 263.30,653.97 263.50,662.44 263.70,671.48 263.90,680.87 264.10,690.33 264.30,699.63 264.50,708.51 264.70,716.73 264.90,724.07 265.10,730.34 265.30,735.36 265.50,739.00 265.70,741.16 265.90,741.79 266.10,740.87 266.30,738.42 266.50,734.51 266.70,729.24 266.90,722.76 267.10,715.24 267.30,706.88 267.50,697.90 267.70,688.55 267.90,679.08 268.10,669.74 268.30,660.78 268.50,652.45 268.70,644.97 268.90,638.53 269.10,633.31 269.30,629.46 269.50,627.06 269.70,626.20 269.90,626.89 270.10,629.12 270.30,632.81 270.50,637.88 270.70,644.19 270.90,651.57 271.10,659.82 271.30,668.72 271.50,678.03 271.70,687.50 271.90,696.88 272.10,705.91 272.30,714.35 272.50,721.97 272.70,728.58 272.90,733.99 273.10,738.06 273.30,740.67 273.50,741.77 273.70,741.31 273.90,739.31 274.10,733.89 274.30,725.68 274.50,717.17 274.70,709.99 274.90,703.63 275.10,696.79 275.30,689.65 275.50,682.41 275.70,675.27 275.90,668.42 276.10,662.03 276.30,656.28 276.50,651.31 276.70,647.25 276.90,644.21 277.10,642.25 277.30,641.43 277.50,641.76 277.70,643.21 277.90,645.75 278.10,649.29 278.30,653.73 278.50,658.95 278.70,664.80 278.90,671.12 279.10,677.73 279.30,684.47 279.50,691.14 279.70,697.57 279.90,703.62 280.10,709.12 280.30,713.93 280.50,717.91 280.70,720.96 280.90,723.01 281.10,724.01 281.30,723.93 281.50,722.78 281.70,720.59 281.90,717.44 282.10,713.40 282.30,708.59 282.50,703.14 282.70,697.21 282.90,690.94 283.10,684.52 283.30,678.11 283.50,671.89 283.70,666.02 283.90,660.66 284.10,655.94 284.30,652.00 284.50,648.94 284.70,646.83 284.90,645.72 285.10,645.65 285.30,646.60 285.50,648.56 285.70,651.45 285.90,655.20 286.10,659.71 286.30,664.85 286.50,670.47 286.70,676.44 286.90,682.58 287.10,688.73 287.30,694.70 287.50,700.33 287.70,705.45 287.90,709.95 288.10,713.71 288.30,716.63 288.50,718.64 288.70,719.71 288.90,719.81 289.10,718.95 289.30,717.16 289.50,714.51 289.70,711.07 289.90,706.94 290.10,702.24 290.30,697.11 290.50,691.69 290.70,686.12 290.90,680.57 291.10,675.16 291.30,670.06 291.50,665.39 291.70,661.27 291.90,657.81 292.10,655.09 292.30,653.18 292.50,652.12 292.70,651.92 292.90,652.58 293.10,654.08 293.30,656.35 293.50,659.34 293.70,662.96 293.90,667.08 294.10,671.60 294.30,676.40 294.50,681.36 294.70,686.33 294.90,691.18 295.10,695.78 295.30,700.01 295.50,703.77 295.70,706.96 295.90,709.49 296.10,711.31 296.30,712.38 296.50,712.68 296.70,712.21 296.90,710.99 297.10,709.05 297.30,706.48 297.50,703.33 297.70,699.70 297.90,695.70 298.10,691.44 298.30,687.02 298.50,682.59 298.70,678.24 298.90,674.11 299.10,670.29 299.30,666.89 299.50,664.00 299.70,661.67 299.90,659.97 300.10,658.94 300.30,658.59 300.50,658.93 300.70,659.93 300.90,661.57 301.10,663.78 301.30,666.50 301.50,669.66 301.70,673.13 301.90,676.86 302.10,680.74 302.30,684.66 302.50,688.52 302.70,692.22 302.90,695.65 303.10,698.73 303.30,701.38 303.50,703.54 303.70,705.14 303.90,706.17 304.10,706.58 304.30,706.39 304.50,705.60 304.70,704.24 304.90,702.36 305.10,700.01 305.30,697.26 305.50,694.18 305.70,690.88 305.90,687.43 306.10,683.93 306.30,680.48 306.50,677.17 306.70,674.08 306.90,671.30 307.10,668.90 307.30,666.93 307.50,665.44 307.70,664.47 307.90,664.04 308.10,664.14 308.30,664.78 308.50,665.92 308.70,667.53 308.90,669.56 309.10,671.91 309.30,674.55 309.50,677.43 309.70,680.47 309.90,683.59 310.10,686.71 310.30,689.73 310.50,692.59 310.70,695.21 310.90,697.51 311.10,699.44 311.30,700.95 311.50,701.99 311.70,702.55 311.90,702.60 312.10,702.16 312.30,701.23 312.50,699.85 312.70,698.05 312.90,695.88 313.10,693.40 313.30,690.69 313.50,687.81 313.70,684.84 313.90,681.86 314.10,678.96 314.30,676.21 314.50,673.68 314.70,671.44 314.90,669.54 315.10,668.05 315.30,666.99 315.50,666.39 315.70,666.27 315.90,666.62 316.10,667.44 316.30,668.69 316.50,670.35 316.70,672.37 316.90,674.69 317.10,677.24 317.30,679.96 317.50,682.78 317.70,685.61 317.90,688.39 318.10,691.04 318.30,693.50 318.50,695.72 318.70,697.61 318.90,699.14 319.10,700.27 319.30,700.96 319.50,701.19 319.70,700.96 319.90,700.27 320.10,699.15 320.30,697.62 320.50,695.73 320.70,693.52 320.90,691.06 321.10,688.40 321.30,685.63 321.50,682.82 321.70,680.04 321.90,677.36 322.10,674.87 322.30,672.62 322.50,670.67 322.70,669.09 322.90,667.90 323.10,667.15 323.30,666.85 323.50,667.01 323.70,667.63 323.90,668.68 324.10,670.15 324.30,671.99 324.50,674.15 324.70,676.57 324.90,679.20 325.10,681.95 325.30,684.76 325.50,687.54 325.70,690.23 325.90,692.76 326.10,695.04 326.30,697.03 326.50,698.67 326.70,699.92 326.90,700.73 327.10,701.10 327.30,701.01 327.50,700.46 327.70,699.47 327.90,698.07 328.10,696.29 328.30,694.17 328.50,691.79 328.70,689.20 328.90,686.46 329.10,683.66 329.30,680.88 329.50,678.17 329.70,675.62 329.90,673.30 330.10,671.27 330.30,669.58 330.50,668.27 330.70,667.39 330.90,666.96 331.10,666.98 331.30,667.46 331.50,668.38 331.70,669.72 331.90,671.45 332.10,673.51 332.30,675.85 332.50,678.42 332.70,681.13 332.90,683.91 333.10,686.70 333.30,689.42 333.50,691.99 333.70,694.35 333.90,696.42 334.10,698.17 334.30,699.53 334.50,700.47 334.70,700.98 334.90,701.02 335.10,700.61 335.30,699.76 335.50,698.48 335.70,696.81 335.90,694.80 336.10,692.50 336.30,689.97 336.50,687.28 336.70,684.50 336.90,681.72 337.10,678.99 337.30,676.40 337.50,674.01 337.70,671.89 337.90,670.10 338.10,668.68 338.30,667.67 338.50,667.10 338.70,666.99 338.90,667.33 339.10,668.12 339.30,669.33 339.50,670.94 339.70,672.90 339.90,675.16 340.10,677.65 340.30,680.32 340.50,683.08 340.70,685.86 340.90,688.60 341.10,691.21 341.30,693.63 341.50,695.79 341.70,697.63 341.90,699.11 342.10,700.20 342.30,700.88 342.50,701.11 342.70,700.88 342.90,700.19 343.10,699.06 343.30,697.53 343.50,695.62 343.70,693.39 343.90,690.89 344.10,688.20 344.30,685.38 344.50,682.51 344.70,679.66 344.90,676.92 345.10,674.36 345.30,672.04 345.50,670.03 345.70,668.39 345.90,667.16 346.10,666.38 346.30,666.07 346.50,666.25 346.70,666.90 346.90,668.01 347.10,669.56 347.30,671.51 347.50,673.80 347.70,676.38 347.90,679.17 348.10,682.11 348.30,685.11 348.50,688.10 348.70,690.99 348.90,693.71 349.10,696.17 349.30,698.32 349.50,700.10 349.70,701.45 349.90,702.34 350.10,702.73 350.30,702.63 350.50,702.02 350.70,700.93 350.90,699.37 351.10,697.39 351.30,695.04 351.50,692.39 351.70,689.50 351.90,686.44 352.10,683.31 352.30,680.18 352.50,677.14 352.70,674.27 352.90,671.65 353.10,669.35 353.30,667.44 353.50,665.96 353.70,664.96 353.90,664.47 354.10,664.50 354.30,665.06 354.50,666.13 354.70,667.69 354.90,669.69 355.10,672.10 355.30,674.84 355.50,677.83 355.70,680.99 355.90,684.23 356.10,687.46 356.30,690.60 356.50,693.56 356.70,696.27 356.90,698.65 357.10,700.63 357.30,702.17 357.50,703.23 357.70,703.76 357.90,703.77 358.10,703.24 358.30,702.20 358.50,700.67 358.70,698.69 358.90,696.31 359.10,693.61 359.30,690.64 359.50,687.50 359.70,684.26 359.90,681.02 360.10,677.85 360.30,674.85 360.50,672.09 360.70,669.65 360.90,667.60 361.10,665.99 361.30,664.86 361.50,664.24 361.70,664.16 361.90,664.60 362.10,665.57 362.30,667.04 362.50,668.96 362.70,671.28 362.90,673.95 363.10,676.88 363.30,680.01 363.50,683.25 363.70,686.50 363.90,689.70 364.10,692.73 364.30,695.54 364.50,698.03 364.70,700.15 364.90,701.84 365.10,703.05 365.30,703.74 365.50,703.91 365.70,703.54 365.90,702.64 366.10,701.25 366.30,699.39 366.50,697.12 366.70,694.50 366.90,691.59 367.10,688.48 367.30,685.24 367.50,681.98 367.70,678.76 367.90,675.69 368.10,672.84 368.30,670.29 368.50,668.11 368.70,666.35 368.90,665.06 369.10,664.29 369.30,664.04 369.50,664.33 369.70,665.15 369.90,666.47 370.10,668.27 370.30,670.49 370.50,673.07 370.70,675.94 370.90,679.04 371.10,682.26 371.30,685.54 371.50,688.77 371.70,691.88 371.90,694.77 372.10,697.38 372.30,699.63 372.50,701.46 372.70,702.82 372.90,703.67 373.10,704.00 373.30,703.79 373.50,703.05 373.70,701.79 373.90,700.06 374.10,697.90 374.30,695.36 374.50,692.52 374.70,689.45 374.90,686.23 375.10,682.95 375.30,679.70 375.50,676.56 375.70,673.62 375.90,670.96 376.10,668.65 376.30,666.75 376.50,665.32 376.70,664.38 376.90,663.97 377.10,664.10 377.30,664.77 377.50,665.95 377.70,667.61 377.90,669.72 378.10,672.21 378.30,675.02 378.50,678.07 378.70,681.27 378.90,684.56 379.10,687.83 379.30,690.99 379.50,693.97 379.70,696.68 379.90,699.06 380.10,701.03 380.30,702.54 380.50,703.55 380.70,704.04 380.90,703.99 381.10,703.41 381.30,702.30 381.50,700.70 381.70,698.65 381.90,696.21 382.10,693.44 382.30,690.42 382.50,687.22 382.70,683.94 382.90,680.65 383.10,677.46 383.30,674.44 383.50,671.68 383.70,669.24 383.90,667.21 384.10,665.62 384.30,664.53 384.50,663.96 384.70,663.92 384.90,664.43 385.10,665.46 385.30,666.99 385.50,668.98 385.70,671.37 385.90,674.10 386.10,677.10 386.30,680.28 386.50,683.57 386.70,686.86 386.90,690.08 387.10,693.14 387.30,695.95 387.50,698.45 387.70,700.55 387.90,702.21 388.10,703.38 388.30,704.04 388.50,704.15 388.70,703.72 388.90,702.76 389.10,701.30 389.30,699.38 389.50,697.04 389.70,694.35 389.90,691.38 390.10,688.21 390.30,684.93 390.50,681.62 390.70,678.38 390.90,675.28 391.10,672.42 391.30,669.87 391.50,667.70 391.70,665.97 391.90,664.72 392.10,663.99 392.30,663.79 392.50,664.14 392.70,665.02 392.90,666.41 393.10,668.27 393.30,670.56 393.50,673.21 393.70,676.15 393.90,679.30 394.10,682.57 394.30,685.89 394.50,689.15 394.70,692.28 394.90,695.19 395.10,697.79 395.30,700.03 395.50,701.84 395.70,703.17 395.90,703.98 396.10,704.26 396.30,703.99 396.50,703.19 396.70,701.87 396.90,700.07 397.10,697.84 397.30,695.23 397.50,692.33 397.70,689.20 397.90,685.93 398.10,682.61 398.30,679.32 398.50,676.16 398.70,673.21 398.90,670.55 399.10,668.25 399.30,666.37 399.50,664.96 399.70,664.07 399.90,663.71 400.10,663.89 400.30,664.62 400.50,665.87 400.70,667.61 400.90,669.78 401.10,672.34 401.30,675.21 401.50,678.31 401.70,681.57 401.90,684.90 402.10,688.20 402.30,691.38 402.50,694.37 402.70,697.08 402.90,699.44 403.10,701.39 403.30,702.87 403.50,703.84 403.70,704.27 403.90,704.17 404.10,703.52 404.30,702.35 404.50,700.68 404.70,698.57 404.90,696.07 405.10,693.24 405.30,690.16 405.50,686.92 405.70,683.60 405.90,680.29 406.10,677.08 406.30,674.06 406.50,671.30 406.70,668.89 406.90,666.88 407.10,665.33 407.30,664.28 407.50,663.76 407.70,663.78 407.90,664.35 408.10,665.44 408.30,667.04 408.50,669.08 408.70,671.53 408.90,674.32 409.10,677.36 409.30,680.58 409.50,683.90 409.70,687.21 409.90,690.45 410.10,693.50 410.30,696.30 410.50,698.78 410.70,700.85 410.90,702.47 411.10,703.60 411.30,704.20 411.50,704.26 411.70,703.77 411.90,702.75 412.10,701.23 412.30,699.25 412.50,696.86 412.70,694.12 412.90,691.11 413.10,687.91 413.30,684.60 413.50,681.28 413.70,678.03 413.90,674.94 414.10,672.10 414.30,669.57 414.50,667.43 414.70,665.74 414.90,664.54 415.10,663.86 415.30,663.72 415.50,664.12 415.70,665.06 415.90,666.51 416.10,668.43 416.30,670.76 416.50,673.45 416.70,676.43 416.90,679.60 417.10,682.90 417.30,686.22 417.50,689.49 417.70,692.61 417.90,695.50 418.10,698.07 418.30,700.27 418.50,702.04 418.70,703.32 418.90,704.08 419.10,704.30 419.30,703.97 419.50,703.11 419.70,701.74 419.90,699.89 420.10,697.61 420.30,694.97 420.50,692.03 420.70,688.88 420.90,685.60 421.10,682.27 421.30,678.99 421.50,675.85 421.70,672.92 421.90,670.29 422.10,668.03 422.30,666.20 422.50,664.84 422.70,664.00 422.90,663.70 423.10,663.94 423.30,664.72 423.50,666.02 423.70,667.80 423.90,670.02 424.10,672.61 424.30,675.51 424.50,678.63 424.70,681.90 424.90,685.23 425.10,688.52 425.30,691.69 425.50,694.66 425.70,697.34 425.90,699.66 426.10,701.56 426.30,702.99 426.50,703.90 426.70,704.29 426.90,704.13 427.10,703.43 427.30,702.20 427.50,700.49 427.70,698.34 427.90,695.80 428.10,692.94 428.30,689.85 428.50,686.59 428.70,683.27 428.90,679.97 429.10,676.77 429.30,673.77 429.50,671.04 429.70,668.67 429.90,666.70 430.10,665.20 430.30,664.20 430.50,663.73 430.70,663.81 430.90,664.43 431.10,665.58 431.30,667.22 431.50,669.31 431.70,671.80 431.90,674.61 432.10,677.68 432.30,680.91 432.50,684.23 432.70,687.54 432.90,690.76 433.10,693.80 433.30,696.57 433.50,699.00 433.70,701.03 433.90,702.61 434.10,703.68 434.30,704.23 434.50,704.23 434.70,703.69 434.90,702.62 435.10,701.05 435.30,699.03 435.50,696.60 435.70,693.83 435.90,690.80 436.10,687.58 436.30,684.27 436.50,680.95 436.70,677.71 436.90,674.65 437.10,671.83 437.30,669.34 437.50,667.24 437.70,665.60 437.90,664.44 438.10,663.82 438.30,663.73 438.50,664.19 438.70,665.18 438.90,666.68 439.10,668.64 439.30,671.02 439.50,673.74 439.70,676.74 439.90,679.93 440.10,683.23 440.30,686.56 440.50,689.81 440.70,692.91 440.90,695.77 441.10,698.31 441.30,700.47 441.50,702.19 441.70,703.42 441.90,704.12 442.10,704.29 442.30,703.91 442.50,703.00 442.70,701.58 442.90,699.68 443.10,697.36 443.30,694.69 443.50,691.73 443.70,688.56 443.90,685.27 444.10,681.94 444.30,678.67 444.50,675.54 444.70,672.64 444.90,670.05 445.10,667.83 445.30,666.04 445.50,664.74 445.70,663.95 445.90,663.70 446.10,664.00 446.30,664.83 446.50,666.18 446.70,668.01 446.90,670.26 447.10,672.89 447.30,675.81 447.50,678.96 447.70,682.24 447.90,685.56 448.10,688.85 448.30,692.00 448.50,694.94 448.70,697.59 448.90,699.87 449.10,701.72 449.30,703.10 449.50,703.97 449.70,704.30 449.90,704.08 450.10,703.33 450.30,702.05 450.50,700.30 450.70,698.10 450.90,695.53 451.10,692.64 451.30,689.53 451.50,686.26 451.70,682.94 451.90,679.64 452.10,676.46 452.30,673.48 452.50,670.79 452.70,668.45 452.90,666.53 453.10,665.07 453.30,664.13 453.50,663.72 453.70,663.85 453.90,664.53 454.10,665.72 454.30,667.41 454.50,669.54 454.70,672.07 454.90,674.91 455.10,677.99 455.30,681.24 455.50,684.56 455.70,687.87 455.90,691.07 456.10,694.09 456.30,696.83 456.50,699.22 456.70,701.21 456.90,702.74 457.10,703.76 457.30,704.26 457.50,704.20 457.70,703.61 457.90,702.49 458.10,700.87 458.30,698.80 458.50,696.33 458.70,693.54 458.90,690.48 459.10,687.25 459.30,683.94 459.50,680.62 459.70,677.40 459.90,674.35 460.10,671.56 460.30,669.11 460.50,667.06 460.70,665.46 460.90,664.36 461.10,663.78 461.30,663.75 461.50,664.27 461.70,665.31 461.90,666.86 462.10,668.86 462.30,671.27 462.50,674.03 462.70,677.05 462.90,680.26 463.10,683.57 463.30,686.89 463.50,690.13 463.70,693.21 463.90,696.04 464.10,698.55 464.30,700.66 464.50,702.33 464.70,703.51 464.90,704.16 465.10,704.28 465.30,703.84 465.50,702.88 465.70,701.41 465.90,699.47 466.10,697.11 466.30,694.41 466.50,691.42 466.70,688.23 466.90,684.93 467.10,681.61 467.30,678.35 467.50,675.24 467.70,672.37 467.90,669.81 468.10,667.63 468.30,665.89 468.50,664.63 468.70,663.90 468.90,663.71 469.10,664.06 469.30,664.94 469.50,666.34 469.70,668.21 469.90,670.51 470.10,673.17 470.30,676.12 470.50,679.28 470.70,682.57 470.90,685.89 471.10,689.17 471.30,692.31 471.50,695.22 471.70,697.83 471.90,700.07 472.10,701.88 472.30,703.21 472.50,704.02 472.70,704.30 472.90,704.03 473.10,703.22 473.30,701.90 473.50,700.10 473.70,697.86 473.90,695.25 474.10,692.34 474.30,689.20 474.50,685.93 474.70,682.60 474.90,679.32 475.10,676.15 475.30,673.20 475.50,670.54 475.70,668.24 475.90,666.36 476.10,664.96 476.30,664.06 476.50,663.71 476.70,663.89 476.90,664.62 477.10,665.87 477.30,667.61 477.50,669.78 477.70,672.34 477.90,675.21 478.10,678.31 478.30,681.57 478.50,684.90 478.70,688.20 478.90,691.38 479.10,694.37 479.30,697.08 479.50,699.44 479.70,701.39 479.90,702.87 480.10,703.84 480.30,704.27 480.50,704.17 480.70,703.52 480.90,702.35 481.10,700.68 481.30,698.57 481.50,696.07 481.70,693.24 481.90,690.16 482.10,686.92 482.30,683.60 482.50,680.29 482.70,677.08 482.90,674.06 483.10,671.30 483.30,668.89 483.50,666.88 483.70,665.33 483.90,664.28 484.10,663.76 484.30,663.78 484.50,664.35 484.70,665.44 484.90,667.04 485.10,669.08 485.30,671.53 485.50,674.32 485.70,677.36 485.90,680.58 486.10,683.90 486.30,687.21 486.50,690.45 486.70,693.50 486.90,696.30 487.10,698.78 487.30,700.85 487.50,702.47 487.70,703.60 487.90,704.20 488.10,704.26 488.30,703.77 488.50,702.75 488.70,701.23 488.90,699.25 489.10,696.86 489.30,694.12 489.50,691.11 489.70,687.91 489.90,684.60 490.10,681.28 490.30,678.03 490.50,674.94 490.70,672.10 490.90,669.57 491.10,667.43 491.30,665.74 491.50,664.54 491.70,663.86 491.90,663.72 492.10,664.12 492.30,665.06 492.50,666.51 492.70,668.43 492.90,670.76 493.10,673.45 493.30,676.43 493.50,679.60 493.70,682.90 493.90,686.22 494.10,689.49 494.30,692.61 494.50,695.50 494.70,698.07 494.90,700.27 495.10,702.04 495.30,703.32 495.50,704.08 495.70,704.30 495.90,703.97 496.10,703.11 496.30,701.74 496.50,699.89 496.70,697.61 496.90,694.97 497.10,692.03 497.30,688.88 497.50,685.60 497.70,682.27 497.90,678.99 498.10,675.85 498.30,672.92 498.50,670.29 498.70,668.03 498.90,666.20 499.10,664.84 499.30,664.00 499.50,663.70 499.70,663.94 499.90,664.72 500.10,666.02 500.30,667.80 500.50,670.02 500.70,672.61 500.90,675.51 501.10,678.63 501.30,681.90 501.50,685.23 501.70,688.52 501.90,691.69 502.10,694.66 502.30,697.34 502.50,699.66 502.70,701.56 502.90,702.99 503.10,703.90 503.30,704.29 503.50,704.13 503.70,703.43 503.90,702.20 504.10,700.49 504.30,698.34 504.50,695.80 504.70,692.94 504.90,689.85 505.10,686.59 505.30,683.27 505.50,679.97 505.70,676.77 505.90,673.77 506.10,671.04 506.30,668.67 506.50,666.70 506.70,665.20 506.90,664.20 507.10,663.73 507.30,663.81 507.50,664.43 507.70,665.58 507.90,667.22 508.10,669.31 508.30,671.80 508.50,674.61 508.70,677.68 508.90,680.91 509.10,684.23 509.30,687.54 509.50,690.76 509.70,693.80 509.90,696.57 510.10,699.00 510.30,701.03 510.50,702.61 510.70,703.68 510.90,704.23 511.10,704.23 511.30,703.69 511.50,702.62 511.70,701.05 511.90,699.03 512.10,696.60 512.30,693.83 512.50,690.80 512.70,687.58 512.90,684.27 513.10,680.95 513.30,677.71 513.50,674.65 513.70,671.83 513.90,669.34 514.10,667.24 514.30,665.60 514.50,664.44 514.70,663.82 514.90,663.73 515.10,664.19 515.30,665.18 515.50,666.68 515.70,668.64 515.90,671.02 516.10,673.74 516.30,676.74 516.50,679.93 516.70,683.23 516.90,686.56 517.10,689.81 517.30,692.91 517.50,695.77 517.70,698.31 517.90,700.47 518.10,702.19 518.30,703.42 518.50,704.12 518.70,704.29 518.90,703.91 519.10,703.00 519.30,701.58 519.50,699.68 519.70,697.36 519.90,694.69 520.10,691.73 520.30,688.56 520.50,685.27 520.70,681.94 520.90,678.67 521.10,675.54 521.30,672.64 521.50,670.05 521.70,667.83 521.90,666.04 522.10,664.74 522.30,663.95 522.50,663.70 522.70,664.00 522.90,664.83 523.10,666.18 523.30,668.01 523.50,670.26 523.70,672.89 523.90,675.81 524.10,678.96 524.30,682.24 524.50,685.56 524.70,688.85 524.90,692.00 525.10,694.94 525.30,697.59 525.50,699.87 525.70,701.72 525.90,703.10 526.10,703.97 526.30,704.30 526.50,704.08 526.70,703.33 526.90,702.05 527.10,700.30 527.30,698.10 527.50,695.53 527.70,692.64 527.90,689.53 528.10,686.26 528.30,682.94 528.50,679.64 528.70,676.46 528.90,673.48 529.10,670.79 529.30,668.45 529.50,666.53 529.70,665.07 529.90,664.13 530.10,663.72 530.30,663.85 530.50,664.53 530.70,665.72 530.90,667.41 531.10,669.54 531.30,672.07 531.50,674.91 531.70,677.99 531.90,681.24 532.10,684.56 532.30,687.87 532.50,691.07 532.70,694.09 532.90,696.83 533.10,699.22 533.30,701.21 533.50,702.74 533.70,703.76 533.90,704.26 534.10,704.20 534.30,703.61 534.50,702.49 534.70,700.87 534.90,698.80 535.10,696.33 535.30,693.54 535.50,690.48 535.70,687.25 535.90,683.94 536.10,680.62 536.30,677.40 536.50,674.35 536.70,671.56 536.90,669.11 537.10,667.06 537.30,665.46 537.50,664.36 537.70,663.78 537.90,663.75 538.10,664.27 538.30,665.31 538.50,666.86 538.70,668.86 538.90,671.27 539.10,674.03 539.30,677.05 539.50,680.26 539.70,683.57 539.90,686.89 540.10,690.13 540.30,693.21 540.50,696.04 540.70,698.55 540.90,700.66 541.10,702.33 541.30,703.51 541.50,704.16 541.70,704.28 541.90,703.84 542.10,702.88 542.30,701.41 542.50,699.47 542.70,697.11 542.90,694.41 543.10,691.42 543.30,688.23 543.50,684.93 543.70,681.61 543.90,678.35 544.10,675.24 544.30,672.37 544.50,669.81 544.70,667.63 544.90,665.89 545.10,664.63 545.30,663.90 545.50,663.71 545.70,664.06 545.90,664.94 546.10,666.34 546.30,668.21 546.50,670.51 546.70,673.17 546.90,676.12 547.10,679.28 547.30,682.57 547.50,685.89 547.70,689.17 547.90,692.31 548.10,695.22 548.30,697.83 548.50,700.07 548.70,701.88 548.90,703.21 549.10,704.02 549.30,704.30 549.50,704.03 549.70,703.22 549.90,701.90 550.10,700.10 550.30,697.86 550.50,695.25 550.70,692.34 550.90,689.20 551.10,685.93 551.30,682.60 551.50,679.32 551.70,676.15 551.90,673.20 552.10,670.54 552.30,668.24 552.50,666.36 552.70,664.96 552.90,664.06 553.10,663.71 553.30,663.89 553.50,664.62 553.70,665.87 553.90,667.61 554.10,669.78 554.30,672.34 554.50,675.21 554.70,678.31 554.90,681.57 555.10,684.90 555.30,688.20 555.50,691.38 555.70,694.37 555.90,697.08 556.10,699.44 556.30,701.39 556.50,702.87 556.70,703.84 556.90,704.27 557.10,704.17 557.30,703.52 557.50,702.35 557.70,700.68 557.90,698.57 558.10,696.07 558.30,693.24 558.50,690.16 558.70,686.92 558.90,683.60 559.10,680.29 559.30,677.08 559.50,674.06 559.70,671.30 559.90,668.89 560.10,666.88 560.30,665.33 560.50,664.28 560.70,663.76 560.90,663.78 561.10,664.35 561.30,665.44 561.50,667.04 561.70,669.08 561.90,671.53 562.10,674.32 562.30,677.36 562.50,680.58 562.70,683.90 562.90,687.21 563.10,690.45 563.30,693.50 563.50,696.30 563.70,698.78 563.90,700.85 564.10,702.47 564.30,703.60 564.50,704.20 564.70,704.26 564.90,703.77 565.10,702.75 565.30,701.23 565.50,699.25 565.70,696.86 565.90,694.12 566.10,691.11 566.30,687.91 566.50,684.60 566.70,681.28 566.90,678.03 567.10,674.94 567.30,672.10 567.50,669.57 567.70,667.43 567.90,665.74 568.10,664.54 568.30,663.86 568.50,663.72 568.70,664.12 568.90,665.06 569.10,666.51 569.30,668.43 569.50,670.76 569.70,673.45 569.90,676.43 570.10,679.60 570.30,682.90 570.50,686.22 570.70,689.49 570.90,692.61 571.10,695.50 571.30,698.07 571.50,700.27 571.70,702.04 571.90,703.32 572.10,704.08 572.30,704.30 572.50,703.97 572.70,703.11 572.90,701.74 573.10,699.89 573.30,697.61 573.50,694.97 573.70,692.03 573.90,688.88 574.10,685.60 574.30,682.27 574.50,678.99 574.70,675.85 574.90,672.92 575.10,670.29 575.30,668.03 575.50,666.20 575.70,664.84 575.90,664.00 576.10,663.70 576.30,663.94 576.50,664.72 576.70,666.02 576.90,667.80 577.10,670.02 577.30,672.61 577.50,675.51 577.70,678.63 577.90,681.90 578.10,685.23 578.30,688.52 578.50,691.69 578.70,694.66 578.90,697.34 579.10,699.66 579.30,701.56 579.50,702.99 579.70,703.90 579.90,704.29 580.10,704.13 580.30,703.43 580.50,702.20 580.70,700.49 580.90,698.34 581.10,695.80 581.30,692.94 581.50,689.85 581.70,686.59 581.90,683.27 582.10,679.97 582.30,676.77 582.50,673.77 582.70,671.04 582.90,668.67 583.10,666.70 583.30,665.20 583.50,664.20 583.70,663.73 583.90,663.81 584.10,664.43 584.30,665.58 584.50,667.22 584.70,669.31 584.90,671.80 585.10,674.61 585.30,677.68 585.50,680.91 585.70,684.23 585.90,687.54 586.10,690.76 586.30,693.80 586.50,696.57 586.70,699.00 586.90,701.03 587.10,702.61 587.30,703.68 587.50,704.23 587.70,704.23 587.90,703.69 588.10,702.62 588.30,701.05 588.50,699.03 588.70,696.60 588.90,693.83 589.10,690.80 589.30,687.58 589.50,684.27 589.70,680.95 589.90,677.71 590.10,674.65 590.30,671.83 590.50,669.34 590.70,667.24 590.90,665.60 591.10,664.44 591.30,663.82 591.50,663.73 591.70,664.19 591.90,665.18 592.10,666.68 592.30,668.64 592.50,671.02 592.70,673.74 592.90,676.74 593.10,679.93 593.30,683.23 593.50,686.56 593.70,689.81 593.90,692.91 594.10,695.77 594.30,698.31 594.50,700.47 594.70,702.19 594.90,703.42 595.10,704.12 595.30,704.29 595.50,703.91 595.70,703.00 595.90,701.58 596.10,699.68 596.30,697.36 596.50,694.69 596.70,691.73 596.90,688.56 597.10,685.27 597.30,681.94 597.50,678.67 597.70,675.54 597.90,672.64 598.10,670.05 598.30,667.83 598.50,666.04 598.70,664.74 598.90,663.95 599.10,663.70 599.30,664.00 599.50,664.83 599.70,666.18 599.90,668.01 600.10,670.26 600.30,672.89 600.50,675.81 600.70,678.96 600.90,682.24 601.10,685.56 601.30,688.85 601.50,692.00 601.70,694.94 601.90,697.59 602.10,699.87 602.30,701.72 602.50,703.10 602.70,703.97 602.90,704.30 603.10,704.08 603.30,703.33 603.50,702.05 603.70,700.30 603.90,698.10 604.10,695.53 604.30,692.64 604.50,689.53 604.70,686.26 604.90,682.94 605.10,679.64 605.30,676.46 605.50,673.48 605.70,670.79 605.90,668.45 606.10,666.53 606.30,665.07 606.50,664.13 606.70,663.72 606.90,663.85 607.10,664.53 607.30,665.72 607.50,667.41 607.70,669.54 607.90,672.07 608.10,674.91 608.30,677.99 608.50,681.24 608.70,684.56 608.90,687.87 609.10,691.07 609.30,694.09 609.50,696.83 609.70,699.22 609.90,701.21 610.10,702.74 610.30,703.76 610.50,704.26 610.70,704.20 610.90,703.61 611.10,702.49 611.30,700.87 611.50,698.80 611.70,696.33 611.90,693.54 612.10,690.48 612.30,687.25 612.50,683.94 612.70,680.62 612.90,677.40 613.10,674.35 613.30,671.56 613.50,669.11 613.70,667.06 613.90,665.46 614.10,664.36 614.30,663.78 614.50,663.75 614.70,664.27 614.90,665.31 615.10,666.86 615.30,668.86 615.50,671.27 615.70,674.03 615.90,677.05 616.10,680.26 616.30,683.57 616.50,686.89 616.70,690.13 616.90,693.21 617.10,696.04 617.30,698.55 617.50,700.66 617.70,702.33 617.90,703.51 618.10,704.16 618.30,704.28 618.50,703.84 618.70,702.88 618.90,701.41 619.10,699.47 619.30,697.11 619.50,694.41 619.70,691.42 619.90,688.23 620.10,684.93 620.30,681.61 620.50,678.35 620.70,675.24 620.90,672.37 621.10,669.81 621.30,667.63 621.50,665.89 621.70,664.63 621.90,663.90 622.10,663.71 622.30,664.06 622.50,664.94 622.70,666.34 622.90,668.21 623.10,670.51 623.30,673.17 623.50,676.12 623.70,679.28 623.90,682.57 624.10,685.89 624.30,689.17 624.50,692.31 624.70,695.22 624.90,697.83 625.10,700.07 625.30,701.88 625.50,703.21 625.70,704.02 625.90,704.30 626.10,704.03 626.30,703.22 626.50,701.90 626.70,700.10 626.90,697.86 627.10,695.25 627.30,692.34 627.50,689.20 627.70,685.93 627.90,682.60 628.10,679.32 628.30,676.15 628.50,673.20 628.70,670.54 628.90,668.24 629.10,666.36 629.30,664.96 629.50,664.06 629.70,663.71 629.90,663.89 630.10,664.62 630.30,665.87 630.50,667.61 630.70,669.78 630.90,672.34 631.10,675.21 631.30,678.31 631.50,681.57 631.70,684.90 631.90,688.20 632.10,691.38 632.30,694.37 632.50,697.08 632.70,699.44 632.90,701.39 633.10,702.87 633.30,703.84 633.50,704.27 633.70,704.17 633.90,703.52 634.10,702.35 634.30,700.68 634.50,698.57 634.70,696.07 634.90,693.24 635.10,690.16 635.30,686.92 635.50,683.60 635.70,680.29 635.90,677.08 636.10,674.06 636.30,671.30 636.50,668.89 636.70,666.88 636.90,665.33 637.10,664.28 637.30,663.76 637.50,663.78 637.70,664.35 637.90,665.44 638.10,667.04 638.30,669.08 638.50,671.53 638.70,674.32 638.90,677.36 639.10,680.58 639.30,683.90 639.50,687.21 639.70,690.45 639.90,693.50 640.10,696.30 640.30,698.78 640.50,700.85 640.70,702.47 640.90,703.60 641.10,704.20 641.30,704.26 641.50,703.77 641.70,702.75 641.90,701.23 642.10,699.25 642.30,696.86 642.50,694.12 642.70,691.11 642.90,687.91 643.10,684.60 643.30,681.28 643.50,678.03 643.70,674.94 643.90,672.10 644.10,669.57 644.30,667.43 644.50,665.74 644.70,664.54 644.90,663.86 645.10,663.72 645.30,664.12 645.50,665.06 645.70,666.51 645.90,668.43 646.10,670.76 646.30,673.45 646.50,676.43 646.70,679.60 646.90,682.90 647.10,686.22 647.30,689.49 647.50,692.61 647.70,695.50 647.90,698.07 648.10,700.27 648.30,702.04 648.50,703.32 648.70,704.08 648.90,704.30 649.10,703.97 649.30,703.11 649.50,701.74 649.70,699.89 649.90,697.61 650.10,694.97 650.30,692.03 650.50,688.88 650.70,685.60 650.90,682.27 651.10,678.99 651.30,675.85 651.50,672.92 651.70,670.29 651.90,668.03 652.10,666.20 652.30,664.84 652.50,664.00 652.70,663.70 652.90,663.94 653.10,664.72 653.30,666.02 653.50,667.80 653.70,670.02 653.90,672.61 654.10,675.51 654.30,678.63 654.50,681.90 654.70,685.23 654.90,688.52 655.10,691.69 655.30,694.66 655.50,697.34 655.70,699.66 655.90,701.56 656.10,702.99 656.30,703.90 656.50,704.29 656.70,704.13 656.90,703.43" fill="none" stroke="#ffff00" stroke-width="2.4" stroke-linejoin="round" stroke-linecap="round"/>
<polyline points="82.50,675.52 82.70,684.97 82.90,694.40 83.10,703.55 83.30,712.17 83.50,720.03 83.70,726.93 83.90,732.67 84.10,737.11 84.30,740.12 84.50,741.63 84.70,741.58 84.90,739.99 85.10,736.90 85.30,732.39 85.50,726.57 85.70,719.62 85.90,711.71 86.10,703.05 86.30,693.88 86.50,684.45 86.70,675.00 86.90,665.80 87.10,657.08 87.30,649.09 87.50,642.04 87.70,636.11 87.90,631.47 88.10,628.23 88.30,626.50 88.50,626.31 88.70,627.67 88.90,630.54 89.10,634.85 89.30,640.48 89.50,647.27 89.70,655.05 89.90,663.61 90.10,672.72 90.30,682.13 90.50,691.59 90.70,700.85 90.90,709.65 91.10,717.76 91.30,724.97 91.50,731.08 91.70,735.92 91.90,739.37 92.10,741.34 92.30,741.76 92.50,740.63 92.70,737.98 92.90,733.88 93.10,728.45 93.30,721.82 93.50,714.17 93.70,705.71 93.90,696.67 94.10,687.29 94.30,677.82 94.50,668.52 94.70,659.63 94.90,651.40 95.10,644.04 95.30,637.76 95.50,632.72 95.70,629.05 95.90,626.86 96.10,626.20 96.30,627.10 96.50,629.53 96.70,633.41 96.90,638.66 97.10,645.12 97.30,652.63 97.50,660.98 97.70,669.94 97.90,679.29 98.10,688.76 98.30,698.11 98.50,707.07 98.70,715.42 98.90,722.92 99.10,729.37 99.30,734.61 99.50,738.49 99.70,740.91 99.90,741.80 100.10,741.13 100.30,738.93 100.50,735.26 100.70,730.21 100.90,723.92 101.10,716.56 101.30,708.32 101.50,699.43 101.70,690.13 101.90,680.66 102.10,671.28 102.30,662.24 102.50,653.79 102.70,646.15 102.90,639.52 103.10,634.09 103.30,630.00 103.50,627.36 103.70,626.24 103.90,626.67 104.10,628.64 104.30,632.10 104.50,636.95 104.70,643.06 104.90,650.28 105.10,658.40 105.30,667.20 105.50,676.46 105.70,685.92 105.90,695.33 106.10,704.44 106.30,712.99 106.50,720.77 106.70,727.56 106.90,733.18 107.10,737.48 107.30,740.34 107.50,741.69 107.70,741.49 107.90,739.75 108.10,736.51 108.30,731.86 108.50,725.93 108.70,718.87 108.90,710.87 109.10,702.15 109.30,692.95 109.50,683.50 109.70,674.07 109.90,664.90 110.10,656.25 110.30,648.34 110.50,641.39 110.70,635.58 110.90,631.08 111.10,627.99 111.30,626.41 111.50,626.38 111.70,627.89 111.90,630.91 112.10,635.35 112.30,641.11 112.50,648.01 112.70,655.88 112.90,664.50 113.10,673.65 113.30,683.08 113.50,692.53 113.70,701.75 113.90,710.50 114.10,718.53 114.30,725.64 114.50,731.62 114.70,736.33 114.90,739.64 115.10,741.45 115.30,741.72 115.50,740.43 115.70,737.64 115.90,733.40 116.10,727.83 116.30,721.09 116.50,713.36 116.70,704.83 116.90,695.74 117.10,686.34 117.30,676.88 117.50,667.61 117.70,658.78 117.90,650.62 118.10,643.36 118.30,637.20 118.50,632.29 118.70,628.76 118.90,626.73 119.10,626.22 119.30,627.28 119.50,629.85 119.70,633.88 119.90,639.25 120.10,645.83 120.30,653.43 120.50,661.85 120.70,670.87 120.90,680.24 121.10,689.71 121.30,699.02 121.50,707.94 121.70,716.21 121.90,723.61 122.10,729.96 122.30,735.06 122.50,738.80 122.70,741.07 122.90,741.80 123.10,740.98 123.30,738.63 123.50,734.82 123.70,729.63 123.90,723.23 124.10,715.77 124.30,707.46 124.50,698.51 124.70,689.18 124.90,679.71 125.10,670.35 125.30,661.37 125.50,652.98 125.70,645.43 125.90,638.92 126.10,633.62 126.30,629.67 126.50,627.18 126.70,626.21 126.90,626.80 127.10,628.92 127.30,632.52 127.50,637.51 127.70,643.74 127.90,651.05 128.10,659.25 128.30,668.11 128.50,677.40 128.70,686.87 128.90,696.26 129.10,705.32 129.30,713.81 129.50,721.49 129.70,728.18 129.90,733.67 130.10,737.83 130.30,740.55 130.50,741.74 130.70,741.39 130.90,739.49 131.10,736.11 131.30,731.32 131.50,725.27 131.70,718.11 131.90,710.03 132.10,701.25 132.30,692.01 132.50,682.55 132.70,673.13 132.90,664.01 133.10,655.42 133.30,647.60 133.50,640.76 133.70,635.07 133.90,630.70 134.10,627.77 134.30,626.34 134.50,626.46 134.70,628.13 134.90,631.29 135.10,635.87 135.30,641.75 135.50,648.76 135.70,656.71 135.90,665.40 136.10,674.59 136.30,684.03 136.50,693.47 136.70,702.65 136.90,711.33 137.10,719.29 137.30,726.29 137.50,732.16 137.70,736.73 137.90,739.89 138.10,741.55 138.30,741.66 138.50,740.22 138.70,737.28 138.90,732.90 139.10,727.21 139.30,720.36 139.50,712.53 139.70,703.94 139.90,694.81 140.10,685.40 140.30,675.94 140.50,666.70 140.70,657.93 140.90,649.85 141.10,642.69 141.30,636.65 141.50,631.87 141.70,628.49 141.90,626.61 142.10,626.26 142.30,627.47 142.50,630.19 142.70,634.36 142.90,639.86 143.10,646.54 143.30,654.24 143.50,662.73 143.70,671.79 143.90,681.18 144.10,690.65 144.30,699.94 144.50,708.80 144.70,716.99 144.90,724.30 145.10,730.52 145.30,735.50 145.50,739.09 145.70,741.21 145.90,741.79 146.10,740.81 146.30,738.31 146.50,734.36 146.70,729.05 146.90,722.53 147.10,714.97 147.30,706.59 147.50,697.59 147.70,688.24 147.90,678.77 148.10,669.44 148.30,660.50 148.50,652.19 148.70,644.73 148.90,638.33 149.10,633.16 149.30,629.35 149.50,627.01 149.70,626.20 149.90,626.94 150.10,629.22 150.30,632.96 150.50,638.08 150.70,644.42 150.90,651.84 151.10,660.11 151.30,669.03 151.50,678.35 151.70,687.82 151.90,697.18 152.10,706.20 152.30,714.62 152.50,722.21 152.70,728.78 152.90,734.15 153.10,738.17 153.30,740.73 153.50,741.78 153.70,741.27 153.90,739.22 154.10,735.69 154.30,730.77 154.50,724.60 154.70,717.34 154.90,709.18 155.10,700.34 155.30,691.07 155.50,681.60 155.70,672.20 155.90,663.12 156.10,654.60 156.30,646.87 156.50,640.13 156.70,634.57 156.90,630.34 157.10,627.55 157.30,626.28 157.50,626.56 157.70,628.38 157.90,631.69 158.10,636.40 158.30,642.40 158.50,649.51 158.70,657.55 158.90,666.30 159.10,675.52 159.30,684.97 159.50,694.40 159.70,703.55 159.90,712.17 160.10,720.03 160.30,726.93 160.50,732.67 160.70,737.11 160.90,740.12 161.10,741.63 161.30,741.58 161.50,739.99 161.70,736.90 161.90,732.39 162.10,726.57 162.30,719.62 162.50,711.71 162.70,703.05 162.90,693.88 163.10,684.45 163.30,675.00 163.50,665.80 163.70,657.08 163.90,649.09 164.10,642.04 164.30,636.11 164.50,631.47 164.70,628.23 164.90,626.50 165.10,626.31 165.30,627.67 165.50,630.54 165.70,634.85 165.90,640.48 166.10,647.27 166.30,655.05 166.50,663.61 166.70,672.72 166.90,682.13 167.10,691.59 167.30,700.85 167.50,709.65 167.70,717.76 167.90,724.97 168.10,731.08 168.30,735.92 168.50,739.37 168.70,741.34 168.90,741.76 169.10,740.63 169.30,737.98 169.50,733.88 169.70,728.45 169.90,721.82 170.10,714.17 170.30,705.71 170.50,696.67 170.70,687.29 170.90,677.82 171.10,668.52 171.30,659.63 171.50,651.40 171.70,644.04 171.90,637.76 172.10,632.72 172.30,629.05 172.50,626.86 172.70,626.20 172.90,627.10 173.10,629.53 173.30,633.41 173.50,638.66 173.70,645.12 173.90,652.63 174.10,660.98 174.30,669.94 174.50,679.29 174.70,688.76 174.90,698.11 175.10,707.07 175.30,715.42 175.50,722.92 175.70,729.37 175.90,734.61 176.10,738.49 176.30,740.91 176.50,741.80 176.70,741.13 176.90,738.93 177.10,735.26 177.30,730.21 177.50,723.92 177.70,716.56 177.90,708.32 178.10,699.43 178.30,690.13 178.50,680.66 178.70,671.28 178.90,662.24 179.10,653.79 179.30,646.15 179.50,639.52 179.70,634.09 179.90,630.00 180.10,627.36 180.30,626.24 180.50,626.67 180.70,628.64 180.90,632.10 181.10,636.95 181.30,643.06 181.50,650.28 181.70,658.40 181.90,667.20 182.10,676.46 182.30,685.92 182.50,695.33 182.70,704.44 182.90,712.99 183.10,720.77 183.30,727.56 183.50,733.18 183.70,737.48 183.90,740.34 184.10,741.69 184.30,741.49 184.50,739.75 184.70,736.51 184.90,731.86 185.10,725.93 185.30,718.87 185.50,710.87 185.70,702.15 185.90,692.95 186.10,683.50 186.30,674.07 186.50,664.90 186.70,656.25 186.90,648.34 187.10,641.39 187.30,635.58 187.50,631.08 187.70,627.99 187.90,626.41 188.10,626.38 188.30,627.89 188.50,630.91 188.70,635.35 188.90,641.11 189.10,648.01 189.30,655.88 189.50,664.50 189.70,673.65 189.90,683.08 190.10,692.53 190.30,701.75 190.50,710.50 190.70,718.53 190.90,725.64 191.10,731.62 191.30,736.33 191.50,739.64 191.70,741.45 191.90,741.72 192.10,740.43 192.30,737.64 192.50,733.40 192.70,727.83 192.90,721.09 193.10,713.36 193.30,704.83 193.50,695.74 193.70,686.34 193.90,676.88 194.10,667.61 194.30,658.78 194.50,650.62 194.70,643.36 194.90,637.20 195.10,632.29 195.30,628.76 195.50,626.73 195.70,626.22 195.90,627.28 196.10,629.85 196.30,633.88 196.50,639.25 196.70,645.83 196.90,653.43 197.10,661.85 197.30,670.87 197.50,680.24 197.70,689.71 197.90,699.02 198.10,707.94 198.30,716.21 198.50,723.61 198.70,729.96 198.90,735.06 199.10,738.80 199.30,741.07 199.50,741.80 199.70,740.98 199.90,738.63 200.10,734.82 200.30,729.63 200.50,723.23 200.70,715.77 200.90,707.46 201.10,698.51 201.30,689.18 201.50,679.71 201.70,670.35 201.90,661.37 202.10,652.98 202.30,645.43 202.50,638.92 202.70,633.62 202.90,629.67 203.10,627.18 203.30,626.21 203.50,626.80 203.70,628.92 203.90,632.52 204.10,637.51 204.30,643.74 204.50,651.05 204.70,659.25 204.90,668.11 205.10,677.40 205.30,686.87 205.50,696.26 205.70,705.32 205.90,713.81 206.10,721.49 206.30,728.18 206.50,733.67 206.70,737.83 206.90,740.55 207.10,741.74 207.30,741.39 207.50,739.49 207.70,736.11 207.90,731.32 208.10,725.27 208.30,718.11 208.50,710.03 208.70,701.25 208.90,692.01 209.10,682.55 209.30,673.13 209.50,664.01 209.70,655.42 209.90,647.60 210.10,640.76 210.30,635.07 210.50,630.70 210.70,627.77 210.90,626.34 211.10,626.46 211.30,628.13 211.50,631.29 211.70,635.87 211.90,641.75 212.10,648.76 212.30,656.71 212.50,665.40 212.70,674.59 212.90,684.03 213.10,693.47 213.30,702.65 213.50,711.33 213.70,719.29 213.90,726.29 214.10,732.16 214.30,736.73 214.50,739.89 214.70,741.55 214.90,741.66 215.10,740.22 215.30,737.28 215.50,732.90 215.70,727.21 215.90,720.36 216.10,712.53 216.30,703.94 216.50,694.81 216.70,685.40 216.90,675.94 217.10,666.70 217.30,657.93 217.50,649.85 217.70,642.69 217.90,636.65 218.10,631.87 218.30,628.49 218.50,626.61 218.70,626.26 218.90,627.47 219.10,630.19 219.30,634.36 219.50,639.86 219.70,646.54 219.90,654.24 220.10,662.73 220.30,671.79 220.50,681.18 220.70,690.65 220.90,699.94 221.10,708.80 221.30,716.99 221.50,724.30 221.70,730.52 221.90,735.50 222.10,739.09 222.30,741.21 222.50,741.79 222.70,740.81 222.90,738.31 223.10,734.36 223.30,729.05 223.50,722.53 223.70,714.97 223.90,706.59 224.10,697.59 224.30,688.24 224.50,678.77 224.70,669.44 224.90,660.50 225.10,652.19 225.30,644.73 225.50,638.33 225.70,633.16 225.90,629.35 226.10,627.01 226.30,626.20 226.50,626.94 226.70,629.22 226.90,632.96 227.10,638.08 227.30,644.42 227.50,651.84 227.70,660.11 227.90,669.03 228.10,678.35 228.30,687.82 228.50,697.18 228.70,706.20 228.90,714.62 229.10,722.21 229.30,728.78 229.50,734.15 229.70,738.17 229.90,740.73 230.10,741.78 230.30,741.27 230.50,739.22 230.70,735.69 230.90,730.77 231.10,724.60 231.30,717.34 231.50,709.18 231.70,700.34 231.90,691.07 232.10,681.60 232.30,672.20 232.50,663.12 232.70,654.60 232.90,646.87 233.10,640.13 233.30,634.57 233.50,630.34 233.70,627.55 233.90,626.28 234.10,626.56 234.30,628.38 234.50,631.69 234.70,636.40 234.90,642.40 235.10,649.51 235.30,657.55 235.50,666.30 235.70,675.52 235.90,684.97 236.10,694.40 236.30,703.55 236.50,712.17 236.70,720.03 236.90,726.93 237.10,732.67 237.30,737.11 237.50,740.12 237.70,741.63 237.90,741.58 238.10,739.99 238.30,736.90 238.50,732.39 238.70,726.57 238.90,719.62 239.10,711.71 239.30,703.05 239.50,693.88 239.70,684.45 239.90,675.00 240.10,665.80 240.30,657.08 240.50,649.09 240.70,642.04 240.90,636.11 241.10,631.47 241.30,628.23 241.50,626.50 241.70,626.31 241.90,627.67 242.10,630.54 242.30,634.85 242.50,640.48 242.70,647.27 242.90,655.05 243.10,663.61 243.30,672.72 243.50,682.13 243.70,691.59 243.90,700.85 244.10,709.65 244.30,717.76 244.50,724.97 244.70,731.08 244.90,735.92 245.10,739.37 245.30,741.34 245.50,741.76 245.70,740.63 245.90,737.98 246.10,733.88 246.30,728.45 246.50,721.82 246.70,714.17 246.90,705.71 247.10,696.67 247.30,687.29 247.50,677.82 247.70,668.52 247.90,659.63 248.10,651.40 248.30,644.04 248.50,637.76 248.70,632.72 248.90,629.05 249.10,626.86 249.30,626.20 249.50,627.10 249.70,629.53 249.90,633.41 250.10,638.66 250.30,645.12 250.50,652.63 250.70,660.98 250.90,669.94 251.10,679.29 251.30,688.76 251.50,698.11 251.70,707.07 251.90,715.42 252.10,722.92 252.30,729.37 252.50,734.61 252.70,738.49 252.90,740.91 253.10,741.80 253.30,741.13 253.50,738.93 253.70,735.26 253.90,730.21 254.10,723.92 254.30,716.56 254.50,708.32 254.70,699.43 254.90,690.13 255.10,680.66 255.30,671.28 255.50,662.24 255.70,653.79 255.90,646.15 256.10,639.52 256.30,634.09 256.50,630.00 256.70,627.36 256.90,626.24 257.10,626.67 257.30,628.64 257.50,632.10 257.70,636.95 257.90,643.06 258.10,650.28 258.30,658.40 258.50,667.20 258.70,676.46 258.90,685.92 259.10,695.33 259.30,704.44 259.50,712.99 259.70,720.77 259.90,727.56 260.10,733.18 260.30,737.48 260.50,740.34 260.70,741.69 260.90,741.49 261.10,739.75 261.30,736.51 261.50,731.86 261.70,725.93 261.90,718.87 262.10,710.87 262.30,702.15 262.50,692.95 262.70,683.50 262.90,674.07 263.10,664.90 263.30,656.25 263.50,648.34 263.70,641.39 263.90,635.58 264.10,631.08 264.30,627.99 264.50,626.41 264.70,626.38 264.90,627.89 265.10,630.91 265.30,635.35 265.50,641.11 265.70,648.01 265.90,655.88 266.10,664.50 266.30,673.65 266.50,683.08 266.70,692.53 266.90,701.75 267.10,710.50 267.30,718.53 267.50,725.64 267.70,731.62 267.90,736.33 268.10,739.64 268.30,741.45 268.50,741.72 268.70,740.43 268.90,737.64 269.10,733.40 269.30,727.83 269.50,721.09 269.70,713.36 269.90,704.83 270.10,695.74 270.30,686.34 270.50,676.88 270.70,667.61 270.90,658.78 271.10,650.62 271.30,643.36 271.50,637.20 271.70,632.29 271.90,628.76 272.10,626.73 272.30,626.22 272.50,627.28 272.70,629.85 272.90,633.88 273.10,639.25 273.30,645.83 273.50,653.43 273.70,661.85 273.90,670.87 274.10,680.38 274.30,689.06 274.50,696.21 274.70,702.52 274.90,708.83 275.10,714.43 275.30,719.17 275.50,722.94 275.70,725.64 275.90,727.20 276.10,727.60 276.30,726.82 276.50,724.91 276.70,721.91 276.90,717.92 277.10,713.05 277.30,707.44 277.50,701.24 277.70,694.63 277.90,687.78 278.10,680.88 278.30,674.12 278.50,667.68 278.70,661.72 278.90,656.40 279.10,651.87 279.30,648.23 279.50,645.57 279.70,643.93 279.90,643.34 280.10,643.84 280.30,645.41 280.50,648.01 280.70,651.57 280.90,655.97 281.10,661.11 281.30,666.85 281.50,673.01 281.70,679.45 281.90,685.98 282.10,692.42 282.30,698.62 282.50,704.39 282.70,709.59 282.90,714.09 283.10,717.76 283.30,720.50 283.50,722.26 283.70,722.98 283.90,722.66 284.10,721.30 284.30,718.94 284.50,715.66 284.70,711.55 284.90,706.72 285.10,701.30 285.30,695.44 285.50,689.30 285.70,683.04 285.90,676.84 286.10,670.86 286.30,665.26 286.50,660.19 286.70,655.78 286.90,652.15 287.10,649.38 287.30,647.61 287.50,646.88 287.70,647.16 287.90,648.42 288.10,650.61 288.30,653.68 288.50,657.52 288.70,662.03 288.90,667.09 289.10,672.53 289.30,678.23 289.50,684.02 289.70,689.74 289.90,695.24 290.10,700.38 290.30,705.03 290.50,709.06 290.70,712.37 290.90,714.89 291.10,716.55 291.30,717.31 291.50,717.18 291.70,716.17 291.90,714.30 292.10,711.64 292.30,708.28 292.50,704.31 292.70,699.84 292.90,695.00 293.10,689.93 293.30,684.76 293.50,679.64 293.70,674.69 293.90,670.05 294.10,665.84 294.30,662.15 294.50,659.09 294.70,656.74 294.90,655.13 295.10,654.32 295.30,654.32 295.50,655.10 295.70,656.66 295.90,658.92 296.10,661.83 296.30,665.30 296.50,669.23 296.70,673.51 296.90,678.01 297.10,682.63 297.30,687.22 297.50,691.67 297.70,695.87 297.90,699.69 298.10,703.04 298.30,705.85 298.50,708.03 298.70,709.55 298.90,710.36 299.10,710.45 299.30,709.84 299.50,708.54 299.70,706.60 299.90,704.09 300.10,701.06 300.30,697.63 300.50,693.87 300.70,689.90 300.90,685.83 301.10,681.76 301.30,677.81 301.50,674.08 301.70,670.65 301.90,667.61 302.10,665.04 302.30,663.02 302.50,661.57 302.70,660.75 302.90,660.55 303.10,660.99 303.30,662.03 303.50,663.65 303.70,665.80 303.90,668.41 304.10,671.41 304.30,674.70 304.50,678.21 304.70,681.83 304.90,685.46 305.10,689.01 305.30,692.38 305.50,695.48 305.70,698.24 305.90,700.59 306.10,702.46 306.30,703.81 306.50,704.61 306.70,704.86 306.90,704.54 307.10,703.67 307.30,702.29 307.50,700.44 307.70,698.18 307.90,695.56 308.10,692.67 308.30,689.59 308.50,686.40 308.70,683.19 308.90,680.05 309.10,677.04 309.30,674.22 309.50,671.68 309.70,669.48 309.90,667.68 310.10,666.32 310.30,665.45 310.50,665.08 310.70,665.21 310.90,665.85 311.10,666.98 311.30,668.55 311.50,670.53 311.70,672.86 311.90,675.48 312.10,678.31 312.30,681.28 312.50,684.31 312.70,687.32 312.90,690.22 313.10,692.94 313.30,695.41 313.50,697.55 313.70,699.33 313.90,700.68 314.10,701.58 314.30,702.01 314.50,701.95 314.70,701.41 314.90,700.40 315.10,698.97 315.30,697.13 315.50,694.96 315.70,692.50 315.90,689.83 316.10,687.02 316.30,684.14 316.50,681.27 316.70,678.49 316.90,675.87 317.10,673.49 317.30,671.39 317.50,669.65 317.70,668.30 317.90,667.38 318.10,666.89 318.30,666.84 318.50,667.24 318.70,668.10 318.90,669.38 319.10,671.06 319.30,673.08 319.50,675.39 319.70,677.94 319.90,680.65 320.10,683.44 320.30,686.26 320.50,689.01 320.70,691.62 320.90,694.03 321.10,696.17 321.30,697.99 321.50,699.43 321.70,700.45 321.90,701.03 322.10,701.15 322.30,700.82 322.50,700.03 322.70,698.81 322.90,697.19 323.10,695.23 323.30,692.95 323.50,690.44 323.70,687.76 323.90,684.98 324.10,682.17 324.30,679.41 324.50,676.77 324.70,674.33 324.90,672.15 325.10,670.29 325.30,668.79 325.50,667.71 325.70,667.06 325.90,666.87 326.10,667.13 326.30,667.85 326.50,669.01 326.70,670.56 326.90,672.48 327.10,674.71 327.30,677.18 327.50,679.84 327.70,682.61 327.90,685.41 328.10,688.18 328.30,690.83 328.50,693.30 328.70,695.52 328.90,697.43 329.10,698.98 329.30,700.13 329.50,700.84 329.70,701.10 329.90,700.90 330.10,700.25 330.30,699.16 330.50,697.67 330.70,695.81 330.90,693.63 331.10,691.19 331.30,688.56 331.50,685.81 331.70,683.01 331.90,680.24 332.10,677.57 332.30,675.07 332.50,672.81 332.70,670.86 332.90,669.25 333.10,668.05 333.30,667.27 333.50,666.94 333.70,667.07 333.90,667.65 334.10,668.68 334.30,670.11 334.50,671.92 334.70,674.05 334.90,676.44 335.10,679.04 335.30,681.78 335.50,684.57 335.70,687.34 335.90,690.03 336.10,692.55 336.30,694.84 336.50,696.85 336.70,698.50 336.90,699.77 337.10,700.61 337.30,701.01 337.50,700.95 337.70,700.43 337.90,699.48 338.10,698.10 338.30,696.35 338.50,694.27 338.70,691.92 338.90,689.35 339.10,686.63 339.30,683.85 339.50,681.08 339.70,678.38 339.90,675.83 340.10,673.50 340.30,671.46 340.50,669.75 340.70,668.42 340.90,667.52 341.10,667.05 341.30,667.05 341.50,667.49 341.70,668.38 341.90,669.69 342.10,671.37 342.30,673.37 342.50,675.68 342.70,678.21 342.90,680.92 343.10,683.72 343.30,686.55 343.50,689.32 343.70,691.96 343.90,694.40 344.10,696.57 344.30,698.42 344.50,699.88 344.70,700.92 344.90,701.52 345.10,701.64 345.30,701.29 345.50,700.48 345.70,699.21 345.90,697.53 346.10,695.48 346.30,693.10 346.50,690.48 346.70,687.66 346.90,684.73 347.10,681.77 347.30,678.86 347.50,676.06 347.70,673.47 347.90,671.15 348.10,669.17 348.30,667.58 348.50,666.42 348.70,665.72 348.90,665.52 349.10,665.82 349.30,666.60 349.50,667.86 349.70,669.55 349.90,671.65 350.10,674.09 350.30,676.80 350.50,679.72 350.70,682.77 350.90,685.87 351.10,688.93 351.30,691.87 351.50,694.61 351.70,697.08 351.90,699.21 352.10,700.94 352.30,702.22 352.50,703.02 352.70,703.30 352.90,703.07 353.10,702.33 353.30,701.09 353.50,699.38 353.70,697.25 353.90,694.75 354.10,691.96 354.30,688.93 354.50,685.77 354.70,682.54 354.90,679.33 355.10,676.25 355.30,673.37 355.50,670.79 355.70,668.55 355.90,666.73 356.10,665.38 356.30,664.52 356.50,664.19 356.70,664.39 356.90,665.11 357.10,666.35 357.30,668.05 357.50,670.19 357.70,672.70 357.90,675.51 358.10,678.55 358.30,681.74 358.50,684.98 358.70,688.21 358.90,691.32 359.10,694.23 359.30,696.88 359.50,699.17 359.70,701.06 359.90,702.49 360.10,703.43 360.30,703.84 360.50,703.72 360.70,703.07 360.90,701.91 361.10,700.27 361.30,698.19 361.50,695.73 361.70,692.95 361.90,689.93 362.10,686.75 362.30,683.50 362.50,680.26 362.70,677.12 362.90,674.17 363.10,671.47 363.30,669.12 363.50,667.16 363.70,665.65 363.90,664.64 364.10,664.15 364.30,664.19 364.50,664.76 364.70,665.85 364.90,667.42 365.10,669.44 365.30,671.86 365.50,674.60 365.70,677.59 365.90,680.76 366.10,684.01 366.30,687.26 366.50,690.43 366.70,693.43 366.90,696.17 367.10,698.58 367.30,700.61 367.50,702.19 367.70,703.28 367.90,703.86 368.10,703.90 368.30,703.40 368.50,702.39 368.70,700.88 368.90,698.92 369.10,696.55 369.30,693.85 369.50,690.89 369.70,687.74 369.90,684.48 370.10,681.22 370.30,678.02 370.50,674.99 370.70,672.20 370.90,669.72 371.10,667.63 371.30,665.98 371.50,664.81 371.70,664.15 371.90,664.03 372.10,664.45 372.30,665.39 372.50,666.83 372.70,668.73 372.90,671.04 373.10,673.70 373.30,676.64 373.50,679.77 373.70,683.02 373.90,686.30 374.10,689.52 374.30,692.59 374.50,695.42 374.70,697.96 374.90,700.12 375.10,701.84 375.30,703.09 375.50,703.82 375.70,704.03 375.90,703.69 376.10,702.83 376.30,701.46 376.50,699.62 376.70,697.36 376.90,694.74 377.10,691.83 377.30,688.72 377.50,685.47 377.70,682.18 377.90,678.95 378.10,675.84 378.30,672.96 378.50,670.37 378.70,668.15 378.90,666.35 379.10,665.03 379.30,664.21 379.50,663.93 379.70,664.18 379.90,664.97 380.10,666.27 380.30,668.04 380.50,670.25 380.70,672.82 380.90,675.70 381.10,678.80 381.30,682.03 381.50,685.33 381.70,688.58 381.90,691.72 382.10,694.65 382.30,697.29 382.50,699.58 382.70,701.45 382.90,702.85 383.10,703.74 383.30,704.11 383.50,703.93 383.70,703.22 383.90,701.99 384.10,700.28 384.30,698.14 384.50,695.61 384.70,692.77 384.90,689.69 385.10,686.46 385.30,683.17 385.50,679.89 385.70,676.72 385.90,673.75 386.10,671.06 386.30,668.71 386.50,666.77 386.70,665.29 386.90,664.32 387.10,663.87 387.30,663.97 387.50,664.60 387.70,665.75 387.90,667.39 388.10,669.48 388.30,671.97 388.50,674.77 388.70,677.82 388.90,681.04 389.10,684.34 389.30,687.63 389.50,690.83 389.70,693.84 389.90,696.58 390.10,699.00 390.30,701.00 390.50,702.56 390.70,703.61 390.90,704.14 391.10,704.13 391.30,703.57 391.50,702.49 391.70,700.92 391.90,698.89 392.10,696.46 392.30,693.69 392.50,690.66 392.70,687.46 392.90,684.16 393.10,680.85 393.30,677.63 393.50,674.58 393.70,671.78 393.90,669.31 394.10,667.23 394.30,665.61 394.50,664.47 394.70,663.86 394.90,663.80 395.10,664.27 395.30,665.27 395.50,666.78 395.70,668.75 395.90,671.13 396.10,673.86 396.30,676.85 396.50,680.05 396.70,683.34 396.90,686.66 397.10,689.91 397.30,693.00 397.50,695.84 397.70,698.37 397.90,700.52 398.10,702.22 398.30,703.43 398.50,704.12 398.70,704.27 398.90,703.88 399.10,702.95 399.30,701.51 399.50,699.61 399.70,697.28 399.90,694.59 400.10,691.63 400.30,688.45 400.50,685.16 400.70,681.83 400.90,678.56 401.10,675.44 401.30,672.55 401.50,669.97 401.70,667.76 401.90,665.99 402.10,664.70 402.30,663.93 402.50,663.70 402.70,664.02 402.90,664.87 403.10,666.23 403.30,668.08 403.50,670.35 403.70,672.98 403.90,675.91 404.10,679.06 404.30,682.35 404.50,685.67 404.70,688.95 404.90,692.10 405.10,695.03 405.30,697.67 405.50,699.94 405.70,701.78 405.90,703.14 406.10,703.99 406.30,704.30 406.50,704.07 406.70,703.29 406.90,702.00 407.10,700.23 407.30,698.02 407.50,695.43 407.70,692.54 407.90,689.42 408.10,686.15 408.30,682.83 408.50,679.53 408.70,676.36 408.90,673.39 409.10,670.71 409.30,668.38 409.50,666.47 409.70,665.03 409.90,664.11 410.10,663.71 410.30,663.87 410.50,664.56 410.70,665.77 410.90,667.48 411.10,669.62 411.30,672.16 411.50,675.01 411.70,678.10 411.90,681.35 412.10,684.68 412.30,687.98 412.50,691.18 412.70,694.18 412.90,696.91 413.10,699.30 413.30,701.27 413.50,702.78 413.70,703.79 413.90,704.26 414.10,704.19 414.30,703.58 414.50,702.44 414.70,700.81 414.90,698.73 415.10,696.25 415.30,693.44 415.50,690.38 415.70,687.14 415.90,683.82 416.10,680.51 416.30,677.29 416.50,674.25 416.70,671.48 416.90,669.03 417.10,667.00 417.30,665.41 417.50,664.33 417.70,663.77 417.90,663.76 418.10,664.29 418.30,665.35 418.50,666.92 418.70,668.94 418.90,671.36 419.10,674.12 419.30,677.15 419.50,680.37 419.70,683.68 419.90,687.00 420.10,690.23 420.30,693.31 420.50,696.13 420.70,698.62 420.90,700.73 421.10,702.38 421.30,703.54 421.50,704.18 421.70,704.27 421.90,703.82 422.10,702.84 422.30,701.35 422.50,699.40 422.70,697.03 422.90,694.31 423.10,691.32 423.30,688.12 423.50,684.82 423.70,681.50 423.90,678.24 424.10,675.14 424.30,672.28 424.50,669.73 424.70,667.56 424.90,665.84 425.10,664.60 425.30,663.88 425.50,663.71 425.70,664.08 425.90,664.98 426.10,666.40 426.30,668.28 426.50,670.59 426.70,673.26 426.90,676.22 427.10,679.39 427.30,682.68 427.50,686.00 427.70,689.28 427.90,692.41 428.10,695.31 428.30,697.91 428.50,700.14 428.70,701.93 428.90,703.25 429.10,704.04 429.30,704.30 429.50,704.01 429.70,703.19 429.90,701.85 430.10,700.03 430.30,697.78 430.50,695.16 430.70,692.24 430.90,689.10 431.10,685.82 431.30,682.49 431.50,679.21 431.70,676.05 431.90,673.11 432.10,670.46 432.30,668.17 432.50,666.31 432.70,664.92 432.90,664.04 433.10,663.70 433.30,663.91 433.50,664.66 433.70,665.92 433.90,667.67 434.10,669.86 434.30,672.43 434.50,675.31 434.70,678.42 434.90,681.68 435.10,685.01 435.30,688.31 435.50,691.49 435.70,694.47 435.90,697.17 436.10,699.51 436.30,701.44 436.50,702.91 436.70,703.86 436.90,704.28 437.10,704.16 437.30,703.49 437.50,702.30 437.70,700.62 437.90,698.49 438.10,695.98 438.30,693.14 438.50,690.06 438.70,686.81 438.90,683.49 439.10,680.18 439.30,676.98 439.50,673.96 439.70,671.22 439.90,668.81 440.10,666.82 440.30,665.28 440.50,664.25 440.70,663.75 440.90,663.79 441.10,664.38 441.30,665.49 441.50,667.10 441.70,669.16 441.90,671.62 442.10,674.42 442.30,677.47 442.50,680.69 442.70,684.01 442.90,687.32 443.10,690.55 443.30,693.60 443.50,696.39 443.70,698.85 443.90,700.91 444.10,702.52 444.30,703.63 444.50,704.21 444.70,704.25 444.90,703.75 445.10,702.71 445.30,701.17 445.50,699.18 445.70,696.77 445.90,694.02 446.10,691.00 446.30,687.80 446.50,684.49 446.70,681.17 446.90,677.92 447.10,674.84 447.30,672.01 447.50,669.49 447.70,667.37 447.90,665.69 448.10,664.50 448.30,663.84 448.50,663.72 448.70,664.14 448.90,665.10 449.10,666.56 449.30,668.50 449.50,670.85 449.70,673.55 449.90,676.53 450.10,679.71 450.30,683.01 450.50,686.34 450.70,689.60 450.90,692.71 451.10,695.59 451.30,698.15 451.50,700.34 451.70,702.09 451.90,703.35 452.10,704.09 452.30,704.30 452.50,703.95 452.70,703.08 452.90,701.69 453.10,699.82 453.30,697.53 453.50,694.88 453.70,691.93 453.90,688.77 454.10,685.49 454.30,682.16 454.50,678.88 454.70,675.75 454.90,672.83 455.10,670.21 455.30,667.96 455.50,666.14 455.70,664.81 455.90,663.98 456.10,663.70 456.30,663.96 456.50,664.76 456.70,666.07 456.90,667.87 457.10,670.10 457.30,672.70 457.50,675.61 457.70,678.74 457.90,682.01 458.10,685.34 458.30,688.63 458.50,691.80 458.70,694.75 458.90,697.42 459.10,699.73 459.30,701.61 459.50,703.02 459.70,703.93 459.90,704.29 460.10,704.11 460.30,703.39 460.50,702.15 460.70,700.43 460.90,698.26 461.10,695.71 461.30,692.84 461.50,689.74 461.70,686.48 461.90,683.16 462.10,679.86 462.30,676.67 462.50,673.67 462.70,670.96 462.90,668.59 463.10,666.64 463.30,665.16 463.50,664.18 463.70,663.73 463.90,663.83 464.10,664.46 464.30,665.63 464.50,667.28 464.70,669.39 464.90,671.89 465.10,674.71 465.30,677.78 465.50,681.02 465.70,684.34 465.90,687.65 466.10,690.86 466.30,693.89 466.50,696.65 466.70,699.08 466.90,701.09 467.10,702.65 467.30,703.71 467.50,704.24 467.70,704.22 467.90,703.67 468.10,702.58 468.30,700.99 468.50,698.95 468.70,696.51 468.90,693.73 469.10,690.69 469.30,687.47 469.50,684.16 469.70,680.84 469.90,677.61 470.10,674.55 470.30,671.74 470.50,669.26 470.70,667.18 470.90,665.55 471.10,664.41 471.30,663.81 471.50,663.74 471.70,664.22 471.90,665.22 472.10,666.74 472.30,668.71 472.50,671.10 472.70,673.83 472.90,676.84 473.10,680.04 473.30,683.34 473.50,686.67 473.70,689.92 473.90,693.01 474.10,695.86 474.30,698.39 474.50,700.54 474.70,702.24 474.90,703.45 475.10,704.14 475.30,704.29 475.50,703.89 475.70,702.96 475.90,701.52 476.10,699.61 476.30,697.28 476.50,694.60 476.70,691.63 476.90,688.45 477.10,685.16 477.30,681.83 477.50,678.56 477.70,675.44 477.90,672.55 478.10,669.97 478.30,667.76 478.50,665.99 478.70,664.70 478.90,663.93 479.10,663.70 479.30,664.02 479.50,664.87 479.70,666.23 479.90,668.08 480.10,670.35 480.30,672.98 480.50,675.91 480.70,679.06 480.90,682.35 481.10,685.67 481.30,688.95 481.50,692.10 481.70,695.03 481.90,697.67 482.10,699.94 482.30,701.78 482.50,703.14 482.70,703.99 482.90,704.30 483.10,704.07 483.30,703.29 483.50,702.00 483.70,700.23 483.90,698.02 484.10,695.43 484.30,692.54 484.50,689.42 484.70,686.15 484.90,682.83 485.10,679.53 485.30,676.36 485.50,673.39 485.70,670.71 485.90,668.38 486.10,666.47 486.30,665.03 486.50,664.11 486.70,663.71 486.90,663.87 487.10,664.56 487.30,665.77 487.50,667.48 487.70,669.62 487.90,672.16 488.10,675.01 488.30,678.10 488.50,681.35 488.70,684.68 488.90,687.98 489.10,691.18 489.30,694.18 489.50,696.91 489.70,699.30 489.90,701.27 490.10,702.78 490.30,703.79 490.50,704.26 490.70,704.19 490.90,703.58 491.10,702.44 491.30,700.81 491.50,698.73 491.70,696.25 491.90,693.44 492.10,690.38 492.30,687.14 492.50,683.82 492.70,680.51 492.90,677.29 493.10,674.25 493.30,671.48 493.50,669.03 493.70,667.00 493.90,665.41 494.10,664.33 494.30,663.77 494.50,663.76 494.70,664.29 494.90,665.35 495.10,666.92 495.30,668.94 495.50,671.36 495.70,674.12 495.90,677.15 496.10,680.37 496.30,683.68 496.50,687.00 496.70,690.23 496.90,693.31 497.10,696.13 497.30,698.62 497.50,700.73 497.70,702.38 497.90,703.54 498.10,704.18 498.30,704.27 498.50,703.82 498.70,702.84 498.90,701.35 499.10,699.40 499.30,697.03 499.50,694.31 499.70,691.32 499.90,688.12 500.10,684.82 500.30,681.50 500.50,678.24 500.70,675.14 500.90,672.28 501.10,669.73 501.30,667.56 501.50,665.84 501.70,664.60 501.90,663.88 502.10,663.71 502.30,664.08 502.50,664.98 502.70,666.40 502.90,668.28 503.10,670.59 503.30,673.26 503.50,676.22 503.70,679.39 503.90,682.68 504.10,686.00 504.30,689.28 504.50,692.41 504.70,695.31 504.90,697.91 505.10,700.14 505.30,701.93 505.50,703.25 505.70,704.04 505.90,704.30 506.10,704.01 506.30,703.19 506.50,701.85 506.70,700.03 506.90,697.78 507.10,695.16 507.30,692.24 507.50,689.10 507.70,685.82 507.90,682.49 508.10,679.21 508.30,676.05 508.50,673.11 508.70,670.46 508.90,668.17 509.10,666.31 509.30,664.92 509.50,664.04 509.70,663.70 509.90,663.91 510.10,664.66 510.30,665.92 510.50,667.67 510.70,669.86 510.90,672.43 511.10,675.31 511.30,678.42 511.50,681.68 511.70,685.01 511.90,688.31 512.10,691.49 512.30,694.47 512.50,697.17 512.70,699.51 512.90,701.44 513.10,702.91 513.30,703.86 513.50,704.28 513.70,704.16 513.90,703.49 514.10,702.30 514.30,700.62 514.50,698.49 514.70,695.98 514.90,693.14 515.10,690.06 515.30,686.81 515.50,683.49 515.70,680.18 515.90,676.98 516.10,673.96 516.30,671.22 516.50,668.81 516.70,666.82 516.90,665.28 517.10,664.25 517.30,663.75 517.50,663.79 517.70,664.38 517.90,665.49 518.10,667.10 518.30,669.16 518.50,671.62 518.70,674.42 518.90,677.47 519.10,680.69 519.30,684.01 519.50,687.32 519.70,690.55 519.90,693.60 520.10,696.39 520.30,698.85 520.50,700.91 520.70,702.52 520.90,703.63 521.10,704.21 521.30,704.25 521.50,703.75 521.70,702.71 521.90,701.17 522.10,699.18 522.30,696.77 522.50,694.02 522.70,691.00 522.90,687.80 523.10,684.49 523.30,681.17 523.50,677.92 523.70,674.84 523.90,672.01 524.10,669.49 524.30,667.37 524.50,665.69 524.70,664.50 524.90,663.84 525.10,663.72 525.30,664.14 525.50,665.10 525.70,666.56 525.90,668.50 526.10,670.85 526.30,673.55 526.50,676.53 526.70,679.71 526.90,683.01 527.10,686.34 527.30,689.60 527.50,692.71 527.70,695.59 527.90,698.15 528.10,700.34 528.30,702.09 528.50,703.35 528.70,704.09 528.90,704.30 529.10,703.95 529.30,703.08 529.50,701.69 529.70,699.82 529.90,697.53 530.10,694.88 530.30,691.93 530.50,688.77 530.70,685.49 530.90,682.16 531.10,678.88 531.30,675.75 531.50,672.83 531.70,670.21 531.90,667.96 532.10,666.14 532.30,664.81 532.50,663.98 532.70,663.70 532.90,663.96 533.10,664.76 533.30,666.07 533.50,667.87 533.70,670.10 533.90,672.70 534.10,675.61 534.30,678.74 534.50,682.01 534.70,685.34 534.90,688.63 535.10,691.80 535.30,694.75 535.50,697.42 535.70,699.73 535.90,701.61 536.10,703.02 536.30,703.93 536.50,704.29 536.70,704.11 536.90,703.39 537.10,702.15 537.30,700.43 537.50,698.26 537.70,695.71 537.90,692.84 538.10,689.74 538.30,686.48 538.50,683.16 538.70,679.86 538.90,676.67 539.10,673.67 539.30,670.96 539.50,668.59 539.70,666.64 539.90,665.16 540.10,664.18 540.30,663.73 540.50,663.83 540.70,664.46 540.90,665.63 541.10,667.28 541.30,669.39 541.50,671.89 541.70,674.71 541.90,677.78 542.10,681.02 542.30,684.34 542.50,687.65 542.70,690.86 542.90,693.89 543.10,696.65 543.30,699.08 543.50,701.09 543.70,702.65 543.90,703.71 544.10,704.24 544.30,704.22 544.50,703.67 544.70,702.58 544.90,700.99 545.10,698.95 545.30,696.51 545.50,693.73 545.70,690.69 545.90,687.47 546.10,684.16 546.30,680.84 546.50,677.61 546.70,674.55 546.90,671.74 547.10,669.26 547.30,667.18 547.50,665.55 547.70,664.41 547.90,663.81 548.10,663.74 548.30,664.22 548.50,665.22 548.70,666.74 548.90,668.71 549.10,671.10 549.30,673.83 549.50,676.84 549.70,680.04 549.90,683.34 550.10,686.67 550.30,689.92 550.50,693.01 550.70,695.86 550.90,698.39 551.10,700.54 551.30,702.24 551.50,703.45 551.70,704.14 551.90,704.29 552.10,703.89 552.30,702.96 552.50,701.52 552.70,699.61 552.90,697.28 553.10,694.60 553.30,691.63 553.50,688.45 553.70,685.16 553.90,681.83 554.10,678.56 554.30,675.44 554.50,672.55 554.70,669.97 554.90,667.76 555.10,665.99 555.30,664.70 555.50,663.93 555.70,663.70 555.90,664.02 556.10,664.87 556.30,666.23 556.50,668.08 556.70,670.35 556.90,672.98 557.10,675.91 557.30,679.06 557.50,682.35 557.70,685.67 557.90,688.95 558.10,692.10 558.30,695.03 558.50,697.67 558.70,699.94 558.90,701.78 559.10,703.14 559.30,703.99 559.50,704.30 559.70,704.07 559.90,703.29 560.10,702.00 560.30,700.23 560.50,698.02 560.70,695.43 560.90,692.54 561.10,689.42 561.30,686.15 561.50,682.83 561.70,679.53 561.90,676.36 562.10,673.39 562.30,670.71 562.50,668.38 562.70,666.47 562.90,665.03 563.10,664.11 563.30,663.71 563.50,663.87 563.70,664.56 563.90,665.77 564.10,667.48 564.30,669.62 564.50,672.16 564.70,675.01 564.90,678.10 565.10,681.35 565.30,684.68 565.50,687.98 565.70,691.18 565.90,694.18 566.10,696.91 566.30,699.30 566.50,701.27 566.70,702.78 566.90,703.79 567.10,704.26 567.30,704.19 567.50,703.58 567.70,702.44 567.90,700.81 568.10,698.73 568.30,696.25 568.50,693.44 568.70,690.38 568.90,687.14 569.10,683.82 569.30,680.51 569.50,677.29 569.70,674.25 569.90,671.48 570.10,669.03 570.30,667.00 570.50,665.41 570.70,664.33 570.90,663.77 571.10,663.76 571.30,664.29 571.50,665.35 571.70,666.92 571.90,668.94 572.10,671.36 572.30,674.12 572.50,677.15 572.70,680.37 572.90,683.68 573.10,687.00 573.30,690.23 573.50,693.31 573.70,696.13 573.90,698.62 574.10,700.73 574.30,702.38 574.50,703.54 574.70,704.18 574.90,704.27 575.10,703.82 575.30,702.84 575.50,701.35 575.70,699.40 575.90,697.03 576.10,694.31 576.30,691.32 576.50,688.12 576.70,684.82 576.90,681.50 577.10,678.24 577.30,675.14 577.50,672.28 577.70,669.73 577.90,667.56 578.10,665.84 578.30,664.60 578.50,663.88 578.70,663.71 578.90,664.08 579.10,664.98 579.30,666.40 579.50,668.28 579.70,670.59 579.90,673.26 580.10,676.22 580.30,679.39 580.50,682.68 580.70,686.00 580.90,689.28 581.10,692.41 581.30,695.31 581.50,697.91 581.70,700.14 581.90,701.93 582.10,703.25 582.30,704.04 582.50,704.30 582.70,704.01 582.90,703.19 583.10,701.85 583.30,700.03 583.50,697.78 583.70,695.16 583.90,692.24 584.10,689.10 584.30,685.82 584.50,682.49 584.70,679.21 584.90,676.05 585.10,673.11 585.30,670.46 585.50,668.17 585.70,666.31 585.90,664.92 586.10,664.04 586.30,663.70 586.50,663.91 586.70,664.66 586.90,665.92 587.10,667.67 587.30,669.86 587.50,672.43 587.70,675.31 587.90,678.42 588.10,681.68 588.30,685.01 588.50,688.31 588.70,691.49 588.90,694.47 589.10,697.17 589.30,699.51 589.50,701.44 589.70,702.91 589.90,703.86 590.10,704.28 590.30,704.16 590.50,703.49 590.70,702.30 590.90,700.62 591.10,698.49 591.30,695.98 591.50,693.14 591.70,690.06 591.90,686.81 592.10,683.49 592.30,680.18 592.50,676.98 592.70,673.96 592.90,671.22 593.10,668.81 593.30,666.82 593.50,665.28 593.70,664.25 593.90,663.75 594.10,663.79 594.30,664.38 594.50,665.49 594.70,667.10 594.90,669.16 595.10,671.62 595.30,674.42 595.50,677.47 595.70,680.69 595.90,684.01 596.10,687.32 596.30,690.55 596.50,693.60 596.70,696.39 596.90,698.85 597.10,700.91 597.30,702.52 597.50,703.63 597.70,704.21 597.90,704.25 598.10,703.75 598.30,702.71 598.50,701.17 598.70,699.18 598.90,696.77 599.10,694.02 599.30,691.00 599.50,687.80 599.70,684.49 599.90,681.17 600.10,677.92 600.30,674.84 600.50,672.01 600.70,669.49 600.90,667.37 601.10,665.69 601.30,664.50 601.50,663.84 601.70,663.72 601.90,664.14 602.10,665.10 602.30,666.56 602.50,668.50 602.70,670.85 602.90,673.55 603.10,676.53 603.30,679.71 603.50,683.01 603.70,686.34 603.90,689.60 604.10,692.71 604.30,695.59 604.50,698.15 604.70,700.34 604.90,702.09 605.10,703.35 605.30,704.09 605.50,704.30 605.70,703.95 605.90,703.08 606.10,701.69 606.30,699.82 606.50,697.53 606.70,694.88 606.90,691.93 607.10,688.77 607.30,685.49 607.50,682.16 607.70,678.88 607.90,675.75 608.10,672.83 608.30,670.21 608.50,667.96 608.70,666.14 608.90,664.81 609.10,663.98 609.30,663.70 609.50,663.96 609.70,664.76 609.90,666.07 610.10,667.87 610.30,670.10 610.50,672.70 610.70,675.61 610.90,678.74 611.10,682.01 611.30,685.34 611.50,688.63 611.70,691.80 611.90,694.75 612.10,697.42 612.30,699.73 612.50,701.61 612.70,703.02 612.90,703.93 613.10,704.29 613.30,704.11 613.50,703.39 613.70,702.15 613.90,700.43 614.10,698.26 614.30,695.71 614.50,692.84 614.70,689.74 614.90,686.48 615.10,683.16 615.30,679.86 615.50,676.67 615.70,673.67 615.90,670.96 616.10,668.59 616.30,666.64 616.50,665.16 616.70,664.18 616.90,663.73 617.10,663.83 617.30,664.46 617.50,665.63 617.70,667.28 617.90,669.39 618.10,671.89 618.30,674.71 618.50,677.78 618.70,681.02 618.90,684.34 619.10,687.65 619.30,690.86 619.50,693.89 619.70,696.65 619.90,699.08 620.10,701.09 620.30,702.65 620.50,703.71 620.70,704.24 620.90,704.22 621.10,703.67 621.30,702.58 621.50,700.99 621.70,698.95 621.90,696.51 622.10,693.73 622.30,690.69 622.50,687.47 622.70,684.16 622.90,680.84 623.10,677.61 623.30,674.55 623.50,671.74 623.70,669.26 623.90,667.18 624.10,665.55 624.30,664.41 624.50,663.81 624.70,663.74 624.90,664.22 625.10,665.22 625.30,666.74 625.50,668.71 625.70,671.10 625.90,673.83 626.10,676.84 626.30,680.04 626.50,683.34 626.70,686.67 626.90,689.92 627.10,693.01 627.30,695.86 627.50,698.39 627.70,700.54 627.90,702.24 628.10,703.45 628.30,704.14 628.50,704.29 628.70,703.89 628.90,702.96 629.10,701.52 629.30,699.61 629.50,697.28 629.70,694.60 629.90,691.63 630.10,688.45 630.30,685.16 630.50,681.83 630.70,678.56 630.90,675.44 631.10,672.55 631.30,669.97 631.50,667.76 631.70,665.99 631.90,664.70 632.10,663.93 632.30,663.70 632.50,664.02 632.70,664.87 632.90,666.23 633.10,668.08 633.30,670.35 633.50,672.98 633.70,675.91 633.90,679.06 634.10,682.35 634.30,685.67 634.50,688.95 634.70,692.10 634.90,695.03 635.10,697.67 635.30,699.94 635.50,701.78 635.70,703.14 635.90,703.99 636.10,704.30 636.30,704.07 636.50,703.29 636.70,702.00 636.90,700.23 637.10,698.02 637.30,695.43 637.50,692.54 637.70,689.42 637.90,686.15 638.10,682.83 638.30,679.53 638.50,676.36 638.70,673.39 638.90,670.71 639.10,668.38 639.30,666.47 639.50,665.03 639.70,664.11 639.90,663.71 640.10,663.87 640.30,664.56 640.50,665.77 640.70,667.48 640.90,669.62 641.10,672.16 641.30,675.01 641.50,678.10 641.70,681.35 641.90,684.68 642.10,687.98 642.30,691.18 642.50,694.18 642.70,696.91 642.90,699.30 643.10,701.27 643.30,702.78 643.50,703.79 643.70,704.26 643.90,704.19 644.10,703.58 644.30,702.44 644.50,700.81 644.70,698.73 644.90,696.25 645.10,693.44 645.30,690.38 645.50,687.14 645.70,683.82 645.90,680.51 646.10,677.29 646.30,674.25 646.50,671.48 646.70,669.03 646.90,667.00 647.10,665.41 647.30,664.33 647.50,663.77 647.70,663.76 647.90,664.29 648.10,665.35 648.30,666.92 648.50,668.94 648.70,671.36 648.90,674.12 649.10,677.15 649.30,680.37 649.50,683.68 649.70,687.00 649.90,690.23 650.10,693.31 650.30,696.13 650.50,698.62 650.70,700.73 650.90,702.38 651.10,703.54 651.30,704.18 651.50,704.27 651.70,703.82 651.90,702.84 652.10,701.35 652.30,699.40 652.50,697.03 652.70,694.31 652.90,691.32 653.10,688.12 653.30,684.82 653.50,681.50 653.70,678.24 653.90,675.14 654.10,672.28 654.30,669.73 654.50,667.56 654.70,665.84 654.90,664.60 655.10,663.88 655.30,663.71 655.50,664.08 655.70,664.98 655.90,666.40 656.10,668.28 656.30,670.59 656.50,673.26 656.70,676.22 656.90,679.39" fill="none" stroke="#0000ff" stroke-width="2.4" stroke-linejoin="round" stroke-linecap="round"/>
<path d="M82.50,871.80 C145.00,871.80 207.50,871.80 270.00,871.80 C272.00,871.80 274.00,871.80 276.00,871.80 C276.73,871.80 277.47,871.20 278.20,871.20 C279.13,871.20 280.07,874.70 281.00,874.70 C281.73,874.70 282.47,870.60 283.20,868.00 C283.83,865.75 284.47,862.38 285.10,860.00 C286.27,855.62 287.43,852.22 288.60,848.40 C289.57,845.23 290.53,842.02 291.50,839.00 C292.67,835.36 293.83,831.55 295.00,828.50 C296.17,825.45 297.33,822.54 298.50,820.40 C300.07,817.53 301.63,815.31 303.20,813.40 C305.13,811.05 307.07,809.23 309.00,807.50 C310.97,805.74 312.93,803.73 314.90,802.80 C317.23,801.70 319.57,800.64 321.90,800.50 C323.83,800.38 325.77,800.30 327.70,800.30 C330.03,800.30 332.37,801.09 334.70,801.70 C336.47,802.16 338.23,803.02 340.00,803.60 C343.10,804.62 346.20,805.64 349.30,806.40 C353.20,807.36 357.10,808.39 361.00,808.80 C365.83,809.31 370.67,809.71 375.50,809.80 C382.33,809.92 389.17,810.00 396.00,810.00 C414.00,810.00 432.00,809.50 450.00,809.50 C519.00,809.50 588.00,809.50 657.00,809.50" fill="none" stroke="#d95319" stroke-width="4.6" stroke-linejoin="round" stroke-linecap="round"/>
<path d="M82.50,957.90 C145.00,957.90 207.50,957.90 270.00,957.90 C271.43,957.90 272.87,957.90 274.30,957.90 C274.90,957.90 275.50,961.15 276.10,963.70 C276.67,966.11 277.23,971.09 277.80,974.20 C278.60,978.59 279.40,982.63 280.20,985.90 C280.97,989.03 281.73,992.54 282.50,994.00 C283.10,995.14 283.70,996.40 284.30,996.40 C285.27,996.40 286.23,992.90 287.20,992.90 C288.13,992.90 289.07,993.87 290.00,994.50 C291.00,995.18 292.00,995.98 293.00,997.00 C294.57,998.59 296.13,1001.39 297.70,1003.40 C299.63,1005.88 301.57,1008.30 303.50,1010.40 C305.47,1012.53 307.43,1014.45 309.40,1016.20 C311.33,1017.92 313.27,1019.83 315.20,1020.90 C317.53,1022.19 319.87,1023.29 322.20,1023.80 C324.93,1024.40 327.67,1025.00 330.40,1025.00 C332.73,1025.00 335.07,1024.69 337.40,1024.40 C339.93,1024.09 342.47,1023.13 345.00,1022.70 C350.33,1021.79 355.67,1021.11 361.00,1020.60 C366.83,1020.04 372.67,1019.30 378.50,1019.30 C402.33,1019.30 426.17,1019.50 450.00,1019.50 C519.00,1019.50 588.00,1019.50 657.00,1019.50" fill="none" stroke="#7e2f8e" stroke-width="4.6" stroke-linejoin="round" stroke-linecap="round"/>
<text x="37.94" y="14.96" font-size="20.50" font-style="normal" font-weight="normal">10</text>
<text x="47.92" y="82.16" font-size="20.50" font-style="normal" font-weight="normal">0</text>
<text x="31.77" y="155.86" font-size="20.50" font-style="normal" font-weight="normal">-10</text>
<text x="51.17" y="203.16" font-size="20.50" font-style="normal" font-weight="normal">5</text>
<text x="48.73" y="294.81" font-size="20.50" font-style="normal" font-weight="normal">0</text>
<text x="33.77" y="312.51" font-size="20.50" font-style="normal" font-weight="normal">1.5</text>
<text x="50.72" y="345.61" font-size="20.50" font-style="normal" font-weight="normal">1</text>
<text x="32.74" y="378.71" font-size="20.50" font-style="normal" font-weight="normal">0.5</text>
<text x="47.83" y="414.91" font-size="20.50" font-style="normal" font-weight="normal">0</text>
<text x="26.10" y="446.66" font-size="20.50" font-style="normal" font-weight="normal">-0.5</text>
<text x="63.22" y="462.06" font-size="20.50" font-style="normal" font-weight="normal">0</text>
<text x="242.14" y="462.06" font-size="20.50" font-style="normal" font-weight="normal">0.5</text>
<text x="439.37" y="462.06" font-size="20.50" font-style="normal" font-weight="normal">1</text>
<text x="619.88" y="461.56" font-size="20.50" font-style="normal" font-weight="normal">1.5</text>
<text x="47.35" y="629.35" font-size="26.00" font-style="normal" font-weight="normal">10</text>
<text x="56.30" y="687.35" font-size="26.00" font-style="normal" font-weight="normal">0</text>
<text x="45.21" y="753.50" font-size="26.00" font-style="normal" font-weight="normal">-10</text>
<text x="55.03" y="779.95" font-size="26.00" font-style="normal" font-weight="normal">2</text>
<text x="54.56" y="841.05" font-size="26.00" font-style="normal" font-weight="normal">1</text>
<text x="53.65" y="901.05" font-size="26.00" font-style="normal" font-weight="normal">0</text>
<text x="43.75" y="923.02" font-size="26.00" font-style="normal" font-weight="normal">1.5</text>
<text x="62.36" y="967.00" font-size="26.00" font-style="normal" font-weight="normal">1</text>
<text x="42.00" y="1011.90" font-size="26.00" font-style="normal" font-weight="normal">0.5</text>
<text x="65.85" y="1059.65" font-size="26.00" font-style="normal" font-weight="normal">0</text>
<text x="75.65" y="1074.45" font-size="26.00" font-style="normal" font-weight="normal">0</text>
<text x="257.05" y="1074.15" font-size="26.00" font-style="normal" font-weight="normal">0.5</text>
<text x="457.41" y="1073.95" font-size="26.00" font-style="normal" font-weight="normal">1</text>
<text x="637.35" y="1074.72" font-size="26.00" font-style="normal" font-weight="normal">1.5</text>
<text transform="translate(26.30,76.60) rotate(-90)" text-anchor="middle" font-size="20.00"><tspan font-style="italic" font-weight="normal">U</tspan><tspan font-size="13.20" dy="3.00">re</tspan><tspan dy="-3.00">/kV</tspan></text>
<g transform="translate(27.00,257.30) rotate(-90)"><text transform="translate(-1.37,0) scale(1.3,1)" font-size="21.00" font-style="italic">&#952;</text><text x="17.86" y="2.80" font-size="12.00">re</text><text transform="translate(26.60,0) scale(1.59,1)" font-size="20.00">/</text><text x="33.90" y="0" font-size="20.00">rad</text></g>
<text transform="translate(26.20,362.70) rotate(-90)" text-anchor="middle" font-size="20.30"><tspan font-style="italic" font-weight="normal">P</tspan><tspan font-size="13.40" dy="3.04">re</tspan><tspan dy="-3.04">/MW</tspan></text>
<text transform="translate(33.00,682.30) rotate(-90)" text-anchor="middle" font-size="26.00"><tspan font-style="italic" font-weight="normal">U</tspan><tspan font-size="17.16" dy="3.90">re</tspan><tspan dy="-3.90">/kV</tspan></text>
<g transform="translate(33.20,880.30) rotate(-90)"><text transform="translate(-1.59,0) scale(1.22,1)" font-size="26.00" font-style="italic">&#952;</text><text x="22.69" y="2.80" font-size="15.50">re</text><text transform="translate(33.80,0) scale(1.67,1)" font-size="25.80">/</text><text x="42.98" y="0" font-size="25.80">rad</text></g>
<text transform="translate(32.50,978.30) rotate(-90)" text-anchor="middle" font-size="25.60"><tspan font-style="italic" font-weight="normal">P</tspan><tspan font-size="16.90" dy="3.84">re</tspan><tspan dy="-3.84">/MW</tspan></text>
<text x="341" y="472" font-size="20.5"><tspan font-style="italic">t</tspan>/s</text>
<text x="356" y="1084" font-size="25.5"><tspan font-style="italic">t</tspan>/s</text>
<text x="-1.01" y="556.30" font-size="37.70" font-style="normal" font-weight="normal">(a) VSCOM inertia</text>
<text x="296.74" y="556.30" font-size="38.00" font-style="italic" font-weight="normal">J</text>
<text x="323.30" y="556.30" font-size="38.00" font-style="normal" font-weight="normal">=</text>
<text x="355.48" y="556.30" font-size="38.00" font-style="normal" font-weight="normal">2, damping</text>
<text x="534.88" y="556.30" font-size="38.00" font-style="italic" font-weight="normal">D</text>
<text x="570.40" y="556.30" font-size="38.00" font-style="normal" font-weight="normal">=</text>
<text x="604.28" y="556.30" font-size="38.00" font-style="normal" font-weight="normal">15</text>
<text x="-1.01" y="1173.00" font-size="37.80" font-style="normal" font-weight="normal">(b) VSCOM inertia</text>
<text x="299.14" y="1173.00" font-size="38.00" font-style="italic" font-weight="normal">J</text>
<text x="326.00" y="1173.00" font-size="38.00" font-style="normal" font-weight="normal">=</text>
<text x="356.98" y="1173.00" font-size="38.00" font-style="normal" font-weight="normal">0.5, damping</text>
<text transform="translate(572.15,1166.30) scale(1.27,1)" font-size="27.50" font-style="italic" font-weight="normal">D</text>
<text transform="translate(614.11,1173.00) scale(1.1,1)" font-size="38.00" font-style="normal" font-weight="normal">=</text>
<text x="647.24" y="1173.00" font-size="38.00" font-style="normal" font-weight="normal">40</text>
</svg>
</body></html>
